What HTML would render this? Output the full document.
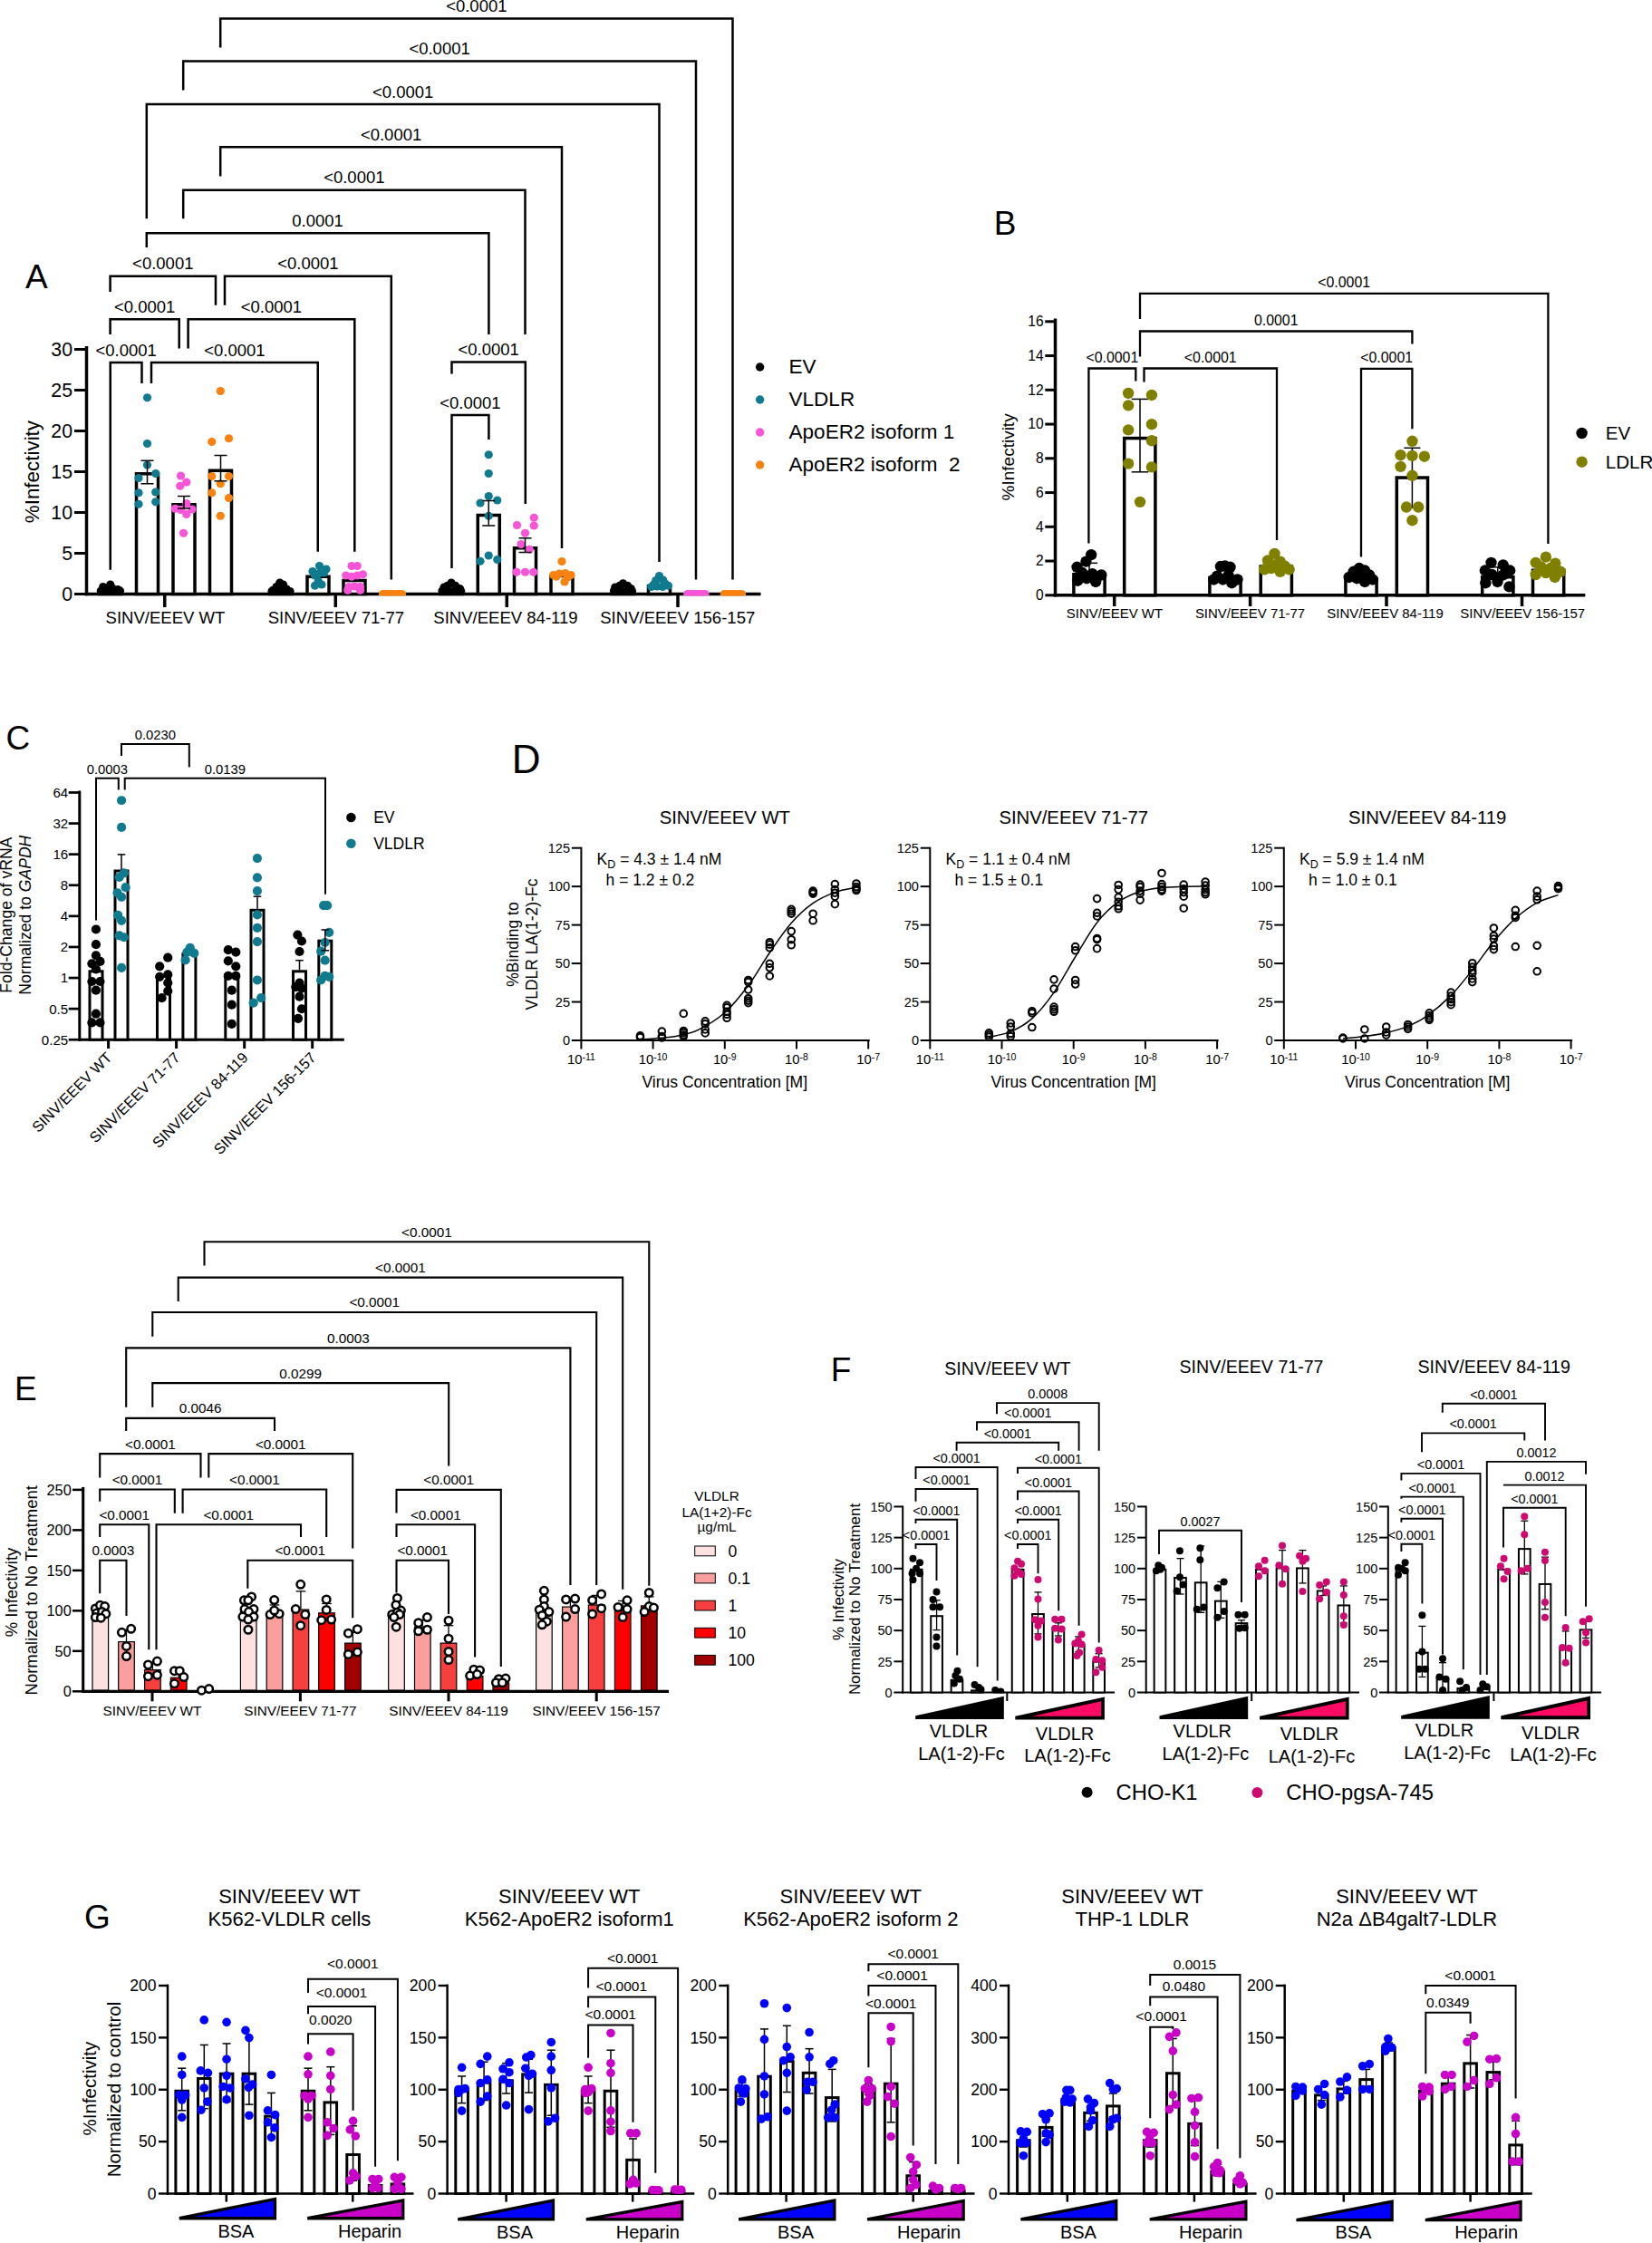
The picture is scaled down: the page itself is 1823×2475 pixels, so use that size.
<!DOCTYPE html>
<html lang="en"><head><meta charset="utf-8"><title>Figure</title>
<style>html,body{margin:0;padding:0;background:#fff}svg{display:block}text{font-family:'Liberation Sans', sans-serif;fill:#000}</style>
</head><body>
<svg width="1823" height="2475" viewBox="0 0 1823 2475">
<rect width="1823" height="2475" fill="#fff"/>
<text x="27.9" y="317.9" font-size="37" text-anchor="start">A</text>
<text x="42.8" y="520.6" font-size="22.4" text-anchor="middle" transform="rotate(-90 42.8 520.6)">%Infectivity</text>
<text x="80" y="662.5" font-size="21.3" text-anchor="end">0</text>
<text x="80" y="617.5" font-size="21.3" text-anchor="end">5</text>
<text x="80" y="572.5" font-size="21.3" text-anchor="end">10</text>
<text x="80" y="527.5" font-size="21.3" text-anchor="end">15</text>
<text x="80" y="482.5" font-size="21.3" text-anchor="end">20</text>
<text x="80" y="437.5" font-size="21.3" text-anchor="end">25</text>
<text x="80" y="392.5" font-size="21.3" text-anchor="end">30</text>
<text x="182.5" y="687.5" font-size="18.55" text-anchor="middle">SINV/EEEV WT</text>
<text x="370.9" y="687.5" font-size="18.55" text-anchor="middle">SINV/EEEV 71-77</text>
<text x="558" y="687.5" font-size="18.55" text-anchor="middle">SINV/EEEV 84-119</text>
<text x="747.75" y="687.5" font-size="18.55" text-anchor="middle">SINV/EEEV 156-157</text>
<line x1="95.5" y1="382" x2="95.5" y2="657.25" stroke="#000" stroke-width="3.5" stroke-linecap="butt"/>
<line x1="93.75" y1="655.5" x2="839.5" y2="655.5" stroke="#000" stroke-width="3.5" stroke-linecap="butt"/>
<line x1="82" y1="655.5" x2="95.5" y2="655.5" stroke="#000" stroke-width="3" stroke-linecap="butt"/>
<line x1="82" y1="610.5" x2="95.5" y2="610.5" stroke="#000" stroke-width="3" stroke-linecap="butt"/>
<line x1="82" y1="565.5" x2="95.5" y2="565.5" stroke="#000" stroke-width="3" stroke-linecap="butt"/>
<line x1="82" y1="520.5" x2="95.5" y2="520.5" stroke="#000" stroke-width="3" stroke-linecap="butt"/>
<line x1="82" y1="475.5" x2="95.5" y2="475.5" stroke="#000" stroke-width="3" stroke-linecap="butt"/>
<line x1="82" y1="430.5" x2="95.5" y2="430.5" stroke="#000" stroke-width="3" stroke-linecap="butt"/>
<line x1="82" y1="385.5" x2="95.5" y2="385.5" stroke="#000" stroke-width="3" stroke-linecap="butt"/>
<line x1="181.75" y1="655.5" x2="181.75" y2="670" stroke="#000" stroke-width="3.5" stroke-linecap="butt"/>
<line x1="370.25" y1="655.5" x2="370.25" y2="670" stroke="#000" stroke-width="3.5" stroke-linecap="butt"/>
<line x1="559.25" y1="655.5" x2="559.25" y2="670" stroke="#000" stroke-width="3.5" stroke-linecap="butt"/>
<line x1="748" y1="655.5" x2="748" y2="670" stroke="#000" stroke-width="3.5" stroke-linecap="butt"/>
<rect x="109.75" y="652.25" width="24" height="3.25" fill="#fff" stroke="#000" stroke-width="3.5"/>
<rect x="150.5" y="522.75" width="24" height="132.75" fill="#fff" stroke="#000" stroke-width="3.5"/>
<rect x="191" y="556.75" width="24" height="98.75" fill="#fff" stroke="#000" stroke-width="3.5"/>
<rect x="231.5" y="519.25" width="24" height="136.25" fill="#fff" stroke="#000" stroke-width="3.5"/>
<rect x="298" y="652.75" width="24" height="2.75" fill="#fff" stroke="#000" stroke-width="3.5"/>
<rect x="339" y="636.25" width="24" height="19.25" fill="#fff" stroke="#000" stroke-width="3.5"/>
<rect x="379" y="640.5" width="24" height="15" fill="#fff" stroke="#000" stroke-width="3.5"/>
<rect x="486.25" y="652.25" width="24" height="3.25" fill="#fff" stroke="#000" stroke-width="3.5"/>
<rect x="527.25" y="568.5" width="24" height="87" fill="#fff" stroke="#000" stroke-width="3.5"/>
<rect x="567.5" y="604.75" width="24" height="50.75" fill="#fff" stroke="#000" stroke-width="3.5"/>
<rect x="608" y="635.5" width="24" height="20" fill="#fff" stroke="#000" stroke-width="3.5"/>
<rect x="675.5" y="652.25" width="24" height="3.25" fill="#fff" stroke="#000" stroke-width="3.5"/>
<rect x="715.5" y="646.75" width="24" height="8.75" fill="#fff" stroke="#000" stroke-width="3.5"/>
<clipPath id="clipA"><rect x="90" y="300" width="760" height="357.25"/></clipPath>
<g clip-path="url(#clipA)">
<circle cx="113.75" cy="647.5" r="4.6" fill="#000"/>
<circle cx="121.75" cy="645" r="4.6" fill="#000"/>
<circle cx="130" cy="650.5" r="4.6" fill="#000"/>
<circle cx="111.25" cy="652" r="4.6" fill="#000"/>
<circle cx="118.75" cy="652" r="4.6" fill="#000"/>
<circle cx="125.5" cy="652.5" r="4.6" fill="#000"/>
<circle cx="132.5" cy="652" r="4.6" fill="#000"/>
<circle cx="116.25" cy="649.5" r="4.6" fill="#000"/>
<circle cx="123.75" cy="648.75" r="4.6" fill="#000"/>
<circle cx="162.5" cy="438.75" r="4.6" fill="#107A8E"/>
<circle cx="162.5" cy="489.5" r="4.6" fill="#107A8E"/>
<circle cx="162.5" cy="513" r="4.6" fill="#107A8E"/>
<circle cx="171.75" cy="522.5" r="4.6" fill="#107A8E"/>
<circle cx="153" cy="527.5" r="4.6" fill="#107A8E"/>
<circle cx="153" cy="543.75" r="4.6" fill="#107A8E"/>
<circle cx="171.75" cy="543" r="4.6" fill="#107A8E"/>
<circle cx="153" cy="556.25" r="4.6" fill="#107A8E"/>
<circle cx="171.75" cy="553.75" r="4.6" fill="#107A8E"/>
<circle cx="199.5" cy="525" r="4.6" fill="#F755D8"/>
<circle cx="205.75" cy="532" r="4.6" fill="#F755D8"/>
<circle cx="198.75" cy="536.25" r="4.6" fill="#F755D8"/>
<circle cx="205.75" cy="555.5" r="4.6" fill="#F755D8"/>
<circle cx="193.25" cy="561.25" r="4.6" fill="#F755D8"/>
<circle cx="199.5" cy="562.5" r="4.6" fill="#F755D8"/>
<circle cx="212" cy="562" r="4.6" fill="#F755D8"/>
<circle cx="205.75" cy="567.5" r="4.6" fill="#F755D8"/>
<circle cx="202.5" cy="588.25" r="4.6" fill="#F755D8"/>
<circle cx="243.25" cy="431.5" r="4.6" fill="#F8820F"/>
<circle cx="252.5" cy="483.75" r="4.6" fill="#F8820F"/>
<circle cx="233.75" cy="487.5" r="4.6" fill="#F8820F"/>
<circle cx="233.75" cy="525.5" r="4.6" fill="#F8820F"/>
<circle cx="252.5" cy="525.5" r="4.6" fill="#F8820F"/>
<circle cx="243.25" cy="533.75" r="4.6" fill="#F8820F"/>
<circle cx="233.75" cy="543.75" r="4.6" fill="#F8820F"/>
<circle cx="252.5" cy="549.5" r="4.6" fill="#F8820F"/>
<circle cx="243.25" cy="569.25" r="4.6" fill="#F8820F"/>
<circle cx="301.25" cy="651.25" r="4.6" fill="#000"/>
<circle cx="308.75" cy="643" r="4.6" fill="#000"/>
<circle cx="312.5" cy="645" r="4.6" fill="#000"/>
<circle cx="305" cy="647.5" r="4.6" fill="#000"/>
<circle cx="316.25" cy="650" r="4.6" fill="#000"/>
<circle cx="320" cy="652.5" r="4.6" fill="#000"/>
<circle cx="300" cy="652.5" r="4.6" fill="#000"/>
<circle cx="307.5" cy="652" r="4.6" fill="#000"/>
<circle cx="313.75" cy="652" r="4.6" fill="#000"/>
<circle cx="352.5" cy="624.5" r="4.6" fill="#107A8E"/>
<circle cx="345" cy="630.5" r="4.6" fill="#107A8E"/>
<circle cx="360" cy="628" r="4.6" fill="#107A8E"/>
<circle cx="352.5" cy="632.5" r="4.6" fill="#107A8E"/>
<circle cx="347.5" cy="635" r="4.6" fill="#107A8E"/>
<circle cx="351.25" cy="641.25" r="4.6" fill="#107A8E"/>
<circle cx="347.5" cy="646.25" r="4.6" fill="#107A8E"/>
<circle cx="355" cy="645" r="4.6" fill="#107A8E"/>
<circle cx="357.5" cy="632" r="4.6" fill="#107A8E"/>
<circle cx="388" cy="624.5" r="4.6" fill="#F755D8"/>
<circle cx="394.25" cy="624.5" r="4.6" fill="#F755D8"/>
<circle cx="381.75" cy="635" r="4.6" fill="#F755D8"/>
<circle cx="388" cy="636.25" r="4.6" fill="#F755D8"/>
<circle cx="394.25" cy="635" r="4.6" fill="#F755D8"/>
<circle cx="400.5" cy="633.75" r="4.6" fill="#F755D8"/>
<circle cx="385" cy="647.5" r="4.6" fill="#F755D8"/>
<circle cx="391.25" cy="647" r="4.6" fill="#F755D8"/>
<circle cx="397.5" cy="647.5" r="4.6" fill="#F755D8"/>
<circle cx="383.75" cy="651.25" r="4.6" fill="#F755D8"/>
<circle cx="397.5" cy="651.25" r="4.6" fill="#F755D8"/>
<circle cx="422.5" cy="655.5" r="4.6" fill="#F8820F"/>
<circle cx="425.5" cy="655.5" r="4.6" fill="#F8820F"/>
<circle cx="428.5" cy="655.5" r="4.6" fill="#F8820F"/>
<circle cx="431.5" cy="655.5" r="4.6" fill="#F8820F"/>
<circle cx="434.5" cy="655.5" r="4.6" fill="#F8820F"/>
<circle cx="437.5" cy="655.5" r="4.6" fill="#F8820F"/>
<circle cx="440.5" cy="655.5" r="4.6" fill="#F8820F"/>
<circle cx="443.5" cy="655.5" r="4.6" fill="#F8820F"/>
<circle cx="490" cy="648" r="4.6" fill="#000"/>
<circle cx="498" cy="643" r="4.6" fill="#000"/>
<circle cx="502.5" cy="646.25" r="4.6" fill="#000"/>
<circle cx="493.75" cy="646.25" r="4.6" fill="#000"/>
<circle cx="507.5" cy="649.5" r="4.6" fill="#000"/>
<circle cx="488" cy="652" r="4.6" fill="#000"/>
<circle cx="495" cy="652" r="4.6" fill="#000"/>
<circle cx="501.25" cy="652" r="4.6" fill="#000"/>
<circle cx="508.75" cy="652.5" r="4.6" fill="#000"/>
<circle cx="539.25" cy="501.75" r="4.6" fill="#107A8E"/>
<circle cx="539.25" cy="522.5" r="4.6" fill="#107A8E"/>
<circle cx="539.25" cy="547.5" r="4.6" fill="#107A8E"/>
<circle cx="548.75" cy="552" r="4.6" fill="#107A8E"/>
<circle cx="530" cy="555" r="4.6" fill="#107A8E"/>
<circle cx="539.25" cy="569.25" r="4.6" fill="#107A8E"/>
<circle cx="539.25" cy="613" r="4.6" fill="#107A8E"/>
<circle cx="530" cy="619.25" r="4.6" fill="#107A8E"/>
<circle cx="548.75" cy="617.5" r="4.6" fill="#107A8E"/>
<circle cx="589.25" cy="571.25" r="4.6" fill="#F755D8"/>
<circle cx="570.5" cy="579.5" r="4.6" fill="#F755D8"/>
<circle cx="589.25" cy="580" r="4.6" fill="#F755D8"/>
<circle cx="579.5" cy="588.25" r="4.6" fill="#F755D8"/>
<circle cx="575" cy="600.5" r="4.6" fill="#F755D8"/>
<circle cx="584.25" cy="606.25" r="4.6" fill="#F755D8"/>
<circle cx="570" cy="631.25" r="4.6" fill="#F755D8"/>
<circle cx="579.5" cy="631.25" r="4.6" fill="#F755D8"/>
<circle cx="588.75" cy="631.25" r="4.6" fill="#F755D8"/>
<circle cx="620" cy="619.5" r="4.6" fill="#F8820F"/>
<circle cx="610.75" cy="634.5" r="4.6" fill="#F8820F"/>
<circle cx="617" cy="633" r="4.6" fill="#F8820F"/>
<circle cx="623.75" cy="632.5" r="4.6" fill="#F8820F"/>
<circle cx="630" cy="634.5" r="4.6" fill="#F8820F"/>
<circle cx="613.75" cy="636.25" r="4.6" fill="#F8820F"/>
<circle cx="626.25" cy="637" r="4.6" fill="#F8820F"/>
<circle cx="623" cy="642" r="4.6" fill="#F8820F"/>
<circle cx="678.75" cy="648" r="4.6" fill="#000"/>
<circle cx="687.5" cy="643.75" r="4.6" fill="#000"/>
<circle cx="692.5" cy="646.25" r="4.6" fill="#000"/>
<circle cx="683.75" cy="646.25" r="4.6" fill="#000"/>
<circle cx="696.25" cy="649.5" r="4.6" fill="#000"/>
<circle cx="677.5" cy="652" r="4.6" fill="#000"/>
<circle cx="685" cy="652" r="4.6" fill="#000"/>
<circle cx="691.25" cy="652" r="4.6" fill="#000"/>
<circle cx="697.5" cy="652.5" r="4.6" fill="#000"/>
<circle cx="727.5" cy="635.5" r="4.6" fill="#107A8E"/>
<circle cx="723.75" cy="640.5" r="4.6" fill="#107A8E"/>
<circle cx="731.75" cy="640" r="4.6" fill="#107A8E"/>
<circle cx="718.75" cy="647.5" r="4.6" fill="#107A8E"/>
<circle cx="725" cy="647" r="4.6" fill="#107A8E"/>
<circle cx="731.25" cy="647.5" r="4.6" fill="#107A8E"/>
<circle cx="737.5" cy="646.25" r="4.6" fill="#107A8E"/>
<circle cx="721.25" cy="645" r="4.6" fill="#107A8E"/>
<circle cx="733.75" cy="643.75" r="4.6" fill="#107A8E"/>
<circle cx="758.75" cy="655.5" r="4.6" fill="#F755D8"/>
<circle cx="761.5" cy="655.5" r="4.6" fill="#F755D8"/>
<circle cx="764.25" cy="655.5" r="4.6" fill="#F755D8"/>
<circle cx="767" cy="655.5" r="4.6" fill="#F755D8"/>
<circle cx="769.75" cy="655.5" r="4.6" fill="#F755D8"/>
<circle cx="772.5" cy="655.5" r="4.6" fill="#F755D8"/>
<circle cx="775.25" cy="655.5" r="4.6" fill="#F755D8"/>
<circle cx="778" cy="655.5" r="4.6" fill="#F755D8"/>
<circle cx="799.25" cy="655.5" r="4.6" fill="#F8820F"/>
<circle cx="802" cy="655.5" r="4.6" fill="#F8820F"/>
<circle cx="804.75" cy="655.5" r="4.6" fill="#F8820F"/>
<circle cx="807.5" cy="655.5" r="4.6" fill="#F8820F"/>
<circle cx="810.25" cy="655.5" r="4.6" fill="#F8820F"/>
<circle cx="813" cy="655.5" r="4.6" fill="#F8820F"/>
<circle cx="815.75" cy="655.5" r="4.6" fill="#F8820F"/>
<circle cx="818.5" cy="655.5" r="4.6" fill="#F8820F"/>
</g>
<line x1="162.5" y1="508.25" x2="162.5" y2="533.75" stroke="#000" stroke-width="1.5" stroke-linecap="butt"/>
<line x1="155.5" y1="508.25" x2="169.5" y2="508.25" stroke="#000" stroke-width="1.5" stroke-linecap="butt"/>
<line x1="155.5" y1="533.75" x2="169.5" y2="533.75" stroke="#000" stroke-width="1.5" stroke-linecap="butt"/>
<line x1="203" y1="547.5" x2="203" y2="561" stroke="#000" stroke-width="1.5" stroke-linecap="butt"/>
<line x1="196" y1="547.5" x2="210" y2="547.5" stroke="#000" stroke-width="1.5" stroke-linecap="butt"/>
<line x1="196" y1="561" x2="210" y2="561" stroke="#000" stroke-width="1.5" stroke-linecap="butt"/>
<line x1="243.5" y1="502.5" x2="243.5" y2="530.75" stroke="#000" stroke-width="1.5" stroke-linecap="butt"/>
<line x1="236.5" y1="502.5" x2="250.5" y2="502.5" stroke="#000" stroke-width="1.5" stroke-linecap="butt"/>
<line x1="236.5" y1="530.75" x2="250.5" y2="530.75" stroke="#000" stroke-width="1.5" stroke-linecap="butt"/>
<line x1="539.25" y1="552.5" x2="539.25" y2="580" stroke="#000" stroke-width="1.5" stroke-linecap="butt"/>
<line x1="532.25" y1="552.5" x2="546.25" y2="552.5" stroke="#000" stroke-width="1.5" stroke-linecap="butt"/>
<line x1="532.25" y1="580" x2="546.25" y2="580" stroke="#000" stroke-width="1.5" stroke-linecap="butt"/>
<line x1="579.5" y1="593.75" x2="579.5" y2="609.5" stroke="#000" stroke-width="1.5" stroke-linecap="butt"/>
<line x1="572.5" y1="593.75" x2="586.5" y2="593.75" stroke="#000" stroke-width="1.5" stroke-linecap="butt"/>
<line x1="572.5" y1="609.5" x2="586.5" y2="609.5" stroke="#000" stroke-width="1.5" stroke-linecap="butt"/>
<path d="M243.2 52.5V20.4H808.5V639.5" fill="none" stroke="#000" stroke-width="2.5" stroke-linejoin="miter" stroke-linecap="butt"/>
<text x="525.85" y="13" font-size="18.5" text-anchor="middle">&lt;0.0001</text>
<path d="M202.2 99.4V67.4H768V639.5" fill="none" stroke="#000" stroke-width="2.5" stroke-linejoin="miter" stroke-linecap="butt"/>
<text x="485.1" y="60" font-size="18.5" text-anchor="middle">&lt;0.0001</text>
<path d="M161.8 241.3V114.9H727.5V620" fill="none" stroke="#000" stroke-width="2.5" stroke-linejoin="miter" stroke-linecap="butt"/>
<text x="444.65" y="107.5" font-size="18.5" text-anchor="middle">&lt;0.0001</text>
<path d="M243.2 194.4V162.3H620V605" fill="none" stroke="#000" stroke-width="2.5" stroke-linejoin="miter" stroke-linecap="butt"/>
<text x="431.6" y="154.9" font-size="18.5" text-anchor="middle">&lt;0.0001</text>
<path d="M202.2 241.3V209.8H579.5V368.9" fill="none" stroke="#000" stroke-width="2.5" stroke-linejoin="miter" stroke-linecap="butt"/>
<text x="390.85" y="202.4" font-size="18.5" text-anchor="middle">&lt;0.0001</text>
<path d="M161.8 273V257.3H539.4V368.9" fill="none" stroke="#000" stroke-width="2.5" stroke-linejoin="miter" stroke-linecap="butt"/>
<text x="350.6" y="249.9" font-size="18.5" text-anchor="middle">0.0001</text>
<path d="M121.6 322V304.8H238V336.8" fill="none" stroke="#000" stroke-width="2.5" stroke-linejoin="miter" stroke-linecap="butt"/>
<text x="179.8" y="297.4" font-size="18.5" text-anchor="middle">&lt;0.0001</text>
<path d="M248 336.8V304.8H431.8V639.6" fill="none" stroke="#000" stroke-width="2.5" stroke-linejoin="miter" stroke-linecap="butt"/>
<text x="339.9" y="297.4" font-size="18.5" text-anchor="middle">&lt;0.0001</text>
<path d="M121.6 369V352.3H197.7V384.6" fill="none" stroke="#000" stroke-width="2.5" stroke-linejoin="miter" stroke-linecap="butt"/>
<text x="159.65" y="344.9" font-size="18.5" text-anchor="middle">&lt;0.0001</text>
<path d="M207.6 384.6V352.3H391.3V608.7" fill="none" stroke="#000" stroke-width="2.5" stroke-linejoin="miter" stroke-linecap="butt"/>
<text x="299.45" y="344.9" font-size="18.5" text-anchor="middle">&lt;0.0001</text>
<path d="M121.75 628.75V400H156.5V423" fill="none" stroke="#000" stroke-width="2.5" stroke-linejoin="miter" stroke-linecap="butt"/>
<text x="139.12" y="392.6" font-size="18.5" text-anchor="middle">&lt;0.0001</text>
<path d="M167 423V400H350.75V608.75" fill="none" stroke="#000" stroke-width="2.5" stroke-linejoin="miter" stroke-linecap="butt"/>
<text x="258.88" y="392.6" font-size="18.5" text-anchor="middle">&lt;0.0001</text>
<path d="M498.5 627V458H539.4V485" fill="none" stroke="#000" stroke-width="2.5" stroke-linejoin="miter" stroke-linecap="butt"/>
<text x="518.95" y="450.6" font-size="18.5" text-anchor="middle">&lt;0.0001</text>
<path d="M498.5 412.6V399.5H579.8V556" fill="none" stroke="#000" stroke-width="2.5" stroke-linejoin="miter" stroke-linecap="butt"/>
<text x="539.15" y="392.1" font-size="18.5" text-anchor="middle">&lt;0.0001</text>
<circle cx="838.6" cy="405" r="4.7" fill="#000"/>
<text x="870.6" y="412" font-size="22.5" text-anchor="start" xml:space="preserve">EV</text>
<circle cx="838.6" cy="441" r="4.7" fill="#107A8E"/>
<text x="870.6" y="448" font-size="22.5" text-anchor="start" xml:space="preserve">VLDLR</text>
<circle cx="838.6" cy="477" r="4.7" fill="#F755D8"/>
<text x="870.6" y="484" font-size="22.5" text-anchor="start" xml:space="preserve">ApoER2 isoform 1</text>
<circle cx="838.6" cy="513" r="4.7" fill="#F8820F"/>
<text x="870.6" y="520" font-size="22.5" text-anchor="start" xml:space="preserve">ApoER2 isoform  2</text>
<text x="1096.7" y="258.9" font-size="37" text-anchor="start">B</text>
<text x="1119" y="504.4" font-size="19" text-anchor="middle" transform="rotate(-90 1119 504.4)">%Infectivity</text>
<text x="1151.7" y="662.2" font-size="15.6" text-anchor="end">0</text>
<text x="1151.7" y="624.45" font-size="15.6" text-anchor="end">2</text>
<text x="1151.7" y="586.7" font-size="15.6" text-anchor="end">4</text>
<text x="1151.7" y="548.95" font-size="15.6" text-anchor="end">6</text>
<text x="1151.7" y="511.2" font-size="15.6" text-anchor="end">8</text>
<text x="1151.7" y="473.45" font-size="15.6" text-anchor="end">10</text>
<text x="1151.7" y="435.7" font-size="15.6" text-anchor="end">12</text>
<text x="1151.7" y="397.95" font-size="15.6" text-anchor="end">14</text>
<text x="1151.7" y="360.2" font-size="15.6" text-anchor="end">16</text>
<text x="1229.9" y="682.25" font-size="14.95" text-anchor="middle">SINV/EEEV WT</text>
<text x="1379.5" y="682.25" font-size="14.95" text-anchor="middle">SINV/EEEV 71-77</text>
<text x="1528.5" y="682.25" font-size="14.95" text-anchor="middle">SINV/EEEV 84-119</text>
<text x="1680.2" y="682.25" font-size="14.95" text-anchor="middle">SINV/EEEV 156-157</text>
<line x1="1164.5" y1="351.5" x2="1164.5" y2="658.55" stroke="#000" stroke-width="3.5" stroke-linecap="butt"/>
<line x1="1162.75" y1="656.8" x2="1749.3" y2="656.8" stroke="#000" stroke-width="3.5" stroke-linecap="butt"/>
<line x1="1153.3" y1="656.8" x2="1164.5" y2="656.8" stroke="#000" stroke-width="3" stroke-linecap="butt"/>
<line x1="1153.3" y1="619.05" x2="1164.5" y2="619.05" stroke="#000" stroke-width="3" stroke-linecap="butt"/>
<line x1="1153.3" y1="581.3" x2="1164.5" y2="581.3" stroke="#000" stroke-width="3" stroke-linecap="butt"/>
<line x1="1153.3" y1="543.55" x2="1164.5" y2="543.55" stroke="#000" stroke-width="3" stroke-linecap="butt"/>
<line x1="1153.3" y1="505.8" x2="1164.5" y2="505.8" stroke="#000" stroke-width="3" stroke-linecap="butt"/>
<line x1="1153.3" y1="468.05" x2="1164.5" y2="468.05" stroke="#000" stroke-width="3" stroke-linecap="butt"/>
<line x1="1153.3" y1="430.3" x2="1164.5" y2="430.3" stroke="#000" stroke-width="3" stroke-linecap="butt"/>
<line x1="1153.3" y1="392.55" x2="1164.5" y2="392.55" stroke="#000" stroke-width="3" stroke-linecap="butt"/>
<line x1="1153.3" y1="354.8" x2="1164.5" y2="354.8" stroke="#000" stroke-width="3" stroke-linecap="butt"/>
<line x1="1229.7" y1="656.8" x2="1229.7" y2="669" stroke="#000" stroke-width="3.5" stroke-linecap="butt"/>
<line x1="1379.6" y1="656.8" x2="1379.6" y2="669" stroke="#000" stroke-width="3.5" stroke-linecap="butt"/>
<line x1="1530" y1="656.8" x2="1530" y2="669" stroke="#000" stroke-width="3.5" stroke-linecap="butt"/>
<line x1="1679.5" y1="656.8" x2="1679.5" y2="669" stroke="#000" stroke-width="3.5" stroke-linecap="butt"/>
<rect x="1184.9" y="633.75" width="34.2" height="23.05" fill="#fff" stroke="#000" stroke-width="3.5"/>
<rect x="1240.7" y="483.55" width="34.2" height="173.25" fill="#fff" stroke="#000" stroke-width="3.5"/>
<rect x="1334.9" y="637.45" width="34.2" height="19.35" fill="#fff" stroke="#000" stroke-width="3.5"/>
<rect x="1391.2" y="625.05" width="34.2" height="31.75" fill="#fff" stroke="#000" stroke-width="3.5"/>
<rect x="1484.9" y="638.75" width="34.2" height="18.05" fill="#fff" stroke="#000" stroke-width="3.5"/>
<rect x="1541.3" y="527.05" width="34.2" height="129.75" fill="#fff" stroke="#000" stroke-width="3.5"/>
<rect x="1635.7" y="636.75" width="34.2" height="20.05" fill="#fff" stroke="#000" stroke-width="3.5"/>
<rect x="1691.5" y="629.25" width="34.2" height="27.55" fill="#fff" stroke="#000" stroke-width="3.5"/>
<line x1="1258" y1="440.4" x2="1258" y2="520.8" stroke="#000" stroke-width="1.5" stroke-linecap="butt"/>
<line x1="1248.7" y1="440.4" x2="1267.3" y2="440.4" stroke="#000" stroke-width="1.5" stroke-linecap="butt"/>
<line x1="1248.7" y1="520.8" x2="1267.3" y2="520.8" stroke="#000" stroke-width="1.5" stroke-linecap="butt"/>
<line x1="1558.4" y1="494.3" x2="1558.4" y2="560" stroke="#000" stroke-width="1.5" stroke-linecap="butt"/>
<line x1="1549.4" y1="494.3" x2="1567.4" y2="494.3" stroke="#000" stroke-width="1.5" stroke-linecap="butt"/>
<line x1="1549.4" y1="560" x2="1567.4" y2="560" stroke="#000" stroke-width="1.5" stroke-linecap="butt"/>
<line x1="1202" y1="621.34" x2="1202" y2="632" stroke="#000" stroke-width="1.5" stroke-linecap="butt"/>
<line x1="1193" y1="621.34" x2="1211" y2="621.34" stroke="#000" stroke-width="1.5" stroke-linecap="butt"/>
<line x1="1193" y1="632" x2="1211" y2="632" stroke="#000" stroke-width="1.5" stroke-linecap="butt"/>
<line x1="1652.8" y1="625.81" x2="1652.8" y2="634.99" stroke="#000" stroke-width="1.5" stroke-linecap="butt"/>
<line x1="1645.8" y1="625.81" x2="1659.8" y2="625.81" stroke="#000" stroke-width="1.5" stroke-linecap="butt"/>
<line x1="1645.8" y1="634.99" x2="1659.8" y2="634.99" stroke="#000" stroke-width="1.5" stroke-linecap="butt"/>
<circle cx="1204.17" cy="612.16" r="6.2" fill="#000"/>
<circle cx="1198.46" cy="619.6" r="6.2" fill="#000"/>
<circle cx="1188.54" cy="625.81" r="6.2" fill="#000"/>
<circle cx="1189.28" cy="640.7" r="6.2" fill="#000"/>
<circle cx="1199.21" cy="638.22" r="6.2" fill="#000"/>
<circle cx="1209.14" cy="641.94" r="6.2" fill="#000"/>
<circle cx="1215.34" cy="634.49" r="6.2" fill="#000"/>
<circle cx="1194.24" cy="632.01" r="6.2" fill="#000"/>
<circle cx="1205.41" cy="633.25" r="6.2" fill="#000"/>
<circle cx="1245.13" cy="433.95" r="6.2" fill="#808000"/>
<circle cx="1270.94" cy="435.93" r="6.2" fill="#808000"/>
<circle cx="1245.13" cy="447.35" r="6.2" fill="#808000"/>
<circle cx="1270.94" cy="468.2" r="6.2" fill="#808000"/>
<circle cx="1245.13" cy="474.41" r="6.2" fill="#808000"/>
<circle cx="1270.94" cy="486.32" r="6.2" fill="#808000"/>
<circle cx="1245.13" cy="511.64" r="6.2" fill="#808000"/>
<circle cx="1270.94" cy="515.36" r="6.2" fill="#808000"/>
<circle cx="1258.03" cy="553.83" r="6.2" fill="#808000"/>
<circle cx="1346.89" cy="625.06" r="6.2" fill="#000"/>
<circle cx="1351.85" cy="624.57" r="6.2" fill="#000"/>
<circle cx="1357.56" cy="625.81" r="6.2" fill="#000"/>
<circle cx="1339.44" cy="639.46" r="6.2" fill="#000"/>
<circle cx="1349.37" cy="639.46" r="6.2" fill="#000"/>
<circle cx="1359.3" cy="643.18" r="6.2" fill="#000"/>
<circle cx="1365.5" cy="639.46" r="6.2" fill="#000"/>
<circle cx="1343.16" cy="635.74" r="6.2" fill="#000"/>
<circle cx="1355.57" cy="634.99" r="6.2" fill="#000"/>
<circle cx="1406.46" cy="610.92" r="6.2" fill="#808000"/>
<circle cx="1399.01" cy="618.36" r="6.2" fill="#808000"/>
<circle cx="1412.66" cy="619.6" r="6.2" fill="#808000"/>
<circle cx="1406.46" cy="623.33" r="6.2" fill="#808000"/>
<circle cx="1395.29" cy="628.29" r="6.2" fill="#808000"/>
<circle cx="1402.73" cy="627.05" r="6.2" fill="#808000"/>
<circle cx="1412.66" cy="630.77" r="6.2" fill="#808000"/>
<circle cx="1422.59" cy="628.29" r="6.2" fill="#808000"/>
<circle cx="1417.62" cy="624.57" r="6.2" fill="#808000"/>
<circle cx="1499.87" cy="627.05" r="6.2" fill="#000"/>
<circle cx="1493.67" cy="630.77" r="6.2" fill="#000"/>
<circle cx="1506.08" cy="629.53" r="6.2" fill="#000"/>
<circle cx="1488.7" cy="636.98" r="6.2" fill="#000"/>
<circle cx="1497.39" cy="638.22" r="6.2" fill="#000"/>
<circle cx="1506.08" cy="641.94" r="6.2" fill="#000"/>
<circle cx="1514.76" cy="639.46" r="6.2" fill="#000"/>
<circle cx="1511.04" cy="634.49" r="6.2" fill="#000"/>
<circle cx="1501.11" cy="634" r="6.2" fill="#000"/>
<circle cx="1558.45" cy="486.82" r="6.2" fill="#808000"/>
<circle cx="1545.54" cy="502.2" r="6.2" fill="#808000"/>
<circle cx="1558.45" cy="502.95" r="6.2" fill="#808000"/>
<circle cx="1571.85" cy="503.69" r="6.2" fill="#808000"/>
<circle cx="1545.54" cy="514.86" r="6.2" fill="#808000"/>
<circle cx="1558.45" cy="524.79" r="6.2" fill="#808000"/>
<circle cx="1551.99" cy="559.54" r="6.2" fill="#808000"/>
<circle cx="1565.15" cy="559.54" r="6.2" fill="#808000"/>
<circle cx="1558.45" cy="574.18" r="6.2" fill="#808000"/>
<circle cx="1645.56" cy="620.84" r="6.2" fill="#000"/>
<circle cx="1658.72" cy="623.33" r="6.2" fill="#000"/>
<circle cx="1638.86" cy="629.53" r="6.2" fill="#000"/>
<circle cx="1666.16" cy="629.53" r="6.2" fill="#000"/>
<circle cx="1646.31" cy="634" r="6.2" fill="#000"/>
<circle cx="1658.72" cy="634.49" r="6.2" fill="#000"/>
<circle cx="1639.36" cy="643.18" r="6.2" fill="#000"/>
<circle cx="1652.51" cy="641.94" r="6.2" fill="#000"/>
<circle cx="1665.42" cy="647.4" r="6.2" fill="#000"/>
<circle cx="1705.88" cy="614.64" r="6.2" fill="#808000"/>
<circle cx="1694.71" cy="620.84" r="6.2" fill="#808000"/>
<circle cx="1716.3" cy="621.59" r="6.2" fill="#808000"/>
<circle cx="1700.91" cy="625.81" r="6.2" fill="#808000"/>
<circle cx="1710.84" cy="627.05" r="6.2" fill="#808000"/>
<circle cx="1694.71" cy="634" r="6.2" fill="#808000"/>
<circle cx="1705.88" cy="632.01" r="6.2" fill="#808000"/>
<circle cx="1715.8" cy="636.98" r="6.2" fill="#808000"/>
<circle cx="1722.01" cy="630.77" r="6.2" fill="#808000"/>
<path d="M1258 352V323.8H1708.4V600" fill="none" stroke="#000" stroke-width="2.3" stroke-linejoin="miter" stroke-linecap="butt"/>
<text x="1483.2" y="316.8" font-size="15.9" text-anchor="middle">&lt;0.0001</text>
<path d="M1258 393.5V365.5H1558.4V379.6" fill="none" stroke="#000" stroke-width="2.3" stroke-linejoin="miter" stroke-linecap="butt"/>
<text x="1408.2" y="358.5" font-size="15.9" text-anchor="middle">0.0001</text>
<path d="M1201.4 599.5V406.5H1253.3V420.5" fill="none" stroke="#000" stroke-width="2.3" stroke-linejoin="miter" stroke-linecap="butt"/>
<text x="1227.35" y="399.5" font-size="15.9" text-anchor="middle">&lt;0.0001</text>
<path d="M1262.5 421.5V406.5H1409V596" fill="none" stroke="#000" stroke-width="2.3" stroke-linejoin="miter" stroke-linecap="butt"/>
<text x="1335.75" y="399.5" font-size="15.9" text-anchor="middle">&lt;0.0001</text>
<path d="M1502 614.4V406.8H1558.4V473.2" fill="none" stroke="#000" stroke-width="2.3" stroke-linejoin="miter" stroke-linecap="butt"/>
<text x="1530.2" y="399.8" font-size="15.9" text-anchor="middle">&lt;0.0001</text>
<circle cx="1745.6" cy="478" r="6.2" fill="#000"/>
<text x="1771.8" y="485.2" font-size="20.6" text-anchor="start">EV</text>
<circle cx="1745.6" cy="509.7" r="6.2" fill="#808000"/>
<text x="1771.8" y="516.8" font-size="20.6" text-anchor="start">LDLR</text>
<text x="6.5" y="827.3" font-size="37" text-anchor="start">C</text>
<text x="13.1" y="1009.7" font-size="17.6" text-anchor="middle" transform="rotate(-90 13.1 1009.7)">Fold-Change of vRNA</text>
<text x="34.5" y="1009.7" font-size="17.6" text-anchor="middle" transform="rotate(-90 34.5 1009.7)">Normalized to <tspan font-style="italic">GAPDH</tspan></text>
<text x="75.2" y="879.9" font-size="15.1" text-anchor="end">64</text>
<line x1="75.7" y1="874.5" x2="87.8" y2="874.5" stroke="#000" stroke-width="2.7" stroke-linecap="butt"/>
<text x="75.2" y="913.99" font-size="15.1" text-anchor="end">32</text>
<line x1="75.7" y1="908.59" x2="87.8" y2="908.59" stroke="#000" stroke-width="2.7" stroke-linecap="butt"/>
<text x="75.2" y="948.08" font-size="15.1" text-anchor="end">16</text>
<line x1="75.7" y1="942.68" x2="87.8" y2="942.68" stroke="#000" stroke-width="2.7" stroke-linecap="butt"/>
<text x="75.2" y="982.17" font-size="15.1" text-anchor="end">8</text>
<line x1="75.7" y1="976.77" x2="87.8" y2="976.77" stroke="#000" stroke-width="2.7" stroke-linecap="butt"/>
<text x="75.2" y="1016.26" font-size="15.1" text-anchor="end">4</text>
<line x1="75.7" y1="1010.86" x2="87.8" y2="1010.86" stroke="#000" stroke-width="2.7" stroke-linecap="butt"/>
<text x="75.2" y="1050.35" font-size="15.1" text-anchor="end">2</text>
<line x1="75.7" y1="1044.95" x2="87.8" y2="1044.95" stroke="#000" stroke-width="2.7" stroke-linecap="butt"/>
<text x="75.2" y="1084.44" font-size="15.1" text-anchor="end">1</text>
<line x1="75.7" y1="1079.04" x2="87.8" y2="1079.04" stroke="#000" stroke-width="2.7" stroke-linecap="butt"/>
<text x="75.2" y="1118.53" font-size="15.1" text-anchor="end">0.5</text>
<line x1="75.7" y1="1113.13" x2="87.8" y2="1113.13" stroke="#000" stroke-width="2.7" stroke-linecap="butt"/>
<text x="75.2" y="1152.62" font-size="15.1" text-anchor="end">0.25</text>
<line x1="75.7" y1="1147.22" x2="87.8" y2="1147.22" stroke="#000" stroke-width="2.7" stroke-linecap="butt"/>
<line x1="87.8" y1="872.6" x2="87.8" y2="1148.7" stroke="#000" stroke-width="3" stroke-linecap="butt"/>
<line x1="86.3" y1="1147.2" x2="379.8" y2="1147.2" stroke="#000" stroke-width="3" stroke-linecap="butt"/>
<line x1="119.6" y1="1147.2" x2="119.6" y2="1157" stroke="#000" stroke-width="3" stroke-linecap="butt"/>
<text x="124.6" y="1168" font-size="16.4" text-anchor="end" transform="rotate(-45 124.6 1168)">SINV/EEEV WT</text>
<line x1="194.6" y1="1147.2" x2="194.6" y2="1157" stroke="#000" stroke-width="3" stroke-linecap="butt"/>
<text x="199.6" y="1168" font-size="16.4" text-anchor="end" transform="rotate(-45 199.6 1168)">SINV/EEEV 71-77</text>
<line x1="269.7" y1="1147.2" x2="269.7" y2="1157" stroke="#000" stroke-width="3" stroke-linecap="butt"/>
<text x="274.7" y="1168" font-size="16.4" text-anchor="end" transform="rotate(-45 274.7 1168)">SINV/EEEV 84-119</text>
<line x1="344.7" y1="1147.2" x2="344.7" y2="1157" stroke="#000" stroke-width="3" stroke-linecap="butt"/>
<text x="349.7" y="1168" font-size="16.4" text-anchor="end" transform="rotate(-45 349.7 1168)">SINV/EEEV 156-157</text>
<rect x="99" y="1071.8" width="14" height="75.4" fill="#fff" stroke="#000" stroke-width="3"/>
<rect x="127" y="961" width="14" height="186.2" fill="#fff" stroke="#000" stroke-width="3"/>
<rect x="173.5" y="1076.9" width="14" height="70.3" fill="#fff" stroke="#000" stroke-width="3"/>
<rect x="201.9" y="1052.7" width="14" height="94.5" fill="#fff" stroke="#000" stroke-width="3"/>
<rect x="248.8" y="1075.4" width="14" height="71.8" fill="#fff" stroke="#000" stroke-width="3"/>
<rect x="277" y="1004.3" width="14" height="142.9" fill="#fff" stroke="#000" stroke-width="3"/>
<rect x="323.5" y="1071.8" width="14" height="75.4" fill="#fff" stroke="#000" stroke-width="3"/>
<rect x="351.8" y="1038.2" width="14" height="109" fill="#fff" stroke="#000" stroke-width="3"/>
<circle cx="105.93" cy="1025.48" r="5.1" fill="#000"/>
<circle cx="105.93" cy="1042.13" r="5.1" fill="#000"/>
<circle cx="105.93" cy="1054.24" r="5.1" fill="#000"/>
<circle cx="101.39" cy="1063.32" r="5.1" fill="#000"/>
<circle cx="110.47" cy="1060.9" r="5.1" fill="#000"/>
<circle cx="105.93" cy="1069.37" r="5.1" fill="#000"/>
<circle cx="101.39" cy="1082.99" r="5.1" fill="#000"/>
<circle cx="110.47" cy="1082.99" r="5.1" fill="#000"/>
<circle cx="105.93" cy="1092.68" r="5.1" fill="#000"/>
<circle cx="105.93" cy="1118.7" r="5.1" fill="#000"/>
<circle cx="101.39" cy="1128.39" r="5.1" fill="#000"/>
<circle cx="110.47" cy="1128.39" r="5.1" fill="#000"/>
<circle cx="134.08" cy="883.23" r="5.1" fill="#107A8E"/>
<circle cx="134.08" cy="912.89" r="5.1" fill="#107A8E"/>
<circle cx="136.8" cy="963.44" r="5.1" fill="#107A8E"/>
<circle cx="131.66" cy="967.98" r="5.1" fill="#107A8E"/>
<circle cx="138.62" cy="979.18" r="5.1" fill="#107A8E"/>
<circle cx="129.54" cy="985.23" r="5.1" fill="#107A8E"/>
<circle cx="134.08" cy="989.77" r="5.1" fill="#107A8E"/>
<circle cx="130.15" cy="1009.75" r="5.1" fill="#107A8E"/>
<circle cx="134.08" cy="1015.8" r="5.1" fill="#107A8E"/>
<circle cx="131.66" cy="1032.45" r="5.1" fill="#107A8E"/>
<circle cx="136.8" cy="1034.26" r="5.1" fill="#107A8E"/>
<circle cx="134.08" cy="1067.86" r="5.1" fill="#107A8E"/>
<circle cx="185.23" cy="1056.66" r="5.1" fill="#000"/>
<circle cx="176.15" cy="1066.34" r="5.1" fill="#000"/>
<circle cx="185.23" cy="1075.42" r="5.1" fill="#000"/>
<circle cx="176.15" cy="1077.85" r="5.1" fill="#000"/>
<circle cx="185.23" cy="1084.5" r="5.1" fill="#000"/>
<circle cx="185.23" cy="1093.58" r="5.1" fill="#000"/>
<circle cx="178.57" cy="1101.15" r="5.1" fill="#000"/>
<circle cx="209.75" cy="1045.76" r="5.1" fill="#107A8E"/>
<circle cx="206.42" cy="1050.61" r="5.1" fill="#107A8E"/>
<circle cx="214.29" cy="1051.82" r="5.1" fill="#107A8E"/>
<circle cx="204.6" cy="1059.38" r="5.1" fill="#107A8E"/>
<circle cx="251.82" cy="1048.18" r="5.1" fill="#000"/>
<circle cx="260.29" cy="1050.61" r="5.1" fill="#000"/>
<circle cx="251.82" cy="1060.29" r="5.1" fill="#000"/>
<circle cx="260.29" cy="1066.34" r="5.1" fill="#000"/>
<circle cx="251.82" cy="1076.94" r="5.1" fill="#000"/>
<circle cx="260.29" cy="1076.94" r="5.1" fill="#000"/>
<circle cx="255.75" cy="1092.68" r="5.1" fill="#000"/>
<circle cx="255.75" cy="1108.72" r="5.1" fill="#000"/>
<circle cx="255.75" cy="1129.9" r="5.1" fill="#000"/>
<circle cx="283.9" cy="947.09" r="5.1" fill="#107A8E"/>
<circle cx="283.9" cy="968.28" r="5.1" fill="#107A8E"/>
<circle cx="283.9" cy="983.11" r="5.1" fill="#107A8E"/>
<circle cx="283.9" cy="1009.44" r="5.1" fill="#107A8E"/>
<circle cx="283.9" cy="1023.97" r="5.1" fill="#107A8E"/>
<circle cx="283.9" cy="1039.1" r="5.1" fill="#107A8E"/>
<circle cx="283.9" cy="1081.48" r="5.1" fill="#107A8E"/>
<circle cx="288.14" cy="1101.15" r="5.1" fill="#107A8E"/>
<circle cx="279.66" cy="1106.6" r="5.1" fill="#107A8E"/>
<circle cx="328.39" cy="1031.54" r="5.1" fill="#000"/>
<circle cx="332.93" cy="1038.5" r="5.1" fill="#000"/>
<circle cx="330.51" cy="1050" r="5.1" fill="#000"/>
<circle cx="330.51" cy="1084.5" r="5.1" fill="#000"/>
<circle cx="326.27" cy="1089.04" r="5.1" fill="#000"/>
<circle cx="332.93" cy="1090.56" r="5.1" fill="#000"/>
<circle cx="330.51" cy="1099.64" r="5.1" fill="#000"/>
<circle cx="332.93" cy="1113.26" r="5.1" fill="#000"/>
<circle cx="329" cy="1123.85" r="5.1" fill="#000"/>
<circle cx="357.14" cy="999.15" r="5.1" fill="#107A8E"/>
<circle cx="361.08" cy="999.15" r="5.1" fill="#107A8E"/>
<circle cx="363.2" cy="1028.81" r="5.1" fill="#107A8E"/>
<circle cx="358.66" cy="1040.01" r="5.1" fill="#107A8E"/>
<circle cx="354.12" cy="1049.7" r="5.1" fill="#107A8E"/>
<circle cx="358.66" cy="1059.69" r="5.1" fill="#107A8E"/>
<circle cx="354.12" cy="1081.48" r="5.1" fill="#107A8E"/>
<circle cx="358.66" cy="1076.94" r="5.1" fill="#107A8E"/>
<circle cx="363.2" cy="1077.85" r="5.1" fill="#107A8E"/>
<line x1="134" y1="942.9" x2="134" y2="959.5" stroke="#000" stroke-width="1.5" stroke-linecap="butt"/>
<line x1="129.7" y1="942.9" x2="138.3" y2="942.9" stroke="#000" stroke-width="1.5" stroke-linecap="butt"/>
<line x1="284" y1="989.2" x2="284" y2="1002.8" stroke="#000" stroke-width="1.5" stroke-linecap="butt"/>
<line x1="279.7" y1="989.2" x2="288.3" y2="989.2" stroke="#000" stroke-width="1.5" stroke-linecap="butt"/>
<line x1="358.8" y1="1026" x2="358.8" y2="1048.8" stroke="#000" stroke-width="1.5" stroke-linecap="butt"/>
<line x1="354.5" y1="1026" x2="363.1" y2="1026" stroke="#000" stroke-width="1.5" stroke-linecap="butt"/>
<line x1="354.5" y1="1048.8" x2="363.1" y2="1048.8" stroke="#000" stroke-width="1.5" stroke-linecap="butt"/>
<line x1="330.5" y1="1059.7" x2="330.5" y2="1070.3" stroke="#000" stroke-width="1.5" stroke-linecap="butt"/>
<line x1="326.2" y1="1059.7" x2="334.8" y2="1059.7" stroke="#000" stroke-width="1.5" stroke-linecap="butt"/>
<path d="M134 834V821H208.8V846.5" fill="none" stroke="#000" stroke-width="2" stroke-linejoin="miter" stroke-linecap="butt"/>
<text x="171.4" y="815.8" font-size="14.8" text-anchor="middle">0.0230</text>
<path d="M106 1015.5V858.7H130.8V871.5" fill="none" stroke="#000" stroke-width="2" stroke-linejoin="miter" stroke-linecap="butt"/>
<text x="118.4" y="853.5" font-size="14.8" text-anchor="middle">0.0003</text>
<path d="M137.7 871.5V858.7H359V986.7" fill="none" stroke="#000" stroke-width="2" stroke-linejoin="miter" stroke-linecap="butt"/>
<text x="248.35" y="853.5" font-size="14.8" text-anchor="middle">0.0139</text>
<circle cx="387.4" cy="902" r="5.3" fill="#000"/>
<text x="412.2" y="908" font-size="17.5" text-anchor="start">EV</text>
<circle cx="387.4" cy="930.8" r="5.3" fill="#107A8E"/>
<text x="412.2" y="936.8" font-size="17.5" text-anchor="start">VLDLR</text>
<text x="564.7" y="852.9" font-size="44" text-anchor="start">D</text>
<text x="571.5" y="1042" font-size="17.5" text-anchor="middle" transform="rotate(-90 571.5 1042)">%Binding to</text>
<text x="593" y="1042" font-size="17.5" text-anchor="middle" transform="rotate(-90 593 1042)">VLDLR LA(1-2)-Fc</text>
<text x="799.8" y="909" font-size="20.3" text-anchor="middle">SINV/EEEV WT</text>
<text x="799.8" y="1199.5" font-size="17.5" text-anchor="middle">Virus Concentration [M]</text>
<text x="658.6" y="954.4" font-size="17.5" xml:space="preserve">K<tspan font-size="12.5" dy="4">D</tspan><tspan dy="-4"> = 4.3 ± 1.4 nM</tspan></text>
<text x="668.6" y="977" font-size="17.5" text-anchor="start">h = 1.2 ± 0.2</text>
<line x1="641.4" y1="934.7" x2="641.4" y2="1149" stroke="#000" stroke-width="2" stroke-linecap="butt"/>
<line x1="640.4" y1="1148" x2="959.7" y2="1148" stroke="#000" stroke-width="2" stroke-linecap="butt"/>
<line x1="630.8" y1="935.7" x2="641.4" y2="935.7" stroke="#000" stroke-width="2" stroke-linecap="butt"/>
<text x="629.1" y="941" font-size="14.6" text-anchor="end">125</text>
<line x1="630.8" y1="978.16" x2="641.4" y2="978.16" stroke="#000" stroke-width="2" stroke-linecap="butt"/>
<text x="629.1" y="983.46" font-size="14.6" text-anchor="end">100</text>
<line x1="630.8" y1="1020.62" x2="641.4" y2="1020.62" stroke="#000" stroke-width="2" stroke-linecap="butt"/>
<text x="629.1" y="1025.92" font-size="14.6" text-anchor="end">75</text>
<line x1="630.8" y1="1063.08" x2="641.4" y2="1063.08" stroke="#000" stroke-width="2" stroke-linecap="butt"/>
<text x="629.1" y="1068.38" font-size="14.6" text-anchor="end">50</text>
<line x1="630.8" y1="1105.54" x2="641.4" y2="1105.54" stroke="#000" stroke-width="2" stroke-linecap="butt"/>
<text x="629.1" y="1110.84" font-size="14.6" text-anchor="end">25</text>
<line x1="630.8" y1="1148" x2="641.4" y2="1148" stroke="#000" stroke-width="2" stroke-linecap="butt"/>
<text x="629.1" y="1153.3" font-size="14.6" text-anchor="end">0</text>
<line x1="641.4" y1="1148" x2="641.4" y2="1157.5" stroke="#000" stroke-width="2" stroke-linecap="butt"/>
<text x="641.4" y="1173.8" font-size="14.8" text-anchor="middle">10<tspan font-size="10.5" dy="-3.5">-11</tspan></text>
<line x1="720.6" y1="1148" x2="720.6" y2="1157.5" stroke="#000" stroke-width="2" stroke-linecap="butt"/>
<text x="720.6" y="1173.8" font-size="14.8" text-anchor="middle">10<tspan font-size="10.5" dy="-3.5">-10</tspan></text>
<line x1="799.8" y1="1148" x2="799.8" y2="1157.5" stroke="#000" stroke-width="2" stroke-linecap="butt"/>
<text x="799.8" y="1173.8" font-size="14.8" text-anchor="middle">10<tspan font-size="10.5" dy="-3.5">-9</tspan></text>
<line x1="879" y1="1148" x2="879" y2="1157.5" stroke="#000" stroke-width="2" stroke-linecap="butt"/>
<text x="879" y="1173.8" font-size="14.8" text-anchor="middle">10<tspan font-size="10.5" dy="-3.5">-8</tspan></text>
<line x1="958.2" y1="1148" x2="958.2" y2="1157.5" stroke="#000" stroke-width="2" stroke-linecap="butt"/>
<text x="958.2" y="1173.8" font-size="14.8" text-anchor="middle">10<tspan font-size="10.5" dy="-3.5">-7</tspan></text>
<path d="M706.46 1146.85C708.99 1146.7 715.04 1146.5 721.6 1145.94C728.16 1145.39 737.74 1145.09 745.81 1143.52C753.88 1141.96 761.1 1140.85 770.02 1136.56C778.95 1132.27 790.1 1125.97 799.38 1117.8C808.66 1109.62 817.39 1098.63 825.71 1087.53C834.04 1076.43 841.4 1062.71 849.32 1051.21C857.24 1039.71 865.26 1027.6 873.23 1018.52C881.2 1009.44 889.12 1002.38 897.14 996.73C905.16 991.08 913.39 987.55 921.36 984.62C929.33 981.7 941.03 980.08 944.96 979.18" fill="none" stroke="#000" stroke-width="1.5" stroke-linejoin="miter" stroke-linecap="butt"/>
<circle cx="944.96" cy="974.94" r="3.8" fill="none" stroke="#000" stroke-width="2"/>
<circle cx="944.96" cy="978.57" r="3.8" fill="none" stroke="#000" stroke-width="2"/>
<circle cx="944.96" cy="980.69" r="3.8" fill="none" stroke="#000" stroke-width="2"/>
<circle cx="944.96" cy="982.51" r="3.8" fill="none" stroke="#000" stroke-width="2"/>
<circle cx="921.36" cy="975.54" r="3.8" fill="none" stroke="#000" stroke-width="2"/>
<circle cx="921.36" cy="981.6" r="3.8" fill="none" stroke="#000" stroke-width="2"/>
<circle cx="921.36" cy="985.23" r="3.8" fill="none" stroke="#000" stroke-width="2"/>
<circle cx="921.36" cy="989.16" r="3.8" fill="none" stroke="#000" stroke-width="2"/>
<circle cx="921.36" cy="997.64" r="3.8" fill="none" stroke="#000" stroke-width="2"/>
<circle cx="897.14" cy="983.11" r="3.8" fill="none" stroke="#000" stroke-width="2"/>
<circle cx="897.14" cy="984.62" r="3.8" fill="none" stroke="#000" stroke-width="2"/>
<circle cx="897.14" cy="986.14" r="3.8" fill="none" stroke="#000" stroke-width="2"/>
<circle cx="897.14" cy="1008.23" r="3.8" fill="none" stroke="#000" stroke-width="2"/>
<circle cx="897.14" cy="1015.8" r="3.8" fill="none" stroke="#000" stroke-width="2"/>
<circle cx="873.23" cy="1003.39" r="3.8" fill="none" stroke="#000" stroke-width="2"/>
<circle cx="873.23" cy="1005.81" r="3.8" fill="none" stroke="#000" stroke-width="2"/>
<circle cx="873.23" cy="1008.23" r="3.8" fill="none" stroke="#000" stroke-width="2"/>
<circle cx="873.23" cy="1027.6" r="3.8" fill="none" stroke="#000" stroke-width="2"/>
<circle cx="873.23" cy="1036.68" r="3.8" fill="none" stroke="#000" stroke-width="2"/>
<circle cx="873.23" cy="1042.74" r="3.8" fill="none" stroke="#000" stroke-width="2"/>
<circle cx="849.32" cy="1039.71" r="3.8" fill="none" stroke="#000" stroke-width="2"/>
<circle cx="849.32" cy="1042.13" r="3.8" fill="none" stroke="#000" stroke-width="2"/>
<circle cx="849.32" cy="1045.76" r="3.8" fill="none" stroke="#000" stroke-width="2"/>
<circle cx="849.32" cy="1063.32" r="3.8" fill="none" stroke="#000" stroke-width="2"/>
<circle cx="849.32" cy="1067.86" r="3.8" fill="none" stroke="#000" stroke-width="2"/>
<circle cx="849.32" cy="1076.94" r="3.8" fill="none" stroke="#000" stroke-width="2"/>
<circle cx="825.71" cy="1081.48" r="3.8" fill="none" stroke="#000" stroke-width="2"/>
<circle cx="825.71" cy="1083.6" r="3.8" fill="none" stroke="#000" stroke-width="2"/>
<circle cx="825.71" cy="1092.07" r="3.8" fill="none" stroke="#000" stroke-width="2"/>
<circle cx="825.71" cy="1101.76" r="3.8" fill="none" stroke="#000" stroke-width="2"/>
<circle cx="825.71" cy="1104.18" r="3.8" fill="none" stroke="#000" stroke-width="2"/>
<circle cx="825.71" cy="1106.6" r="3.8" fill="none" stroke="#000" stroke-width="2"/>
<circle cx="802.11" cy="1109.32" r="3.8" fill="none" stroke="#000" stroke-width="2"/>
<circle cx="802.11" cy="1111.74" r="3.8" fill="none" stroke="#000" stroke-width="2"/>
<circle cx="802.11" cy="1116.28" r="3.8" fill="none" stroke="#000" stroke-width="2"/>
<circle cx="802.11" cy="1119.31" r="3.8" fill="none" stroke="#000" stroke-width="2"/>
<circle cx="802.11" cy="1123.24" r="3.8" fill="none" stroke="#000" stroke-width="2"/>
<circle cx="778.2" cy="1126.88" r="3.8" fill="none" stroke="#000" stroke-width="2"/>
<circle cx="778.2" cy="1129.9" r="3.8" fill="none" stroke="#000" stroke-width="2"/>
<circle cx="778.2" cy="1135.96" r="3.8" fill="none" stroke="#000" stroke-width="2"/>
<circle cx="778.2" cy="1139.89" r="3.8" fill="none" stroke="#000" stroke-width="2"/>
<circle cx="754.29" cy="1118.4" r="3.8" fill="none" stroke="#000" stroke-width="2"/>
<circle cx="754.29" cy="1137.47" r="3.8" fill="none" stroke="#000" stroke-width="2"/>
<circle cx="754.29" cy="1139.59" r="3.8" fill="none" stroke="#000" stroke-width="2"/>
<circle cx="754.29" cy="1142.01" r="3.8" fill="none" stroke="#000" stroke-width="2"/>
<circle cx="754.29" cy="1143.52" r="3.8" fill="none" stroke="#000" stroke-width="2"/>
<circle cx="730.38" cy="1138.08" r="3.8" fill="none" stroke="#000" stroke-width="2"/>
<circle cx="730.38" cy="1143.52" r="3.8" fill="none" stroke="#000" stroke-width="2"/>
<circle cx="730.38" cy="1145.04" r="3.8" fill="none" stroke="#000" stroke-width="2"/>
<circle cx="706.46" cy="1142.92" r="3.8" fill="none" stroke="#000" stroke-width="2"/>
<circle cx="706.46" cy="1144.43" r="3.8" fill="none" stroke="#000" stroke-width="2"/>
<text x="1184.7" y="909" font-size="20.3" text-anchor="middle">SINV/EEEV 71-77</text>
<text x="1184.7" y="1199.5" font-size="17.5" text-anchor="middle">Virus Concentration [M]</text>
<text x="1043.5" y="954.4" font-size="17.5" xml:space="preserve">K<tspan font-size="12.5" dy="4">D</tspan><tspan dy="-4"> = 1.1 ± 0.4 nM</tspan></text>
<text x="1053.5" y="977" font-size="17.5" text-anchor="start">h = 1.5 ± 0.1</text>
<line x1="1026.3" y1="934.7" x2="1026.3" y2="1149" stroke="#000" stroke-width="2" stroke-linecap="butt"/>
<line x1="1025.3" y1="1148" x2="1344.6" y2="1148" stroke="#000" stroke-width="2" stroke-linecap="butt"/>
<line x1="1015.7" y1="935.7" x2="1026.3" y2="935.7" stroke="#000" stroke-width="2" stroke-linecap="butt"/>
<text x="1014" y="941" font-size="14.6" text-anchor="end">125</text>
<line x1="1015.7" y1="978.16" x2="1026.3" y2="978.16" stroke="#000" stroke-width="2" stroke-linecap="butt"/>
<text x="1014" y="983.46" font-size="14.6" text-anchor="end">100</text>
<line x1="1015.7" y1="1020.62" x2="1026.3" y2="1020.62" stroke="#000" stroke-width="2" stroke-linecap="butt"/>
<text x="1014" y="1025.92" font-size="14.6" text-anchor="end">75</text>
<line x1="1015.7" y1="1063.08" x2="1026.3" y2="1063.08" stroke="#000" stroke-width="2" stroke-linecap="butt"/>
<text x="1014" y="1068.38" font-size="14.6" text-anchor="end">50</text>
<line x1="1015.7" y1="1105.54" x2="1026.3" y2="1105.54" stroke="#000" stroke-width="2" stroke-linecap="butt"/>
<text x="1014" y="1110.84" font-size="14.6" text-anchor="end">25</text>
<line x1="1015.7" y1="1148" x2="1026.3" y2="1148" stroke="#000" stroke-width="2" stroke-linecap="butt"/>
<text x="1014" y="1153.3" font-size="14.6" text-anchor="end">0</text>
<line x1="1026.3" y1="1148" x2="1026.3" y2="1157.5" stroke="#000" stroke-width="2" stroke-linecap="butt"/>
<text x="1026.3" y="1173.8" font-size="14.8" text-anchor="middle">10<tspan font-size="10.5" dy="-3.5">-11</tspan></text>
<line x1="1105.5" y1="1148" x2="1105.5" y2="1157.5" stroke="#000" stroke-width="2" stroke-linecap="butt"/>
<text x="1105.5" y="1173.8" font-size="14.8" text-anchor="middle">10<tspan font-size="10.5" dy="-3.5">-10</tspan></text>
<line x1="1184.7" y1="1148" x2="1184.7" y2="1157.5" stroke="#000" stroke-width="2" stroke-linecap="butt"/>
<text x="1184.7" y="1173.8" font-size="14.8" text-anchor="middle">10<tspan font-size="10.5" dy="-3.5">-9</tspan></text>
<line x1="1263.9" y1="1148" x2="1263.9" y2="1157.5" stroke="#000" stroke-width="2" stroke-linecap="butt"/>
<text x="1263.9" y="1173.8" font-size="14.8" text-anchor="middle">10<tspan font-size="10.5" dy="-3.5">-8</tspan></text>
<line x1="1343.1" y1="1148" x2="1343.1" y2="1157.5" stroke="#000" stroke-width="2" stroke-linecap="butt"/>
<text x="1343.1" y="1173.8" font-size="14.8" text-anchor="middle">10<tspan font-size="10.5" dy="-3.5">-7</tspan></text>
<path d="M1091.33 1144.43C1095.32 1143.42 1107.32 1141.81 1115.24 1138.38C1123.16 1134.95 1130.88 1131.06 1138.85 1123.85C1146.82 1116.64 1155.09 1106.45 1163.06 1095.1C1171.03 1083.75 1178.75 1068.61 1186.67 1055.75C1194.59 1042.89 1202.66 1028.01 1210.58 1017.92C1218.5 1007.83 1226.27 1000.92 1234.19 995.22C1242.11 989.52 1250.13 986.34 1258.1 983.72C1266.07 981.09 1273.99 980.39 1282.01 979.48C1290.03 978.57 1298.2 978.52 1306.22 978.27C1314.24 978.02 1326.15 978.02 1330.13 977.97" fill="none" stroke="#000" stroke-width="1.5" stroke-linejoin="miter" stroke-linecap="butt"/>
<circle cx="1330.13" cy="973.12" r="3.8" fill="none" stroke="#000" stroke-width="2"/>
<circle cx="1330.13" cy="977.06" r="3.8" fill="none" stroke="#000" stroke-width="2"/>
<circle cx="1330.13" cy="981.6" r="3.8" fill="none" stroke="#000" stroke-width="2"/>
<circle cx="1330.13" cy="984.62" r="3.8" fill="none" stroke="#000" stroke-width="2"/>
<circle cx="1330.13" cy="986.74" r="3.8" fill="none" stroke="#000" stroke-width="2"/>
<circle cx="1306.22" cy="976.15" r="3.8" fill="none" stroke="#000" stroke-width="2"/>
<circle cx="1306.22" cy="980.69" r="3.8" fill="none" stroke="#000" stroke-width="2"/>
<circle cx="1306.22" cy="984.62" r="3.8" fill="none" stroke="#000" stroke-width="2"/>
<circle cx="1306.22" cy="989.16" r="3.8" fill="none" stroke="#000" stroke-width="2"/>
<circle cx="1306.22" cy="1002.18" r="3.8" fill="none" stroke="#000" stroke-width="2"/>
<circle cx="1282.01" cy="963.44" r="3.8" fill="none" stroke="#000" stroke-width="2"/>
<circle cx="1282.01" cy="975.54" r="3.8" fill="none" stroke="#000" stroke-width="2"/>
<circle cx="1282.01" cy="978.57" r="3.8" fill="none" stroke="#000" stroke-width="2"/>
<circle cx="1282.01" cy="981.6" r="3.8" fill="none" stroke="#000" stroke-width="2"/>
<circle cx="1282.01" cy="983.11" r="3.8" fill="none" stroke="#000" stroke-width="2"/>
<circle cx="1258.1" cy="976.15" r="3.8" fill="none" stroke="#000" stroke-width="2"/>
<circle cx="1258.1" cy="978.57" r="3.8" fill="none" stroke="#000" stroke-width="2"/>
<circle cx="1258.1" cy="983.11" r="3.8" fill="none" stroke="#000" stroke-width="2"/>
<circle cx="1258.1" cy="986.14" r="3.8" fill="none" stroke="#000" stroke-width="2"/>
<circle cx="1258.1" cy="993.1" r="3.8" fill="none" stroke="#000" stroke-width="2"/>
<circle cx="1234.19" cy="976.45" r="3.8" fill="none" stroke="#000" stroke-width="2"/>
<circle cx="1234.19" cy="981.6" r="3.8" fill="none" stroke="#000" stroke-width="2"/>
<circle cx="1234.19" cy="990.07" r="3.8" fill="none" stroke="#000" stroke-width="2"/>
<circle cx="1234.19" cy="995.22" r="3.8" fill="none" stroke="#000" stroke-width="2"/>
<circle cx="1234.19" cy="999.76" r="3.8" fill="none" stroke="#000" stroke-width="2"/>
<circle cx="1234.19" cy="1002.78" r="3.8" fill="none" stroke="#000" stroke-width="2"/>
<circle cx="1210.58" cy="991.59" r="3.8" fill="none" stroke="#000" stroke-width="2"/>
<circle cx="1210.58" cy="1007.32" r="3.8" fill="none" stroke="#000" stroke-width="2"/>
<circle cx="1210.58" cy="1010.96" r="3.8" fill="none" stroke="#000" stroke-width="2"/>
<circle cx="1210.58" cy="1035.47" r="3.8" fill="none" stroke="#000" stroke-width="2"/>
<circle cx="1210.58" cy="1036.68" r="3.8" fill="none" stroke="#000" stroke-width="2"/>
<circle cx="1210.58" cy="1046.67" r="3.8" fill="none" stroke="#000" stroke-width="2"/>
<circle cx="1186.67" cy="1044.55" r="3.8" fill="none" stroke="#000" stroke-width="2"/>
<circle cx="1186.67" cy="1048.79" r="3.8" fill="none" stroke="#000" stroke-width="2"/>
<circle cx="1186.67" cy="1081.48" r="3.8" fill="none" stroke="#000" stroke-width="2"/>
<circle cx="1186.67" cy="1086.02" r="3.8" fill="none" stroke="#000" stroke-width="2"/>
<circle cx="1163.06" cy="1080.87" r="3.8" fill="none" stroke="#000" stroke-width="2"/>
<circle cx="1163.06" cy="1091.16" r="3.8" fill="none" stroke="#000" stroke-width="2"/>
<circle cx="1163.06" cy="1111.14" r="3.8" fill="none" stroke="#000" stroke-width="2"/>
<circle cx="1163.06" cy="1113.86" r="3.8" fill="none" stroke="#000" stroke-width="2"/>
<circle cx="1163.06" cy="1116.28" r="3.8" fill="none" stroke="#000" stroke-width="2"/>
<circle cx="1138.85" cy="1115.68" r="3.8" fill="none" stroke="#000" stroke-width="2"/>
<circle cx="1138.85" cy="1117.8" r="3.8" fill="none" stroke="#000" stroke-width="2"/>
<circle cx="1138.85" cy="1133.54" r="3.8" fill="none" stroke="#000" stroke-width="2"/>
<circle cx="1115.24" cy="1129" r="3.8" fill="none" stroke="#000" stroke-width="2"/>
<circle cx="1115.24" cy="1132.93" r="3.8" fill="none" stroke="#000" stroke-width="2"/>
<circle cx="1115.24" cy="1140.5" r="3.8" fill="none" stroke="#000" stroke-width="2"/>
<circle cx="1115.24" cy="1143.52" r="3.8" fill="none" stroke="#000" stroke-width="2"/>
<circle cx="1091.33" cy="1139.89" r="3.8" fill="none" stroke="#000" stroke-width="2"/>
<circle cx="1091.33" cy="1142.01" r="3.8" fill="none" stroke="#000" stroke-width="2"/>
<circle cx="1091.33" cy="1144.13" r="3.8" fill="none" stroke="#000" stroke-width="2"/>
<text x="1575.2" y="909" font-size="20.3" text-anchor="middle">SINV/EEEV 84-119</text>
<text x="1575.2" y="1199.5" font-size="17.5" text-anchor="middle">Virus Concentration [M]</text>
<text x="1434" y="954.4" font-size="17.5" xml:space="preserve">K<tspan font-size="12.5" dy="4">D</tspan><tspan dy="-4"> = 5.9 ± 1.4 nM</tspan></text>
<text x="1444" y="977" font-size="17.5" text-anchor="start">h = 1.0 ± 0.1</text>
<line x1="1416.8" y1="934.7" x2="1416.8" y2="1149" stroke="#000" stroke-width="2" stroke-linecap="butt"/>
<line x1="1415.8" y1="1148" x2="1735.1" y2="1148" stroke="#000" stroke-width="2" stroke-linecap="butt"/>
<line x1="1406.2" y1="935.7" x2="1416.8" y2="935.7" stroke="#000" stroke-width="2" stroke-linecap="butt"/>
<text x="1404.5" y="941" font-size="14.6" text-anchor="end">125</text>
<line x1="1406.2" y1="978.16" x2="1416.8" y2="978.16" stroke="#000" stroke-width="2" stroke-linecap="butt"/>
<text x="1404.5" y="983.46" font-size="14.6" text-anchor="end">100</text>
<line x1="1406.2" y1="1020.62" x2="1416.8" y2="1020.62" stroke="#000" stroke-width="2" stroke-linecap="butt"/>
<text x="1404.5" y="1025.92" font-size="14.6" text-anchor="end">75</text>
<line x1="1406.2" y1="1063.08" x2="1416.8" y2="1063.08" stroke="#000" stroke-width="2" stroke-linecap="butt"/>
<text x="1404.5" y="1068.38" font-size="14.6" text-anchor="end">50</text>
<line x1="1406.2" y1="1105.54" x2="1416.8" y2="1105.54" stroke="#000" stroke-width="2" stroke-linecap="butt"/>
<text x="1404.5" y="1110.84" font-size="14.6" text-anchor="end">25</text>
<line x1="1406.2" y1="1148" x2="1416.8" y2="1148" stroke="#000" stroke-width="2" stroke-linecap="butt"/>
<text x="1404.5" y="1153.3" font-size="14.6" text-anchor="end">0</text>
<line x1="1416.8" y1="1148" x2="1416.8" y2="1157.5" stroke="#000" stroke-width="2" stroke-linecap="butt"/>
<text x="1416.8" y="1173.8" font-size="14.8" text-anchor="middle">10<tspan font-size="10.5" dy="-3.5">-11</tspan></text>
<line x1="1496" y1="1148" x2="1496" y2="1157.5" stroke="#000" stroke-width="2" stroke-linecap="butt"/>
<text x="1496" y="1173.8" font-size="14.8" text-anchor="middle">10<tspan font-size="10.5" dy="-3.5">-10</tspan></text>
<line x1="1575.2" y1="1148" x2="1575.2" y2="1157.5" stroke="#000" stroke-width="2" stroke-linecap="butt"/>
<text x="1575.2" y="1173.8" font-size="14.8" text-anchor="middle">10<tspan font-size="10.5" dy="-3.5">-9</tspan></text>
<line x1="1654.4" y1="1148" x2="1654.4" y2="1157.5" stroke="#000" stroke-width="2" stroke-linecap="butt"/>
<text x="1654.4" y="1173.8" font-size="14.8" text-anchor="middle">10<tspan font-size="10.5" dy="-3.5">-8</tspan></text>
<line x1="1733.6" y1="1148" x2="1733.6" y2="1157.5" stroke="#000" stroke-width="2" stroke-linecap="butt"/>
<text x="1733.6" y="1173.8" font-size="14.8" text-anchor="middle">10<tspan font-size="10.5" dy="-3.5">-7</tspan></text>
<path d="M1481.9 1145.94C1485.88 1145.54 1497.84 1144.58 1505.81 1143.52C1513.78 1142.46 1521.75 1141.45 1529.72 1139.59C1537.69 1137.72 1546.21 1135.35 1553.63 1132.32C1561.04 1129.3 1566.24 1127.13 1574.21 1121.43C1582.18 1115.73 1593.03 1106.65 1601.45 1098.12C1609.87 1089.6 1616.94 1080.12 1624.76 1070.28C1632.57 1060.44 1640.44 1048.59 1648.36 1039.1C1656.28 1029.62 1664.3 1020.54 1672.27 1013.38C1680.24 1006.21 1688.31 1000.41 1696.18 996.13C1704.05 991.84 1715.6 989.06 1719.49 987.65" fill="none" stroke="#000" stroke-width="1.5" stroke-linejoin="miter" stroke-linecap="butt"/>
<circle cx="1719.49" cy="977.66" r="3.8" fill="none" stroke="#000" stroke-width="2"/>
<circle cx="1719.49" cy="979.18" r="3.8" fill="none" stroke="#000" stroke-width="2"/>
<circle cx="1719.49" cy="980.69" r="3.8" fill="none" stroke="#000" stroke-width="2"/>
<circle cx="1696.18" cy="983.11" r="3.8" fill="none" stroke="#000" stroke-width="2"/>
<circle cx="1696.18" cy="989.16" r="3.8" fill="none" stroke="#000" stroke-width="2"/>
<circle cx="1696.18" cy="992.8" r="3.8" fill="none" stroke="#000" stroke-width="2"/>
<circle cx="1696.18" cy="1043.34" r="3.8" fill="none" stroke="#000" stroke-width="2"/>
<circle cx="1696.18" cy="1071.79" r="3.8" fill="none" stroke="#000" stroke-width="2"/>
<circle cx="1672.27" cy="1004.3" r="3.8" fill="none" stroke="#000" stroke-width="2"/>
<circle cx="1672.27" cy="1010.35" r="3.8" fill="none" stroke="#000" stroke-width="2"/>
<circle cx="1672.27" cy="1012.47" r="3.8" fill="none" stroke="#000" stroke-width="2"/>
<circle cx="1672.27" cy="1044.55" r="3.8" fill="none" stroke="#000" stroke-width="2"/>
<circle cx="1648.36" cy="1023.97" r="3.8" fill="none" stroke="#000" stroke-width="2"/>
<circle cx="1648.36" cy="1032.45" r="3.8" fill="none" stroke="#000" stroke-width="2"/>
<circle cx="1648.36" cy="1036.08" r="3.8" fill="none" stroke="#000" stroke-width="2"/>
<circle cx="1648.36" cy="1043.64" r="3.8" fill="none" stroke="#000" stroke-width="2"/>
<circle cx="1648.36" cy="1047.58" r="3.8" fill="none" stroke="#000" stroke-width="2"/>
<circle cx="1624.76" cy="1062.71" r="3.8" fill="none" stroke="#000" stroke-width="2"/>
<circle cx="1624.76" cy="1066.95" r="3.8" fill="none" stroke="#000" stroke-width="2"/>
<circle cx="1624.76" cy="1070.88" r="3.8" fill="none" stroke="#000" stroke-width="2"/>
<circle cx="1624.76" cy="1073.91" r="3.8" fill="none" stroke="#000" stroke-width="2"/>
<circle cx="1624.76" cy="1079.96" r="3.8" fill="none" stroke="#000" stroke-width="2"/>
<circle cx="1624.76" cy="1083.6" r="3.8" fill="none" stroke="#000" stroke-width="2"/>
<circle cx="1601.15" cy="1095.1" r="3.8" fill="none" stroke="#000" stroke-width="2"/>
<circle cx="1601.15" cy="1099.03" r="3.8" fill="none" stroke="#000" stroke-width="2"/>
<circle cx="1601.15" cy="1102.66" r="3.8" fill="none" stroke="#000" stroke-width="2"/>
<circle cx="1601.15" cy="1105.69" r="3.8" fill="none" stroke="#000" stroke-width="2"/>
<circle cx="1601.15" cy="1108.72" r="3.8" fill="none" stroke="#000" stroke-width="2"/>
<circle cx="1577.24" cy="1117.8" r="3.8" fill="none" stroke="#000" stroke-width="2"/>
<circle cx="1577.24" cy="1120.82" r="3.8" fill="none" stroke="#000" stroke-width="2"/>
<circle cx="1577.24" cy="1123.24" r="3.8" fill="none" stroke="#000" stroke-width="2"/>
<circle cx="1577.24" cy="1125.36" r="3.8" fill="none" stroke="#000" stroke-width="2"/>
<circle cx="1553.63" cy="1130.51" r="3.8" fill="none" stroke="#000" stroke-width="2"/>
<circle cx="1553.63" cy="1132.93" r="3.8" fill="none" stroke="#000" stroke-width="2"/>
<circle cx="1553.63" cy="1135.35" r="3.8" fill="none" stroke="#000" stroke-width="2"/>
<circle cx="1529.72" cy="1132.93" r="3.8" fill="none" stroke="#000" stroke-width="2"/>
<circle cx="1529.72" cy="1138.98" r="3.8" fill="none" stroke="#000" stroke-width="2"/>
<circle cx="1529.72" cy="1142.01" r="3.8" fill="none" stroke="#000" stroke-width="2"/>
<circle cx="1505.81" cy="1135.96" r="3.8" fill="none" stroke="#000" stroke-width="2"/>
<circle cx="1505.81" cy="1145.94" r="3.8" fill="none" stroke="#000" stroke-width="2"/>
<circle cx="1481.9" cy="1145.04" r="3.8" fill="none" stroke="#000" stroke-width="2"/>
<circle cx="1481.9" cy="1145.94" r="3.8" fill="none" stroke="#000" stroke-width="2"/>
<text x="16" y="1545" font-size="37" text-anchor="start">E</text>
<text x="18.8" y="1757" font-size="18.5" text-anchor="middle" transform="rotate(-90 18.8 1757)">% Infectivity</text>
<text x="40.9" y="1754.8" font-size="18.5" text-anchor="middle" transform="rotate(-90 40.9 1754.8)">Normalized to No Treatment</text>
<text x="78.7" y="1872.1" font-size="16.3" text-anchor="end">0</text>
<line x1="80" y1="1866.3" x2="91.7" y2="1866.3" stroke="#000" stroke-width="2.5" stroke-linecap="butt"/>
<text x="78.7" y="1827.62" font-size="16.3" text-anchor="end">50</text>
<line x1="80" y1="1821.82" x2="91.7" y2="1821.82" stroke="#000" stroke-width="2.5" stroke-linecap="butt"/>
<text x="78.7" y="1783.13" font-size="16.3" text-anchor="end">100</text>
<line x1="80" y1="1777.33" x2="91.7" y2="1777.33" stroke="#000" stroke-width="2.5" stroke-linecap="butt"/>
<text x="78.7" y="1738.64" font-size="16.3" text-anchor="end">150</text>
<line x1="80" y1="1732.85" x2="91.7" y2="1732.85" stroke="#000" stroke-width="2.5" stroke-linecap="butt"/>
<text x="78.7" y="1694.16" font-size="16.3" text-anchor="end">200</text>
<line x1="80" y1="1688.36" x2="91.7" y2="1688.36" stroke="#000" stroke-width="2.5" stroke-linecap="butt"/>
<text x="78.7" y="1649.67" font-size="16.3" text-anchor="end">250</text>
<line x1="80" y1="1643.88" x2="91.7" y2="1643.88" stroke="#000" stroke-width="2.5" stroke-linecap="butt"/>
<line x1="91.7" y1="1640.9" x2="91.7" y2="1867.9" stroke="#000" stroke-width="3.1" stroke-linecap="butt"/>
<line x1="90.15" y1="1866.3" x2="738" y2="1866.3" stroke="#000" stroke-width="3.2" stroke-linecap="butt"/>
<line x1="168" y1="1866.3" x2="168" y2="1877.3" stroke="#000" stroke-width="3" stroke-linecap="butt"/>
<text x="168" y="1892.7" font-size="15.3" text-anchor="middle">SINV/EEEV WT</text>
<line x1="331.4" y1="1866.3" x2="331.4" y2="1877.3" stroke="#000" stroke-width="3" stroke-linecap="butt"/>
<text x="331.4" y="1892.7" font-size="15.3" text-anchor="middle">SINV/EEEV 71-77</text>
<line x1="495" y1="1866.3" x2="495" y2="1877.3" stroke="#000" stroke-width="3" stroke-linecap="butt"/>
<text x="495" y="1892.7" font-size="15.3" text-anchor="middle">SINV/EEEV 84-119</text>
<line x1="658.2" y1="1866.3" x2="658.2" y2="1877.3" stroke="#000" stroke-width="3" stroke-linecap="butt"/>
<text x="658.2" y="1892.7" font-size="15.3" text-anchor="middle">SINV/EEEV 156-157</text>
<rect x="102" y="1779.2" width="17.6" height="85.8" fill="#FDE0E0" stroke="#000" stroke-width="1.2"/>
<rect x="130.7" y="1811.6" width="17.6" height="53.4" fill="#FB9E9E" stroke="#000" stroke-width="1.2"/>
<rect x="159.6" y="1842.6" width="17.6" height="22.4" fill="#F63F3F" stroke="#000" stroke-width="1.2"/>
<rect x="188.4" y="1851.2" width="17.6" height="13.8" fill="#FF0000" stroke="#000" stroke-width="1.2"/>
<rect x="265.4" y="1778.6" width="17.6" height="86.4" fill="#FDE0E0" stroke="#000" stroke-width="1.2"/>
<rect x="294.2" y="1781.3" width="17.6" height="83.7" fill="#FB9E9E" stroke="#000" stroke-width="1.2"/>
<rect x="323.1" y="1776.1" width="17.6" height="88.9" fill="#F63F3F" stroke="#000" stroke-width="1.2"/>
<rect x="351.7" y="1779.8" width="17.6" height="85.2" fill="#FF0000" stroke="#000" stroke-width="1.2"/>
<rect x="380.6" y="1813.1" width="17.6" height="51.9" fill="#A00000" stroke="#000" stroke-width="1.2"/>
<rect x="428.7" y="1778.6" width="17.6" height="86.4" fill="#FDE0E0" stroke="#000" stroke-width="1.2"/>
<rect x="457.5" y="1795.2" width="17.6" height="69.8" fill="#FB9E9E" stroke="#000" stroke-width="1.2"/>
<rect x="486.2" y="1813.1" width="17.6" height="51.9" fill="#F63F3F" stroke="#000" stroke-width="1.2"/>
<rect x="515.3" y="1849.4" width="17.6" height="15.6" fill="#FF0000" stroke="#000" stroke-width="1.2"/>
<rect x="544" y="1857" width="17.6" height="8" fill="#A00000" stroke="#000" stroke-width="1.2"/>
<rect x="591.6" y="1778.6" width="17.6" height="86.4" fill="#FDE0E0" stroke="#000" stroke-width="1.2"/>
<rect x="620.6" y="1773.1" width="17.6" height="91.9" fill="#FB9E9E" stroke="#000" stroke-width="1.2"/>
<rect x="649.4" y="1771" width="17.6" height="94" fill="#F63F3F" stroke="#000" stroke-width="1.2"/>
<rect x="678.4" y="1777.6" width="17.6" height="87.4" fill="#FF0000" stroke="#000" stroke-width="1.2"/>
<rect x="707.5" y="1771.9" width="17.6" height="93.1" fill="#A00000" stroke="#000" stroke-width="1.2"/>
<line x1="139.5" y1="1798.24" x2="139.5" y2="1811" stroke="#000" stroke-width="1.3" stroke-linecap="butt"/>
<line x1="134.2" y1="1798.24" x2="144.8" y2="1798.24" stroke="#000" stroke-width="1.3" stroke-linecap="butt"/>
<line x1="168.4" y1="1834.56" x2="168.4" y2="1842" stroke="#000" stroke-width="1.3" stroke-linecap="butt"/>
<line x1="163.1" y1="1834.56" x2="173.7" y2="1834.56" stroke="#000" stroke-width="1.3" stroke-linecap="butt"/>
<line x1="197.2" y1="1843.64" x2="197.2" y2="1850.6" stroke="#000" stroke-width="1.3" stroke-linecap="butt"/>
<line x1="191.9" y1="1843.64" x2="202.5" y2="1843.64" stroke="#000" stroke-width="1.3" stroke-linecap="butt"/>
<line x1="303" y1="1771" x2="303" y2="1780.7" stroke="#000" stroke-width="1.3" stroke-linecap="butt"/>
<line x1="297.7" y1="1771" x2="308.3" y2="1771" stroke="#000" stroke-width="1.3" stroke-linecap="butt"/>
<line x1="331.9" y1="1755.87" x2="331.9" y2="1775.5" stroke="#000" stroke-width="1.3" stroke-linecap="butt"/>
<line x1="326.6" y1="1755.87" x2="337.2" y2="1755.87" stroke="#000" stroke-width="1.3" stroke-linecap="butt"/>
<line x1="360.5" y1="1769.49" x2="360.5" y2="1779.2" stroke="#000" stroke-width="1.3" stroke-linecap="butt"/>
<line x1="355.2" y1="1769.49" x2="365.8" y2="1769.49" stroke="#000" stroke-width="1.3" stroke-linecap="butt"/>
<line x1="389.4" y1="1801.27" x2="389.4" y2="1812.5" stroke="#000" stroke-width="1.3" stroke-linecap="butt"/>
<line x1="384.1" y1="1801.27" x2="394.7" y2="1801.27" stroke="#000" stroke-width="1.3" stroke-linecap="butt"/>
<line x1="466.3" y1="1787.65" x2="466.3" y2="1794.6" stroke="#000" stroke-width="1.3" stroke-linecap="butt"/>
<line x1="461" y1="1787.65" x2="471.6" y2="1787.65" stroke="#000" stroke-width="1.3" stroke-linecap="butt"/>
<line x1="495" y1="1793.7" x2="495" y2="1812.5" stroke="#000" stroke-width="1.3" stroke-linecap="butt"/>
<line x1="489.7" y1="1793.7" x2="500.3" y2="1793.7" stroke="#000" stroke-width="1.3" stroke-linecap="butt"/>
<line x1="524.1" y1="1842.13" x2="524.1" y2="1848.8" stroke="#000" stroke-width="1.3" stroke-linecap="butt"/>
<line x1="518.8" y1="1842.13" x2="529.4" y2="1842.13" stroke="#000" stroke-width="1.3" stroke-linecap="butt"/>
<line x1="552.8" y1="1851.82" x2="552.8" y2="1856.4" stroke="#000" stroke-width="1.3" stroke-linecap="butt"/>
<line x1="547.5" y1="1851.82" x2="558.1" y2="1851.82" stroke="#000" stroke-width="1.3" stroke-linecap="butt"/>
<line x1="629.4" y1="1763.44" x2="629.4" y2="1772.5" stroke="#000" stroke-width="1.3" stroke-linecap="butt"/>
<line x1="624.1" y1="1763.44" x2="634.7" y2="1763.44" stroke="#000" stroke-width="1.3" stroke-linecap="butt"/>
<line x1="658.2" y1="1760.41" x2="658.2" y2="1770.4" stroke="#000" stroke-width="1.3" stroke-linecap="butt"/>
<line x1="652.9" y1="1760.41" x2="663.5" y2="1760.41" stroke="#000" stroke-width="1.3" stroke-linecap="butt"/>
<line x1="687.2" y1="1766.46" x2="687.2" y2="1777" stroke="#000" stroke-width="1.3" stroke-linecap="butt"/>
<line x1="681.9" y1="1766.46" x2="692.5" y2="1766.46" stroke="#000" stroke-width="1.3" stroke-linecap="butt"/>
<line x1="716.3" y1="1761.92" x2="716.3" y2="1771.3" stroke="#000" stroke-width="1.3" stroke-linecap="butt"/>
<line x1="711" y1="1761.92" x2="721.6" y2="1761.92" stroke="#000" stroke-width="1.3" stroke-linecap="butt"/>
<circle cx="105.33" cy="1774.94" r="4.25" fill="#fff" stroke="#000" stroke-width="2.5"/>
<circle cx="110.47" cy="1771.31" r="4.25" fill="#fff" stroke="#000" stroke-width="2.5"/>
<circle cx="115.62" cy="1772.52" r="4.25" fill="#fff" stroke="#000" stroke-width="2.5"/>
<circle cx="106.54" cy="1780.08" r="4.25" fill="#fff" stroke="#000" stroke-width="2.5"/>
<circle cx="112.59" cy="1778.57" r="4.25" fill="#fff" stroke="#000" stroke-width="2.5"/>
<circle cx="116.83" cy="1780.69" r="4.25" fill="#fff" stroke="#000" stroke-width="2.5"/>
<circle cx="105.33" cy="1784.62" r="4.25" fill="#fff" stroke="#000" stroke-width="2.5"/>
<circle cx="111.38" cy="1785.23" r="4.25" fill="#fff" stroke="#000" stroke-width="2.5"/>
<circle cx="144.67" cy="1797.34" r="4.25" fill="#fff" stroke="#000" stroke-width="2.5"/>
<circle cx="134.38" cy="1801.27" r="4.25" fill="#fff" stroke="#000" stroke-width="2.5"/>
<circle cx="139.53" cy="1816.4" r="4.25" fill="#fff" stroke="#000" stroke-width="2.5"/>
<circle cx="139.53" cy="1827.6" r="4.25" fill="#fff" stroke="#000" stroke-width="2.5"/>
<circle cx="173.43" cy="1833.05" r="4.25" fill="#fff" stroke="#000" stroke-width="2.5"/>
<circle cx="163.44" cy="1836.99" r="4.25" fill="#fff" stroke="#000" stroke-width="2.5"/>
<circle cx="163.44" cy="1849.7" r="4.25" fill="#fff" stroke="#000" stroke-width="2.5"/>
<circle cx="173.43" cy="1848.18" r="4.25" fill="#fff" stroke="#000" stroke-width="2.5"/>
<circle cx="192.49" cy="1843.64" r="4.25" fill="#fff" stroke="#000" stroke-width="2.5"/>
<circle cx="198.24" cy="1843.64" r="4.25" fill="#fff" stroke="#000" stroke-width="2.5"/>
<circle cx="202.78" cy="1850.61" r="4.25" fill="#fff" stroke="#000" stroke-width="2.5"/>
<circle cx="192.49" cy="1857.87" r="4.25" fill="#fff" stroke="#000" stroke-width="2.5"/>
<circle cx="222.46" cy="1865.13" r="4.25" fill="#fff" stroke="#000" stroke-width="2.5"/>
<circle cx="230.63" cy="1863.62" r="4.25" fill="#fff" stroke="#000" stroke-width="2.5"/>
<circle cx="277.54" cy="1761.92" r="4.25" fill="#fff" stroke="#000" stroke-width="2.5"/>
<circle cx="269.37" cy="1765.86" r="4.25" fill="#fff" stroke="#000" stroke-width="2.5"/>
<circle cx="273.91" cy="1765.86" r="4.25" fill="#fff" stroke="#000" stroke-width="2.5"/>
<circle cx="269.98" cy="1775.54" r="4.25" fill="#fff" stroke="#000" stroke-width="2.5"/>
<circle cx="279.96" cy="1775.54" r="4.25" fill="#fff" stroke="#000" stroke-width="2.5"/>
<circle cx="274.52" cy="1778.57" r="4.25" fill="#fff" stroke="#000" stroke-width="2.5"/>
<circle cx="267.86" cy="1784.02" r="4.25" fill="#fff" stroke="#000" stroke-width="2.5"/>
<circle cx="279.96" cy="1784.02" r="4.25" fill="#fff" stroke="#000" stroke-width="2.5"/>
<circle cx="273.91" cy="1787.05" r="4.25" fill="#fff" stroke="#000" stroke-width="2.5"/>
<circle cx="273.91" cy="1798.24" r="4.25" fill="#fff" stroke="#000" stroke-width="2.5"/>
<circle cx="302.66" cy="1765.56" r="4.25" fill="#fff" stroke="#000" stroke-width="2.5"/>
<circle cx="298.12" cy="1781.6" r="4.25" fill="#fff" stroke="#000" stroke-width="2.5"/>
<circle cx="308.11" cy="1780.69" r="4.25" fill="#fff" stroke="#000" stroke-width="2.5"/>
<circle cx="302.66" cy="1777.06" r="4.25" fill="#fff" stroke="#000" stroke-width="2.5"/>
<circle cx="331.72" cy="1748.31" r="4.25" fill="#fff" stroke="#000" stroke-width="2.5"/>
<circle cx="326.27" cy="1775.54" r="4.25" fill="#fff" stroke="#000" stroke-width="2.5"/>
<circle cx="336.86" cy="1781.6" r="4.25" fill="#fff" stroke="#000" stroke-width="2.5"/>
<circle cx="331.72" cy="1793.7" r="4.25" fill="#fff" stroke="#000" stroke-width="2.5"/>
<circle cx="360.17" cy="1764.95" r="4.25" fill="#fff" stroke="#000" stroke-width="2.5"/>
<circle cx="360.17" cy="1776.45" r="4.25" fill="#fff" stroke="#000" stroke-width="2.5"/>
<circle cx="354.72" cy="1787.65" r="4.25" fill="#fff" stroke="#000" stroke-width="2.5"/>
<circle cx="365.62" cy="1787.05" r="4.25" fill="#fff" stroke="#000" stroke-width="2.5"/>
<circle cx="394.37" cy="1797.64" r="4.25" fill="#fff" stroke="#000" stroke-width="2.5"/>
<circle cx="384.38" cy="1802.18" r="4.25" fill="#fff" stroke="#000" stroke-width="2.5"/>
<circle cx="394.37" cy="1823.06" r="4.25" fill="#fff" stroke="#000" stroke-width="2.5"/>
<circle cx="384.38" cy="1825.48" r="4.25" fill="#fff" stroke="#000" stroke-width="2.5"/>
<circle cx="438.44" cy="1763.44" r="4.25" fill="#fff" stroke="#000" stroke-width="2.5"/>
<circle cx="436.92" cy="1771" r="4.25" fill="#fff" stroke="#000" stroke-width="2.5"/>
<circle cx="442.37" cy="1777.06" r="4.25" fill="#fff" stroke="#000" stroke-width="2.5"/>
<circle cx="432.69" cy="1781.6" r="4.25" fill="#fff" stroke="#000" stroke-width="2.5"/>
<circle cx="438.44" cy="1779.18" r="4.25" fill="#fff" stroke="#000" stroke-width="2.5"/>
<circle cx="440.86" cy="1781.6" r="4.25" fill="#fff" stroke="#000" stroke-width="2.5"/>
<circle cx="434.81" cy="1784.62" r="4.25" fill="#fff" stroke="#000" stroke-width="2.5"/>
<circle cx="437.23" cy="1795.22" r="4.25" fill="#fff" stroke="#000" stroke-width="2.5"/>
<circle cx="471.43" cy="1784.62" r="4.25" fill="#fff" stroke="#000" stroke-width="2.5"/>
<circle cx="461.74" cy="1790.68" r="4.25" fill="#fff" stroke="#000" stroke-width="2.5"/>
<circle cx="461.74" cy="1799.76" r="4.25" fill="#fff" stroke="#000" stroke-width="2.5"/>
<circle cx="471.43" cy="1798.24" r="4.25" fill="#fff" stroke="#000" stroke-width="2.5"/>
<circle cx="495.04" cy="1788.26" r="4.25" fill="#fff" stroke="#000" stroke-width="2.5"/>
<circle cx="495.04" cy="1808.23" r="4.25" fill="#fff" stroke="#000" stroke-width="2.5"/>
<circle cx="495.04" cy="1822.46" r="4.25" fill="#fff" stroke="#000" stroke-width="2.5"/>
<circle cx="495.04" cy="1831.54" r="4.25" fill="#fff" stroke="#000" stroke-width="2.5"/>
<circle cx="522.88" cy="1842.13" r="4.25" fill="#fff" stroke="#000" stroke-width="2.5"/>
<circle cx="529.54" cy="1843.04" r="4.25" fill="#fff" stroke="#000" stroke-width="2.5"/>
<circle cx="518.64" cy="1849.09" r="4.25" fill="#fff" stroke="#000" stroke-width="2.5"/>
<circle cx="526.51" cy="1847.58" r="4.25" fill="#fff" stroke="#000" stroke-width="2.5"/>
<circle cx="550.42" cy="1852.72" r="4.25" fill="#fff" stroke="#000" stroke-width="2.5"/>
<circle cx="557.99" cy="1852.12" r="4.25" fill="#fff" stroke="#000" stroke-width="2.5"/>
<circle cx="547.4" cy="1856.66" r="4.25" fill="#fff" stroke="#000" stroke-width="2.5"/>
<circle cx="554.36" cy="1856.66" r="4.25" fill="#fff" stroke="#000" stroke-width="2.5"/>
<circle cx="600.36" cy="1755.27" r="4.25" fill="#fff" stroke="#000" stroke-width="2.5"/>
<circle cx="600.36" cy="1764.95" r="4.25" fill="#fff" stroke="#000" stroke-width="2.5"/>
<circle cx="600.36" cy="1772.52" r="4.25" fill="#fff" stroke="#000" stroke-width="2.5"/>
<circle cx="595.22" cy="1776.15" r="4.25" fill="#fff" stroke="#000" stroke-width="2.5"/>
<circle cx="605.81" cy="1778.57" r="4.25" fill="#fff" stroke="#000" stroke-width="2.5"/>
<circle cx="598.24" cy="1782.51" r="4.25" fill="#fff" stroke="#000" stroke-width="2.5"/>
<circle cx="603.39" cy="1789.16" r="4.25" fill="#fff" stroke="#000" stroke-width="2.5"/>
<circle cx="598.24" cy="1792.8" r="4.25" fill="#fff" stroke="#000" stroke-width="2.5"/>
<circle cx="624.58" cy="1764.95" r="4.25" fill="#fff" stroke="#000" stroke-width="2.5"/>
<circle cx="634.56" cy="1764.04" r="4.25" fill="#fff" stroke="#000" stroke-width="2.5"/>
<circle cx="634.56" cy="1775.54" r="4.25" fill="#fff" stroke="#000" stroke-width="2.5"/>
<circle cx="624.58" cy="1784.02" r="4.25" fill="#fff" stroke="#000" stroke-width="2.5"/>
<circle cx="663.62" cy="1758.9" r="4.25" fill="#fff" stroke="#000" stroke-width="2.5"/>
<circle cx="653.63" cy="1765.86" r="4.25" fill="#fff" stroke="#000" stroke-width="2.5"/>
<circle cx="663.62" cy="1774.64" r="4.25" fill="#fff" stroke="#000" stroke-width="2.5"/>
<circle cx="653.63" cy="1780.99" r="4.25" fill="#fff" stroke="#000" stroke-width="2.5"/>
<circle cx="692.07" cy="1765.86" r="4.25" fill="#fff" stroke="#000" stroke-width="2.5"/>
<circle cx="682.08" cy="1773.43" r="4.25" fill="#fff" stroke="#000" stroke-width="2.5"/>
<circle cx="692.07" cy="1775.54" r="4.25" fill="#fff" stroke="#000" stroke-width="2.5"/>
<circle cx="687.23" cy="1784.62" r="4.25" fill="#fff" stroke="#000" stroke-width="2.5"/>
<circle cx="716.28" cy="1757.38" r="4.25" fill="#fff" stroke="#000" stroke-width="2.5"/>
<circle cx="716.28" cy="1772.52" r="4.25" fill="#fff" stroke="#000" stroke-width="2.5"/>
<circle cx="721.43" cy="1774.03" r="4.25" fill="#fff" stroke="#000" stroke-width="2.5"/>
<circle cx="711.14" cy="1778.57" r="4.25" fill="#fff" stroke="#000" stroke-width="2.5"/>
<path d="M225.5 1396.6V1370.3H716.3V1749.8" fill="none" stroke="#000" stroke-width="2.1" stroke-linejoin="miter" stroke-linecap="butt"/>
<text x="470.9" y="1364.7" font-size="15.3" text-anchor="middle">&lt;0.0001</text>
<path d="M196.7 1436V1409.6H687.2V1753.8" fill="none" stroke="#000" stroke-width="2.1" stroke-linejoin="miter" stroke-linecap="butt"/>
<text x="441.95" y="1404" font-size="15.3" text-anchor="middle">&lt;0.0001</text>
<path d="M168.3 1474.7V1448H658.2V1749" fill="none" stroke="#000" stroke-width="2.1" stroke-linejoin="miter" stroke-linecap="butt"/>
<text x="413.25" y="1442.4" font-size="15.3" text-anchor="middle">&lt;0.0001</text>
<path d="M139.2 1552.8V1487.4H629.4V1749" fill="none" stroke="#000" stroke-width="2.1" stroke-linejoin="miter" stroke-linecap="butt"/>
<text x="384.3" y="1481.8" font-size="15.3" text-anchor="middle">0.0003</text>
<path d="M168.3 1552.8V1526.1H495.2V1617.5" fill="none" stroke="#000" stroke-width="2.1" stroke-linejoin="miter" stroke-linecap="butt"/>
<text x="331.75" y="1520.5" font-size="15.3" text-anchor="middle">0.0299</text>
<path d="M139.2 1579V1564.9H303V1579" fill="none" stroke="#000" stroke-width="2.1" stroke-linejoin="miter" stroke-linecap="butt"/>
<text x="221.1" y="1559.3" font-size="15.3" text-anchor="middle">0.0046</text>
<path d="M110.2 1630.5V1604.1H221.5V1630.5" fill="none" stroke="#000" stroke-width="2.1" stroke-linejoin="miter" stroke-linecap="butt"/>
<text x="165.85" y="1598.5" font-size="15.3" text-anchor="middle">&lt;0.0001</text>
<path d="M230.3 1630.5V1604.1H389.2V1708.4" fill="none" stroke="#000" stroke-width="2.1" stroke-linejoin="miter" stroke-linecap="butt"/>
<text x="309.75" y="1598.5" font-size="15.3" text-anchor="middle">&lt;0.0001</text>
<path d="M110.2 1656.7V1643.5H192.8V1669.8" fill="none" stroke="#000" stroke-width="2.1" stroke-linejoin="miter" stroke-linecap="butt"/>
<text x="151.5" y="1637.9" font-size="15.3" text-anchor="middle">&lt;0.0001</text>
<path d="M201.6 1669.8V1643.5H360.2V1696" fill="none" stroke="#000" stroke-width="2.1" stroke-linejoin="miter" stroke-linecap="butt"/>
<text x="280.9" y="1637.9" font-size="15.3" text-anchor="middle">&lt;0.0001</text>
<path d="M110.2 1696V1682.2H164.3V1820.3" fill="none" stroke="#000" stroke-width="2.1" stroke-linejoin="miter" stroke-linecap="butt"/>
<text x="137.25" y="1676.6" font-size="15.3" text-anchor="middle">&lt;0.0001</text>
<path d="M172.5 1820.3V1682.2H332V1696" fill="none" stroke="#000" stroke-width="2.1" stroke-linejoin="miter" stroke-linecap="butt"/>
<text x="252.25" y="1676.6" font-size="15.3" text-anchor="middle">&lt;0.0001</text>
<path d="M110.2 1758.3V1721.7H139.5V1783.1" fill="none" stroke="#000" stroke-width="2.1" stroke-linejoin="miter" stroke-linecap="butt"/>
<text x="124.85" y="1716.1" font-size="15.3" text-anchor="middle">0.0003</text>
<path d="M273.3 1752.8V1721.7H389.2V1785.2" fill="none" stroke="#000" stroke-width="2.1" stroke-linejoin="miter" stroke-linecap="butt"/>
<text x="331.25" y="1716.1" font-size="15.3" text-anchor="middle">&lt;0.0001</text>
<path d="M437.5 1757.4V1721.7H495V1781" fill="none" stroke="#000" stroke-width="2.1" stroke-linejoin="miter" stroke-linecap="butt"/>
<text x="466.25" y="1716.1" font-size="15.3" text-anchor="middle">&lt;0.0001</text>
<path d="M437.5 1696V1682.3H524.1V1828.5" fill="none" stroke="#000" stroke-width="2.1" stroke-linejoin="miter" stroke-linecap="butt"/>
<text x="480.8" y="1676.7" font-size="15.3" text-anchor="middle">&lt;0.0001</text>
<path d="M437.5 1669.6V1643.9H552.8V1839" fill="none" stroke="#000" stroke-width="2.1" stroke-linejoin="miter" stroke-linecap="butt"/>
<text x="495.15" y="1638.3" font-size="15.3" text-anchor="middle">&lt;0.0001</text>
<text x="791" y="1656" font-size="15.35" text-anchor="middle">VLDLR</text>
<text x="791" y="1673.5" font-size="15.35" text-anchor="middle">LA(1+2)-Fc</text>
<text x="791" y="1690.2" font-size="15.35" text-anchor="middle">µg/mL</text>
<rect x="766.7" y="1706" width="22.6" height="10.8" fill="#FDE0E0" stroke="#000" stroke-width="1"/>
<text x="803.5" y="1717.7" font-size="17.6" text-anchor="start">0</text>
<rect x="766.7" y="1736.1" width="22.6" height="10.8" fill="#FB9E9E" stroke="#000" stroke-width="1"/>
<text x="803.5" y="1747.8" font-size="17.6" text-anchor="start">0.1</text>
<rect x="766.7" y="1766.2" width="22.6" height="10.8" fill="#F63F3F" stroke="#000" stroke-width="1"/>
<text x="803.5" y="1777.9" font-size="17.6" text-anchor="start">1</text>
<rect x="766.7" y="1796.3" width="22.6" height="10.8" fill="#FF0000" stroke="#000" stroke-width="1"/>
<text x="803.5" y="1808" font-size="17.6" text-anchor="start">10</text>
<rect x="766.7" y="1826.4" width="22.6" height="10.8" fill="#A00000" stroke="#000" stroke-width="1"/>
<text x="803.5" y="1838.1" font-size="17.6" text-anchor="start">100</text>
<text x="916.7" y="1523.6" font-size="37" text-anchor="start">F</text>
<text x="930.5" y="1765" font-size="16.9" text-anchor="middle" transform="rotate(-90 930.5 1765)">% Infectivity</text>
<text x="949.3" y="1764.5" font-size="16.9" text-anchor="middle" transform="rotate(-90 949.3 1764.5)">Normalized to No Treatment</text>
<text x="1111.9" y="1516.9" font-size="19.6" text-anchor="middle">SINV/EEEV WT</text>
<line x1="996.2" y1="1661.5" x2="996.2" y2="1868.5" stroke="#000" stroke-width="2" stroke-linecap="butt"/>
<line x1="995.2" y1="1867.5" x2="1230" y2="1867.5" stroke="#000" stroke-width="2" stroke-linecap="butt"/>
<line x1="1111.3" y1="1867.5" x2="1111.3" y2="1877" stroke="#000" stroke-width="2" stroke-linecap="butt"/>
<line x1="986.4" y1="1867.5" x2="996.2" y2="1867.5" stroke="#000" stroke-width="2" stroke-linecap="butt"/>
<text x="984.7" y="1872.7" font-size="14.5" text-anchor="end">0</text>
<line x1="986.4" y1="1833.33" x2="996.2" y2="1833.33" stroke="#000" stroke-width="2" stroke-linecap="butt"/>
<text x="984.7" y="1838.53" font-size="14.5" text-anchor="end">25</text>
<line x1="986.4" y1="1799.15" x2="996.2" y2="1799.15" stroke="#000" stroke-width="2" stroke-linecap="butt"/>
<text x="984.7" y="1804.35" font-size="14.5" text-anchor="end">50</text>
<line x1="986.4" y1="1764.97" x2="996.2" y2="1764.97" stroke="#000" stroke-width="2" stroke-linecap="butt"/>
<text x="984.7" y="1770.17" font-size="14.5" text-anchor="end">75</text>
<line x1="986.4" y1="1730.8" x2="996.2" y2="1730.8" stroke="#000" stroke-width="2" stroke-linecap="butt"/>
<text x="984.7" y="1736" font-size="14.5" text-anchor="end">100</text>
<line x1="986.4" y1="1696.62" x2="996.2" y2="1696.62" stroke="#000" stroke-width="2" stroke-linecap="butt"/>
<text x="984.7" y="1701.83" font-size="14.5" text-anchor="end">125</text>
<line x1="986.4" y1="1662.45" x2="996.2" y2="1662.45" stroke="#000" stroke-width="2" stroke-linecap="butt"/>
<text x="984.7" y="1667.65" font-size="14.5" text-anchor="end">150</text>
<text x="1381" y="1515.4" font-size="19.6" text-anchor="middle">SINV/EEEV 71-77</text>
<line x1="1264.7" y1="1661.5" x2="1264.7" y2="1868.5" stroke="#000" stroke-width="2" stroke-linecap="butt"/>
<line x1="1263.7" y1="1867.5" x2="1500" y2="1867.5" stroke="#000" stroke-width="2" stroke-linecap="butt"/>
<line x1="1381.2" y1="1867.5" x2="1381.2" y2="1877" stroke="#000" stroke-width="2" stroke-linecap="butt"/>
<line x1="1254.9" y1="1867.5" x2="1264.7" y2="1867.5" stroke="#000" stroke-width="2" stroke-linecap="butt"/>
<text x="1253.2" y="1872.7" font-size="14.5" text-anchor="end">0</text>
<line x1="1254.9" y1="1833.33" x2="1264.7" y2="1833.33" stroke="#000" stroke-width="2" stroke-linecap="butt"/>
<text x="1253.2" y="1838.53" font-size="14.5" text-anchor="end">25</text>
<line x1="1254.9" y1="1799.15" x2="1264.7" y2="1799.15" stroke="#000" stroke-width="2" stroke-linecap="butt"/>
<text x="1253.2" y="1804.35" font-size="14.5" text-anchor="end">50</text>
<line x1="1254.9" y1="1764.97" x2="1264.7" y2="1764.97" stroke="#000" stroke-width="2" stroke-linecap="butt"/>
<text x="1253.2" y="1770.17" font-size="14.5" text-anchor="end">75</text>
<line x1="1254.9" y1="1730.8" x2="1264.7" y2="1730.8" stroke="#000" stroke-width="2" stroke-linecap="butt"/>
<text x="1253.2" y="1736" font-size="14.5" text-anchor="end">100</text>
<line x1="1254.9" y1="1696.62" x2="1264.7" y2="1696.62" stroke="#000" stroke-width="2" stroke-linecap="butt"/>
<text x="1253.2" y="1701.83" font-size="14.5" text-anchor="end">125</text>
<line x1="1254.9" y1="1662.45" x2="1264.7" y2="1662.45" stroke="#000" stroke-width="2" stroke-linecap="butt"/>
<text x="1253.2" y="1667.65" font-size="14.5" text-anchor="end">150</text>
<text x="1648.7" y="1515.4" font-size="19.6" text-anchor="middle">SINV/EEEV 84-119</text>
<line x1="1531.8" y1="1661.5" x2="1531.8" y2="1868.5" stroke="#000" stroke-width="2" stroke-linecap="butt"/>
<line x1="1530.8" y1="1867.5" x2="1767" y2="1867.5" stroke="#000" stroke-width="2" stroke-linecap="butt"/>
<line x1="1648.4" y1="1867.5" x2="1648.4" y2="1877" stroke="#000" stroke-width="2" stroke-linecap="butt"/>
<line x1="1522" y1="1867.5" x2="1531.8" y2="1867.5" stroke="#000" stroke-width="2" stroke-linecap="butt"/>
<text x="1520.3" y="1872.7" font-size="14.5" text-anchor="end">0</text>
<line x1="1522" y1="1833.33" x2="1531.8" y2="1833.33" stroke="#000" stroke-width="2" stroke-linecap="butt"/>
<text x="1520.3" y="1838.53" font-size="14.5" text-anchor="end">25</text>
<line x1="1522" y1="1799.15" x2="1531.8" y2="1799.15" stroke="#000" stroke-width="2" stroke-linecap="butt"/>
<text x="1520.3" y="1804.35" font-size="14.5" text-anchor="end">50</text>
<line x1="1522" y1="1764.97" x2="1531.8" y2="1764.97" stroke="#000" stroke-width="2" stroke-linecap="butt"/>
<text x="1520.3" y="1770.17" font-size="14.5" text-anchor="end">75</text>
<line x1="1522" y1="1730.8" x2="1531.8" y2="1730.8" stroke="#000" stroke-width="2" stroke-linecap="butt"/>
<text x="1520.3" y="1736" font-size="14.5" text-anchor="end">100</text>
<line x1="1522" y1="1696.62" x2="1531.8" y2="1696.62" stroke="#000" stroke-width="2" stroke-linecap="butt"/>
<text x="1520.3" y="1701.83" font-size="14.5" text-anchor="end">125</text>
<line x1="1522" y1="1662.45" x2="1531.8" y2="1662.45" stroke="#000" stroke-width="2" stroke-linecap="butt"/>
<text x="1520.3" y="1667.65" font-size="14.5" text-anchor="end">150</text>
<rect x="1004.85" y="1731.8" width="12.7" height="135.7" fill="#fff" stroke="#000" stroke-width="2"/>
<rect x="1027.23" y="1783.2" width="12.7" height="84.3" fill="#fff" stroke="#000" stroke-width="2"/>
<rect x="1049.61" y="1853.87" width="12.7" height="13.63" fill="#fff" stroke="#000" stroke-width="2"/>
<rect x="1071.99" y="1865.36" width="12.7" height="2.14" fill="#fff" stroke="#000" stroke-width="2"/>
<rect x="1116.75" y="1731.8" width="12.7" height="135.7" fill="#fff" stroke="#000" stroke-width="2"/>
<rect x="1139.13" y="1781.01" width="12.7" height="86.49" fill="#fff" stroke="#000" stroke-width="2"/>
<rect x="1161.51" y="1796.32" width="12.7" height="71.18" fill="#fff" stroke="#000" stroke-width="2"/>
<rect x="1183.89" y="1815.19" width="12.7" height="52.31" fill="#fff" stroke="#000" stroke-width="2"/>
<rect x="1206.27" y="1833.37" width="12.7" height="34.13" fill="#fff" stroke="#000" stroke-width="2"/>
<rect x="1273.65" y="1731.8" width="12.7" height="135.7" fill="#fff" stroke="#000" stroke-width="2"/>
<rect x="1296.15" y="1740.96" width="12.7" height="126.54" fill="#fff" stroke="#000" stroke-width="2"/>
<rect x="1318.85" y="1746.29" width="12.7" height="121.21" fill="#fff" stroke="#000" stroke-width="2"/>
<rect x="1340.95" y="1766.66" width="12.7" height="100.84" fill="#fff" stroke="#000" stroke-width="2"/>
<rect x="1363.65" y="1791.13" width="12.7" height="76.37" fill="#fff" stroke="#000" stroke-width="2"/>
<rect x="1385.95" y="1731.8" width="12.7" height="135.7" fill="#fff" stroke="#000" stroke-width="2"/>
<rect x="1408.65" y="1730.43" width="12.7" height="137.07" fill="#fff" stroke="#000" stroke-width="2"/>
<rect x="1431.05" y="1730.43" width="12.7" height="137.07" fill="#fff" stroke="#000" stroke-width="2"/>
<rect x="1453.75" y="1755.45" width="12.7" height="112.05" fill="#fff" stroke="#000" stroke-width="2"/>
<rect x="1476.45" y="1771.44" width="12.7" height="96.06" fill="#fff" stroke="#000" stroke-width="2"/>
<rect x="1540.65" y="1731.8" width="12.7" height="135.7" fill="#fff" stroke="#000" stroke-width="2"/>
<rect x="1563.05" y="1823.66" width="12.7" height="43.84" fill="#fff" stroke="#000" stroke-width="2"/>
<rect x="1585.65" y="1851.55" width="12.7" height="15.95" fill="#fff" stroke="#000" stroke-width="2"/>
<rect x="1608.45" y="1863.03" width="12.7" height="4.47" fill="#fff" stroke="#000" stroke-width="2"/>
<rect x="1630.85" y="1863.72" width="12.7" height="3.78" fill="#fff" stroke="#000" stroke-width="2"/>
<rect x="1653.25" y="1731.8" width="12.7" height="135.7" fill="#fff" stroke="#000" stroke-width="2"/>
<rect x="1675.95" y="1709.11" width="12.7" height="158.39" fill="#fff" stroke="#000" stroke-width="2"/>
<rect x="1698.65" y="1747.93" width="12.7" height="119.57" fill="#fff" stroke="#000" stroke-width="2"/>
<rect x="1721.35" y="1819.7" width="12.7" height="47.8" fill="#fff" stroke="#000" stroke-width="2"/>
<rect x="1743.65" y="1798.37" width="12.7" height="69.13" fill="#fff" stroke="#000" stroke-width="2"/>
<line x1="1033.58" y1="1765.8" x2="1033.58" y2="1798.6" stroke="#000" stroke-width="1.3" stroke-linecap="butt"/>
<line x1="1029.58" y1="1765.8" x2="1037.58" y2="1765.8" stroke="#000" stroke-width="1.3" stroke-linecap="butt"/>
<line x1="1029.58" y1="1798.6" x2="1037.58" y2="1798.6" stroke="#000" stroke-width="1.3" stroke-linecap="butt"/>
<line x1="1145.48" y1="1756.9" x2="1145.48" y2="1802.91" stroke="#000" stroke-width="1.3" stroke-linecap="butt"/>
<line x1="1141.48" y1="1756.9" x2="1149.48" y2="1756.9" stroke="#000" stroke-width="1.3" stroke-linecap="butt"/>
<line x1="1141.48" y1="1802.91" x2="1149.48" y2="1802.91" stroke="#000" stroke-width="1.3" stroke-linecap="butt"/>
<line x1="1167.86" y1="1790.8" x2="1167.86" y2="1805.02" stroke="#000" stroke-width="1.3" stroke-linecap="butt"/>
<line x1="1163.86" y1="1790.8" x2="1171.86" y2="1790.8" stroke="#000" stroke-width="1.3" stroke-linecap="butt"/>
<line x1="1163.86" y1="1805.02" x2="1171.86" y2="1805.02" stroke="#000" stroke-width="1.3" stroke-linecap="butt"/>
<line x1="1190.24" y1="1805.93" x2="1190.24" y2="1822.58" stroke="#000" stroke-width="1.3" stroke-linecap="butt"/>
<line x1="1186.24" y1="1805.93" x2="1194.24" y2="1805.93" stroke="#000" stroke-width="1.3" stroke-linecap="butt"/>
<line x1="1186.24" y1="1822.58" x2="1194.24" y2="1822.58" stroke="#000" stroke-width="1.3" stroke-linecap="butt"/>
<line x1="1212.62" y1="1824.7" x2="1212.62" y2="1839.83" stroke="#000" stroke-width="1.3" stroke-linecap="butt"/>
<line x1="1208.62" y1="1824.7" x2="1216.62" y2="1824.7" stroke="#000" stroke-width="1.3" stroke-linecap="butt"/>
<line x1="1208.62" y1="1839.83" x2="1216.62" y2="1839.83" stroke="#000" stroke-width="1.3" stroke-linecap="butt"/>
<line x1="1302.5" y1="1719.67" x2="1302.5" y2="1759.02" stroke="#000" stroke-width="1.3" stroke-linecap="butt"/>
<line x1="1298.5" y1="1719.67" x2="1306.5" y2="1719.67" stroke="#000" stroke-width="1.3" stroke-linecap="butt"/>
<line x1="1298.5" y1="1759.02" x2="1306.5" y2="1759.02" stroke="#000" stroke-width="1.3" stroke-linecap="butt"/>
<line x1="1325.2" y1="1706.05" x2="1325.2" y2="1779.3" stroke="#000" stroke-width="1.3" stroke-linecap="butt"/>
<line x1="1321.2" y1="1706.05" x2="1329.2" y2="1706.05" stroke="#000" stroke-width="1.3" stroke-linecap="butt"/>
<line x1="1321.2" y1="1779.3" x2="1329.2" y2="1779.3" stroke="#000" stroke-width="1.3" stroke-linecap="butt"/>
<line x1="1347.3" y1="1745.4" x2="1347.3" y2="1785.35" stroke="#000" stroke-width="1.3" stroke-linecap="butt"/>
<line x1="1343.3" y1="1745.4" x2="1351.3" y2="1745.4" stroke="#000" stroke-width="1.3" stroke-linecap="butt"/>
<line x1="1343.3" y1="1785.35" x2="1351.3" y2="1785.35" stroke="#000" stroke-width="1.3" stroke-linecap="butt"/>
<line x1="1370" y1="1787.77" x2="1370" y2="1796.85" stroke="#000" stroke-width="1.3" stroke-linecap="butt"/>
<line x1="1366" y1="1787.77" x2="1374" y2="1787.77" stroke="#000" stroke-width="1.3" stroke-linecap="butt"/>
<line x1="1366" y1="1796.85" x2="1374" y2="1796.85" stroke="#000" stroke-width="1.3" stroke-linecap="butt"/>
<line x1="1415" y1="1710.59" x2="1415" y2="1748.43" stroke="#000" stroke-width="1.3" stroke-linecap="butt"/>
<line x1="1411" y1="1710.59" x2="1419" y2="1710.59" stroke="#000" stroke-width="1.3" stroke-linecap="butt"/>
<line x1="1411" y1="1748.43" x2="1419" y2="1748.43" stroke="#000" stroke-width="1.3" stroke-linecap="butt"/>
<line x1="1437.4" y1="1710.59" x2="1437.4" y2="1746.91" stroke="#000" stroke-width="1.3" stroke-linecap="butt"/>
<line x1="1433.4" y1="1710.59" x2="1441.4" y2="1710.59" stroke="#000" stroke-width="1.3" stroke-linecap="butt"/>
<line x1="1433.4" y1="1746.91" x2="1441.4" y2="1746.91" stroke="#000" stroke-width="1.3" stroke-linecap="butt"/>
<line x1="1460.1" y1="1749.94" x2="1460.1" y2="1760.53" stroke="#000" stroke-width="1.3" stroke-linecap="butt"/>
<line x1="1456.1" y1="1749.94" x2="1464.1" y2="1749.94" stroke="#000" stroke-width="1.3" stroke-linecap="butt"/>
<line x1="1456.1" y1="1760.53" x2="1464.1" y2="1760.53" stroke="#000" stroke-width="1.3" stroke-linecap="butt"/>
<line x1="1482.8" y1="1749.94" x2="1482.8" y2="1790.8" stroke="#000" stroke-width="1.3" stroke-linecap="butt"/>
<line x1="1478.8" y1="1749.94" x2="1486.8" y2="1749.94" stroke="#000" stroke-width="1.3" stroke-linecap="butt"/>
<line x1="1478.8" y1="1790.8" x2="1486.8" y2="1790.8" stroke="#000" stroke-width="1.3" stroke-linecap="butt"/>
<line x1="1569.4" y1="1794.43" x2="1569.4" y2="1850.42" stroke="#000" stroke-width="1.3" stroke-linecap="butt"/>
<line x1="1565.4" y1="1794.43" x2="1573.4" y2="1794.43" stroke="#000" stroke-width="1.3" stroke-linecap="butt"/>
<line x1="1565.4" y1="1850.42" x2="1573.4" y2="1850.42" stroke="#000" stroke-width="1.3" stroke-linecap="butt"/>
<line x1="1592" y1="1834.69" x2="1592" y2="1864.95" stroke="#000" stroke-width="1.3" stroke-linecap="butt"/>
<line x1="1588" y1="1834.69" x2="1596" y2="1834.69" stroke="#000" stroke-width="1.3" stroke-linecap="butt"/>
<line x1="1588" y1="1864.95" x2="1596" y2="1864.95" stroke="#000" stroke-width="1.3" stroke-linecap="butt"/>
<line x1="1682.3" y1="1678.21" x2="1682.3" y2="1736.92" stroke="#000" stroke-width="1.3" stroke-linecap="butt"/>
<line x1="1678.3" y1="1678.21" x2="1686.3" y2="1678.21" stroke="#000" stroke-width="1.3" stroke-linecap="butt"/>
<line x1="1678.3" y1="1736.92" x2="1686.3" y2="1736.92" stroke="#000" stroke-width="1.3" stroke-linecap="butt"/>
<line x1="1705" y1="1718.16" x2="1705" y2="1775.67" stroke="#000" stroke-width="1.3" stroke-linecap="butt"/>
<line x1="1701" y1="1718.16" x2="1709" y2="1718.16" stroke="#000" stroke-width="1.3" stroke-linecap="butt"/>
<line x1="1701" y1="1775.67" x2="1709" y2="1775.67" stroke="#000" stroke-width="1.3" stroke-linecap="butt"/>
<line x1="1727.7" y1="1799.88" x2="1727.7" y2="1836.2" stroke="#000" stroke-width="1.3" stroke-linecap="butt"/>
<line x1="1723.7" y1="1799.88" x2="1731.7" y2="1799.88" stroke="#000" stroke-width="1.3" stroke-linecap="butt"/>
<line x1="1723.7" y1="1836.2" x2="1731.7" y2="1836.2" stroke="#000" stroke-width="1.3" stroke-linecap="butt"/>
<line x1="1750" y1="1789.29" x2="1750" y2="1807.45" stroke="#000" stroke-width="1.3" stroke-linecap="butt"/>
<line x1="1746" y1="1789.29" x2="1754" y2="1789.29" stroke="#000" stroke-width="1.3" stroke-linecap="butt"/>
<line x1="1746" y1="1807.45" x2="1754" y2="1807.45" stroke="#000" stroke-width="1.3" stroke-linecap="butt"/>
<clipPath id="clipF"><rect x="990" y="1500" width="800" height="368.5"/></clipPath>
<g clip-path="url(#clipF)">
<circle cx="1007.45" cy="1719.67" r="4" fill="#000"/>
<circle cx="1015.01" cy="1724.21" r="4" fill="#000"/>
<circle cx="1011.08" cy="1730.87" r="4" fill="#000"/>
<circle cx="1006.54" cy="1736.32" r="4" fill="#000"/>
<circle cx="1015.01" cy="1736.32" r="4" fill="#000"/>
<circle cx="1007.45" cy="1743.28" r="4" fill="#000"/>
<circle cx="1033.47" cy="1756.6" r="4" fill="#000"/>
<circle cx="1029.54" cy="1765.07" r="4" fill="#000"/>
<circle cx="1029.54" cy="1773.24" r="4" fill="#000"/>
<circle cx="1037.11" cy="1773.24" r="4" fill="#000"/>
<circle cx="1033.47" cy="1806.54" r="4" fill="#000"/>
<circle cx="1033.47" cy="1816.53" r="4" fill="#000"/>
<circle cx="1056.48" cy="1843.77" r="4" fill="#000"/>
<circle cx="1054.36" cy="1848.91" r="4" fill="#000"/>
<circle cx="1058.9" cy="1852.85" r="4" fill="#000"/>
<circle cx="1052.85" cy="1857.38" r="4" fill="#000"/>
<circle cx="1075.54" cy="1858.9" r="4" fill="#000"/>
<circle cx="1080.08" cy="1861.92" r="4" fill="#000"/>
<circle cx="1082.51" cy="1864.35" r="4" fill="#000"/>
<circle cx="1098.24" cy="1864.95" r="4" fill="#000"/>
<circle cx="1104.3" cy="1866.46" r="4" fill="#000"/>
<circle cx="1123.06" cy="1722.7" r="4" fill="#CE0A70"/>
<circle cx="1127" cy="1725.73" r="4" fill="#CE0A70"/>
<circle cx="1119.43" cy="1730.27" r="4" fill="#CE0A70"/>
<circle cx="1123.06" cy="1733.9" r="4" fill="#CE0A70"/>
<circle cx="1127" cy="1736.92" r="4" fill="#CE0A70"/>
<circle cx="1119.43" cy="1738.74" r="4" fill="#CE0A70"/>
<circle cx="1145.46" cy="1742.98" r="4" fill="#CE0A70"/>
<circle cx="1145.46" cy="1764.47" r="4" fill="#CE0A70"/>
<circle cx="1142.13" cy="1787.17" r="4" fill="#CE0A70"/>
<circle cx="1148.79" cy="1788.38" r="4" fill="#CE0A70"/>
<circle cx="1145.46" cy="1793.83" r="4" fill="#CE0A70"/>
<circle cx="1145.46" cy="1806.54" r="4" fill="#CE0A70"/>
<circle cx="1164.23" cy="1786.86" r="4" fill="#CE0A70"/>
<circle cx="1171.49" cy="1786.86" r="4" fill="#CE0A70"/>
<circle cx="1164.23" cy="1796.85" r="4" fill="#CE0A70"/>
<circle cx="1171.49" cy="1797.46" r="4" fill="#CE0A70"/>
<circle cx="1167.86" cy="1809.56" r="4" fill="#CE0A70"/>
<circle cx="1193.58" cy="1803.51" r="4" fill="#CE0A70"/>
<circle cx="1189.95" cy="1810.47" r="4" fill="#CE0A70"/>
<circle cx="1186.32" cy="1813.5" r="4" fill="#CE0A70"/>
<circle cx="1193.58" cy="1814.41" r="4" fill="#CE0A70"/>
<circle cx="1191.16" cy="1823.49" r="4" fill="#CE0A70"/>
<circle cx="1188.44" cy="1827.12" r="4" fill="#CE0A70"/>
<circle cx="1212.65" cy="1821.07" r="4" fill="#CE0A70"/>
<circle cx="1209.32" cy="1831.05" r="4" fill="#CE0A70"/>
<circle cx="1216.28" cy="1832.26" r="4" fill="#CE0A70"/>
<circle cx="1216.28" cy="1839.83" r="4" fill="#CE0A70"/>
<circle cx="1209.32" cy="1845.28" r="4" fill="#CE0A70"/>
<circle cx="1278.33" cy="1727.24" r="4" fill="#000"/>
<circle cx="1281.96" cy="1729.66" r="4" fill="#000"/>
<circle cx="1275.91" cy="1733.29" r="4" fill="#000"/>
<circle cx="1280.45" cy="1731.78" r="4" fill="#000"/>
<circle cx="1301.94" cy="1711.2" r="4" fill="#000"/>
<circle cx="1301.94" cy="1740.25" r="4" fill="#000"/>
<circle cx="1305.57" cy="1748.43" r="4" fill="#000"/>
<circle cx="1298.61" cy="1755.39" r="4" fill="#000"/>
<circle cx="1324.33" cy="1708.17" r="4" fill="#000"/>
<circle cx="1324.33" cy="1721.19" r="4" fill="#000"/>
<circle cx="1320.7" cy="1775.67" r="4" fill="#000"/>
<circle cx="1328.27" cy="1773.55" r="4" fill="#000"/>
<circle cx="1350.67" cy="1745.4" r="4" fill="#000"/>
<circle cx="1343.4" cy="1752.36" r="4" fill="#000"/>
<circle cx="1350.67" cy="1778.09" r="4" fill="#000"/>
<circle cx="1343.4" cy="1784.75" r="4" fill="#000"/>
<circle cx="1366.4" cy="1781.72" r="4" fill="#000"/>
<circle cx="1373.67" cy="1781.72" r="4" fill="#000"/>
<circle cx="1367.62" cy="1796.85" r="4" fill="#000"/>
<circle cx="1373.67" cy="1796.25" r="4" fill="#000"/>
<circle cx="1395.64" cy="1721.79" r="4" fill="#CE0A70"/>
<circle cx="1388.98" cy="1728.15" r="4" fill="#CE0A70"/>
<circle cx="1395.64" cy="1733.29" r="4" fill="#CE0A70"/>
<circle cx="1388.98" cy="1739.35" r="4" fill="#CE0A70"/>
<circle cx="1415.01" cy="1705.45" r="4" fill="#CE0A70"/>
<circle cx="1411.38" cy="1727.24" r="4" fill="#CE0A70"/>
<circle cx="1418.64" cy="1731.17" r="4" fill="#CE0A70"/>
<circle cx="1415.01" cy="1747.82" r="4" fill="#CE0A70"/>
<circle cx="1434.08" cy="1716.65" r="4" fill="#CE0A70"/>
<circle cx="1441.04" cy="1719.67" r="4" fill="#CE0A70"/>
<circle cx="1437.41" cy="1722.7" r="4" fill="#CE0A70"/>
<circle cx="1437.41" cy="1755.99" r="4" fill="#CE0A70"/>
<circle cx="1463.74" cy="1745.4" r="4" fill="#CE0A70"/>
<circle cx="1456.17" cy="1749.03" r="4" fill="#CE0A70"/>
<circle cx="1463.74" cy="1756.9" r="4" fill="#CE0A70"/>
<circle cx="1456.17" cy="1764.16" r="4" fill="#CE0A70"/>
<circle cx="1482.81" cy="1745.4" r="4" fill="#CE0A70"/>
<circle cx="1482.81" cy="1759.93" r="4" fill="#CE0A70"/>
<circle cx="1482.81" cy="1783.23" r="4" fill="#CE0A70"/>
<circle cx="1482.81" cy="1792.92" r="4" fill="#CE0A70"/>
<circle cx="1550.6" cy="1724.21" r="4" fill="#000"/>
<circle cx="1543.04" cy="1729.66" r="4" fill="#000"/>
<circle cx="1546.97" cy="1730.87" r="4" fill="#000"/>
<circle cx="1550.6" cy="1733.29" r="4" fill="#000"/>
<circle cx="1543.04" cy="1737.83" r="4" fill="#000"/>
<circle cx="1569.37" cy="1782.32" r="4" fill="#000"/>
<circle cx="1569.37" cy="1822.58" r="4" fill="#000"/>
<circle cx="1566.04" cy="1841.65" r="4" fill="#000"/>
<circle cx="1572.7" cy="1841.65" r="4" fill="#000"/>
<circle cx="1592.07" cy="1830.15" r="4" fill="#000"/>
<circle cx="1588.44" cy="1850.42" r="4" fill="#000"/>
<circle cx="1595.4" cy="1852.85" r="4" fill="#000"/>
<circle cx="1592.07" cy="1864.95" r="4" fill="#000"/>
<circle cx="1611.14" cy="1855.27" r="4" fill="#000"/>
<circle cx="1618.1" cy="1861.92" r="4" fill="#000"/>
<circle cx="1613.56" cy="1864.95" r="4" fill="#000"/>
<circle cx="1636.26" cy="1858.29" r="4" fill="#000"/>
<circle cx="1640.8" cy="1861.32" r="4" fill="#000"/>
<circle cx="1633.53" cy="1864.95" r="4" fill="#000"/>
<circle cx="1659.56" cy="1719.67" r="4" fill="#CE0A70"/>
<circle cx="1655.93" cy="1728.15" r="4" fill="#CE0A70"/>
<circle cx="1663.5" cy="1733.9" r="4" fill="#CE0A70"/>
<circle cx="1659.56" cy="1742.37" r="4" fill="#CE0A70"/>
<circle cx="1682.26" cy="1673.37" r="4" fill="#CE0A70"/>
<circle cx="1682.26" cy="1693.34" r="4" fill="#CE0A70"/>
<circle cx="1678.63" cy="1733.29" r="4" fill="#CE0A70"/>
<circle cx="1685.59" cy="1730.87" r="4" fill="#CE0A70"/>
<circle cx="1704.96" cy="1712.71" r="4" fill="#CE0A70"/>
<circle cx="1704.96" cy="1722.09" r="4" fill="#CE0A70"/>
<circle cx="1704.96" cy="1768.1" r="4" fill="#CE0A70"/>
<circle cx="1704.96" cy="1784.75" r="4" fill="#CE0A70"/>
<circle cx="1727.66" cy="1795.94" r="4" fill="#CE0A70"/>
<circle cx="1724.03" cy="1818.04" r="4" fill="#CE0A70"/>
<circle cx="1731.6" cy="1818.64" r="4" fill="#CE0A70"/>
<circle cx="1727.66" cy="1834.69" r="4" fill="#CE0A70"/>
<circle cx="1753.69" cy="1786.26" r="4" fill="#CE0A70"/>
<circle cx="1746.73" cy="1789.29" r="4" fill="#CE0A70"/>
<circle cx="1750.06" cy="1801.39" r="4" fill="#CE0A70"/>
<circle cx="1750.06" cy="1812.59" r="4" fill="#CE0A70"/>
</g>
<path d="M1010.5 1709V1704H1033.5V1743.9" fill="none" stroke="#000" stroke-width="1.9" stroke-linejoin="miter" stroke-linecap="butt"/>
<text x="1022" y="1699" font-size="14.4" text-anchor="middle">&lt;0.0001</text>
<path d="M1010.5 1681V1676.7H1056.2V1826.5" fill="none" stroke="#000" stroke-width="1.9" stroke-linejoin="miter" stroke-linecap="butt"/>
<text x="1033.35" y="1671.7" font-size="14.4" text-anchor="middle">&lt;0.0001</text>
<path d="M1010.5 1656.7V1643H1078.6V1839.2" fill="none" stroke="#000" stroke-width="1.9" stroke-linejoin="miter" stroke-linecap="butt"/>
<text x="1044.55" y="1638" font-size="14.4" text-anchor="middle">&lt;0.0001</text>
<path d="M1010.5 1632V1619H1100.7V1854.4" fill="none" stroke="#000" stroke-width="1.9" stroke-linejoin="miter" stroke-linecap="butt"/>
<text x="1055.6" y="1614" font-size="14.4" text-anchor="middle">&lt;0.0001</text>
<path d="M1123 1709V1704H1145.5V1736.3" fill="none" stroke="#000" stroke-width="1.9" stroke-linejoin="miter" stroke-linecap="butt"/>
<text x="1134.25" y="1699" font-size="14.4" text-anchor="middle">&lt;0.0001</text>
<path d="M1123 1681V1676.7H1168.2V1777.2" fill="none" stroke="#000" stroke-width="1.9" stroke-linejoin="miter" stroke-linecap="butt"/>
<text x="1145.6" y="1671.7" font-size="14.4" text-anchor="middle">&lt;0.0001</text>
<path d="M1123 1655.2V1645.5H1190.6V1793.8" fill="none" stroke="#000" stroke-width="1.9" stroke-linejoin="miter" stroke-linecap="butt"/>
<text x="1156.8" y="1640.5" font-size="14.4" text-anchor="middle">&lt;0.0001</text>
<path d="M1123 1625.9V1619.8H1212.7V1812.6" fill="none" stroke="#000" stroke-width="1.9" stroke-linejoin="miter" stroke-linecap="butt"/>
<text x="1167.85" y="1614.8" font-size="14.4" text-anchor="middle">&lt;0.0001</text>
<path d="M1055.6 1600.7V1591.7H1168.2V1600.7" fill="none" stroke="#000" stroke-width="1.9" stroke-linejoin="miter" stroke-linecap="butt"/>
<text x="1111.9" y="1586.7" font-size="14.4" text-anchor="middle">&lt;0.0001</text>
<path d="M1078 1578.4V1569.3H1190.6V1600.7" fill="none" stroke="#000" stroke-width="1.9" stroke-linejoin="miter" stroke-linecap="butt"/>
<text x="1134.3" y="1564.3" font-size="14.4" text-anchor="middle">&lt;0.0001</text>
<path d="M1100 1560.2V1548.1H1212.7V1600.7" fill="none" stroke="#000" stroke-width="1.9" stroke-linejoin="miter" stroke-linecap="butt"/>
<text x="1156.35" y="1543.1" font-size="14.4" text-anchor="middle">0.0008</text>
<path d="M1279 1715V1688.8H1370V1768" fill="none" stroke="#000" stroke-width="1.9" stroke-linejoin="miter" stroke-linecap="butt"/>
<text x="1324.5" y="1683.8" font-size="14.4" text-anchor="middle">0.0027</text>
<path d="M1546.4 1712V1703.7H1569.4V1769.6" fill="none" stroke="#000" stroke-width="1.9" stroke-linejoin="miter" stroke-linecap="butt"/>
<text x="1557.9" y="1698.7" font-size="14.4" text-anchor="middle">&lt;0.0001</text>
<path d="M1546.4 1679.7V1675.8H1592V1825.6" fill="none" stroke="#000" stroke-width="1.9" stroke-linejoin="miter" stroke-linecap="butt"/>
<text x="1569.2" y="1670.8" font-size="14.4" text-anchor="middle">&lt;0.0001</text>
<path d="M1546.4 1653.7V1651.6H1614.8V1842" fill="none" stroke="#000" stroke-width="1.9" stroke-linejoin="miter" stroke-linecap="butt"/>
<text x="1580.6" y="1646.6" font-size="14.4" text-anchor="middle">&lt;0.0001</text>
<path d="M1546.4 1633.4V1625.9H1633.5V1848" fill="none" stroke="#000" stroke-width="1.9" stroke-linejoin="miter" stroke-linecap="butt"/>
<text x="1589.95" y="1620.9" font-size="14.4" text-anchor="middle">&lt;0.0001</text>
<path d="M1659 1707.6V1663.7H1727.7V1783.3" fill="none" stroke="#000" stroke-width="1.9" stroke-linejoin="miter" stroke-linecap="butt"/>
<text x="1693.35" y="1658.7" font-size="14.4" text-anchor="middle">&lt;0.0001</text>
<path d="M1659 1638.6V1638.6H1750V1772.7" fill="none" stroke="#000" stroke-width="1.9" stroke-linejoin="miter" stroke-linecap="butt"/>
<text x="1704.5" y="1633.6" font-size="14.4" text-anchor="middle">0.0012</text>
<path d="M1640.8 1848V1612.9H1750V1626.8" fill="none" stroke="#000" stroke-width="1.9" stroke-linejoin="miter" stroke-linecap="butt"/>
<text x="1695.4" y="1607.9" font-size="14.4" text-anchor="middle">0.0012</text>
<path d="M1569 1602.3V1581.4H1682.3V1589.6" fill="none" stroke="#000" stroke-width="1.9" stroke-linejoin="miter" stroke-linecap="butt"/>
<text x="1625.65" y="1576.4" font-size="14.4" text-anchor="middle">&lt;0.0001</text>
<path d="M1591.8 1558.7V1548.7H1705V1589.6" fill="none" stroke="#000" stroke-width="1.9" stroke-linejoin="miter" stroke-linecap="butt"/>
<text x="1648.4" y="1543.7" font-size="14.4" text-anchor="middle">&lt;0.0001</text>
<path d="M1010.2 1897.1L1010.2 1893.2L1107.8 1871.7L1107.8 1897.1Z" fill="#000" stroke="none" stroke-width="0" stroke-linejoin="miter" stroke-linecap="butt"/>
<text x="1058" y="1916.7" font-size="20" text-anchor="middle">VLDLR</text>
<text x="1061" y="1941.6" font-size="20" text-anchor="middle">LA(1-2)-Fc</text>
<path d="M1120.3 1897.6L1120.3 1893.7L1218.9 1872.4L1218.9 1897.6Z" fill="#000" stroke="none" stroke-width="0" stroke-linejoin="miter" stroke-linecap="butt"/>
<path d="M1138.77 1893.7L1215.2 1877.19L1215.2 1893.7Z" fill="#FF0A64" stroke="none" stroke-width="0" stroke-linejoin="miter" stroke-linecap="butt"/>
<text x="1175.1" y="1919.7" font-size="20" text-anchor="middle">VLDLR</text>
<text x="1178" y="1943.8" font-size="20" text-anchor="middle">LA(1-2)-Fc</text>
<path d="M1279.5 1897.1L1279.5 1893.2L1377.2 1871.7L1377.2 1897.1Z" fill="#000" stroke="none" stroke-width="0" stroke-linejoin="miter" stroke-linecap="butt"/>
<text x="1326.8" y="1916.7" font-size="20" text-anchor="middle">VLDLR</text>
<text x="1330.4" y="1941.8" font-size="20" text-anchor="middle">LA(1-2)-Fc</text>
<path d="M1390 1897.6L1390 1893.7L1488.6 1872.4L1488.6 1897.6Z" fill="#000" stroke="none" stroke-width="0" stroke-linejoin="miter" stroke-linecap="butt"/>
<path d="M1408.47 1893.7L1484.9 1877.19L1484.9 1893.7Z" fill="#FF0A64" stroke="none" stroke-width="0" stroke-linejoin="miter" stroke-linecap="butt"/>
<text x="1445" y="1920" font-size="20" text-anchor="middle">VLDLR</text>
<text x="1447.5" y="1944.5" font-size="20" text-anchor="middle">LA(1-2)-Fc</text>
<path d="M1546.2 1896.8L1546.2 1892.9L1643.8 1871L1643.8 1896.8Z" fill="#000" stroke="none" stroke-width="0" stroke-linejoin="miter" stroke-linecap="butt"/>
<text x="1593.9" y="1915.8" font-size="20" text-anchor="middle">VLDLR</text>
<text x="1597" y="1941.2" font-size="20" text-anchor="middle">LA(1-2)-Fc</text>
<path d="M1656.3 1897.2L1656.3 1893.3L1755 1871.6L1755 1897.2Z" fill="#000" stroke="none" stroke-width="0" stroke-linejoin="miter" stroke-linecap="butt"/>
<path d="M1674.46 1893.3L1751.3 1876.41L1751.3 1893.3Z" fill="#FF0A64" stroke="none" stroke-width="0" stroke-linejoin="miter" stroke-linecap="butt"/>
<text x="1711.3" y="1918.8" font-size="20" text-anchor="middle">VLDLR</text>
<text x="1714" y="1943.2" font-size="20" text-anchor="middle">LA(1-2)-Fc</text>
<circle cx="1199.6" cy="1977.8" r="6" fill="#000"/>
<text x="1231.6" y="1985.8" font-size="23.8" text-anchor="start">CHO-K1</text>
<circle cx="1387.4" cy="1978" r="6" fill="#CE0A70"/>
<text x="1419.3" y="1986.2" font-size="23.8" text-anchor="start">CHO-pgsA-745</text>
<text x="93" y="2127.5" font-size="37" text-anchor="start">G</text>
<text x="105.7" y="2304.6" font-size="20.5" text-anchor="middle" transform="rotate(-90 105.7 2304.6)">%Infectivity</text>
<text x="132.6" y="2305.5" font-size="20.5" text-anchor="middle" transform="rotate(-90 132.6 2305.5)">Normalized to control</text>
<clipPath id="clipG"><rect x="150" y="2140" width="1600" height="281.5"/></clipPath>
<text x="319.4" y="2100.3" font-size="22" text-anchor="middle">SINV/EEEV WT</text>
<text x="319.4" y="2125.2" font-size="22" text-anchor="middle">K562-VLDLR cells</text>
<line x1="185" y1="2189.6" x2="185" y2="2421.7" stroke="#000" stroke-width="2.5" stroke-linecap="butt"/>
<line x1="183.8" y1="2420.5" x2="456.5" y2="2420.5" stroke="#000" stroke-width="2.5" stroke-linecap="butt"/>
<line x1="249.8" y1="2420.5" x2="249.8" y2="2429.6" stroke="#000" stroke-width="2.5" stroke-linecap="butt"/>
<line x1="389.3" y1="2420.5" x2="389.3" y2="2429.6" stroke="#000" stroke-width="2.5" stroke-linecap="butt"/>
<line x1="175" y1="2420.5" x2="185" y2="2420.5" stroke="#000" stroke-width="2.4" stroke-linecap="butt"/>
<text x="172.6" y="2426.7" font-size="17.6" text-anchor="end">0</text>
<line x1="175" y1="2363.12" x2="185" y2="2363.12" stroke="#000" stroke-width="2.4" stroke-linecap="butt"/>
<text x="172.6" y="2369.32" font-size="17.6" text-anchor="end">50</text>
<line x1="175" y1="2305.75" x2="185" y2="2305.75" stroke="#000" stroke-width="2.4" stroke-linecap="butt"/>
<text x="172.6" y="2311.95" font-size="17.6" text-anchor="end">100</text>
<line x1="175" y1="2248.38" x2="185" y2="2248.38" stroke="#000" stroke-width="2.4" stroke-linecap="butt"/>
<text x="172.6" y="2254.57" font-size="17.6" text-anchor="end">150</text>
<line x1="175" y1="2191" x2="185" y2="2191" stroke="#000" stroke-width="2.4" stroke-linecap="butt"/>
<text x="172.6" y="2197.2" font-size="17.6" text-anchor="end">200</text>
<rect x="193.9" y="2307.25" width="13.6" height="113.25" fill="#fff" stroke="#000" stroke-width="3"/>
<rect x="218.5" y="2293.48" width="13.6" height="127.02" fill="#fff" stroke="#000" stroke-width="3"/>
<rect x="243.3" y="2288.2" width="13.6" height="132.3" fill="#fff" stroke="#000" stroke-width="3"/>
<rect x="268.1" y="2288.2" width="13.6" height="132.3" fill="#fff" stroke="#000" stroke-width="3"/>
<rect x="292.6" y="2335.13" width="13.6" height="85.37" fill="#fff" stroke="#000" stroke-width="3"/>
<rect x="333.2" y="2307.25" width="13.6" height="113.25" fill="#fff" stroke="#000" stroke-width="3"/>
<rect x="358" y="2319.87" width="13.6" height="100.63" fill="#fff" stroke="#000" stroke-width="3"/>
<rect x="382.8" y="2377.48" width="13.6" height="43.02" fill="#fff" stroke="#000" stroke-width="3"/>
<rect x="407.3" y="2411.44" width="13.6" height="9.06" fill="#fff" stroke="#000" stroke-width="3"/>
<rect x="432.1" y="2409.95" width="13.6" height="10.55" fill="#fff" stroke="#000" stroke-width="3"/>
<line x1="200.7" y1="2282.18" x2="200.7" y2="2328.79" stroke="#000" stroke-width="1.5" stroke-linecap="butt"/>
<line x1="196.2" y1="2282.18" x2="205.2" y2="2282.18" stroke="#000" stroke-width="1.5" stroke-linecap="butt"/>
<line x1="196.2" y1="2328.79" x2="205.2" y2="2328.79" stroke="#000" stroke-width="1.5" stroke-linecap="butt"/>
<line x1="225.3" y1="2256.45" x2="225.3" y2="2326.67" stroke="#000" stroke-width="1.5" stroke-linecap="butt"/>
<line x1="220.8" y1="2256.45" x2="229.8" y2="2256.45" stroke="#000" stroke-width="1.5" stroke-linecap="butt"/>
<line x1="220.8" y1="2326.67" x2="229.8" y2="2326.67" stroke="#000" stroke-width="1.5" stroke-linecap="butt"/>
<line x1="250.1" y1="2254.94" x2="250.1" y2="2319.1" stroke="#000" stroke-width="1.5" stroke-linecap="butt"/>
<line x1="245.6" y1="2254.94" x2="254.6" y2="2254.94" stroke="#000" stroke-width="1.5" stroke-linecap="butt"/>
<line x1="245.6" y1="2319.1" x2="254.6" y2="2319.1" stroke="#000" stroke-width="1.5" stroke-linecap="butt"/>
<line x1="274.9" y1="2248.58" x2="274.9" y2="2322.13" stroke="#000" stroke-width="1.5" stroke-linecap="butt"/>
<line x1="270.4" y1="2248.58" x2="279.4" y2="2248.58" stroke="#000" stroke-width="1.5" stroke-linecap="butt"/>
<line x1="270.4" y1="2322.13" x2="279.4" y2="2322.13" stroke="#000" stroke-width="1.5" stroke-linecap="butt"/>
<line x1="299.4" y1="2309.42" x2="299.4" y2="2357.85" stroke="#000" stroke-width="1.5" stroke-linecap="butt"/>
<line x1="294.9" y1="2309.42" x2="303.9" y2="2309.42" stroke="#000" stroke-width="1.5" stroke-linecap="butt"/>
<line x1="294.9" y1="2357.85" x2="303.9" y2="2357.85" stroke="#000" stroke-width="1.5" stroke-linecap="butt"/>
<line x1="340" y1="2282.18" x2="340" y2="2328.79" stroke="#000" stroke-width="1.5" stroke-linecap="butt"/>
<line x1="335.5" y1="2282.18" x2="344.5" y2="2282.18" stroke="#000" stroke-width="1.5" stroke-linecap="butt"/>
<line x1="335.5" y1="2328.79" x2="344.5" y2="2328.79" stroke="#000" stroke-width="1.5" stroke-linecap="butt"/>
<line x1="364.8" y1="2280.67" x2="364.8" y2="2355.42" stroke="#000" stroke-width="1.5" stroke-linecap="butt"/>
<line x1="360.3" y1="2280.67" x2="369.3" y2="2280.67" stroke="#000" stroke-width="1.5" stroke-linecap="butt"/>
<line x1="360.3" y1="2355.42" x2="369.3" y2="2355.42" stroke="#000" stroke-width="1.5" stroke-linecap="butt"/>
<line x1="389.6" y1="2345.74" x2="389.6" y2="2406.27" stroke="#000" stroke-width="1.5" stroke-linecap="butt"/>
<line x1="385.1" y1="2345.74" x2="394.1" y2="2345.74" stroke="#000" stroke-width="1.5" stroke-linecap="butt"/>
<line x1="385.1" y1="2406.27" x2="394.1" y2="2406.27" stroke="#000" stroke-width="1.5" stroke-linecap="butt"/>
<g clip-path="url(#clipG)">
<circle cx="200.74" cy="2269.16" r="4.8" fill="#0000FF"/>
<circle cx="200.74" cy="2289.44" r="4.8" fill="#0000FF"/>
<circle cx="197.71" cy="2311.54" r="4.8" fill="#0000FF"/>
<circle cx="204.67" cy="2311.54" r="4.8" fill="#0000FF"/>
<circle cx="200.74" cy="2316.99" r="4.8" fill="#0000FF"/>
<circle cx="200.74" cy="2336.36" r="4.8" fill="#0000FF"/>
<circle cx="225.25" cy="2228.91" r="4.8" fill="#0000FF"/>
<circle cx="221.32" cy="2284.9" r="4.8" fill="#0000FF"/>
<circle cx="229.49" cy="2287.32" r="4.8" fill="#0000FF"/>
<circle cx="225.25" cy="2303.97" r="4.8" fill="#0000FF"/>
<circle cx="228.89" cy="2319.1" r="4.8" fill="#0000FF"/>
<circle cx="221.92" cy="2328.18" r="4.8" fill="#0000FF"/>
<circle cx="250.07" cy="2231.33" r="4.8" fill="#0000FF"/>
<circle cx="250.07" cy="2272.19" r="4.8" fill="#0000FF"/>
<circle cx="250.07" cy="2290.35" r="4.8" fill="#0000FF"/>
<circle cx="246.14" cy="2302.46" r="4.8" fill="#0000FF"/>
<circle cx="253.7" cy="2303.97" r="4.8" fill="#0000FF"/>
<circle cx="250.07" cy="2316.68" r="4.8" fill="#0000FF"/>
<circle cx="270.96" cy="2240.41" r="4.8" fill="#0000FF"/>
<circle cx="274.89" cy="2248.58" r="4.8" fill="#0000FF"/>
<circle cx="270.96" cy="2293.98" r="4.8" fill="#0000FF"/>
<circle cx="278.52" cy="2300.04" r="4.8" fill="#0000FF"/>
<circle cx="274.29" cy="2303.37" r="4.8" fill="#0000FF"/>
<circle cx="274.89" cy="2334.24" r="4.8" fill="#0000FF"/>
<circle cx="299.41" cy="2289.44" r="4.8" fill="#0000FF"/>
<circle cx="295.47" cy="2328.79" r="4.8" fill="#0000FF"/>
<circle cx="303.64" cy="2333.63" r="4.8" fill="#0000FF"/>
<circle cx="295.47" cy="2341.8" r="4.8" fill="#0000FF"/>
<circle cx="303.04" cy="2347.86" r="4.8" fill="#0000FF"/>
<circle cx="299.41" cy="2358.45" r="4.8" fill="#0000FF"/>
<circle cx="339.96" cy="2269.16" r="4.8" fill="#C800C8"/>
<circle cx="339.96" cy="2288.84" r="4.8" fill="#C800C8"/>
<circle cx="336.03" cy="2312.45" r="4.8" fill="#C800C8"/>
<circle cx="343.9" cy="2312.45" r="4.8" fill="#C800C8"/>
<circle cx="339.96" cy="2316.08" r="4.8" fill="#C800C8"/>
<circle cx="339.96" cy="2336.36" r="4.8" fill="#C800C8"/>
<circle cx="364.78" cy="2264.02" r="4.8" fill="#C800C8"/>
<circle cx="364.78" cy="2290.35" r="4.8" fill="#C800C8"/>
<circle cx="364.78" cy="2305.48" r="4.8" fill="#C800C8"/>
<circle cx="361.15" cy="2341.8" r="4.8" fill="#C800C8"/>
<circle cx="368.11" cy="2348.46" r="4.8" fill="#C800C8"/>
<circle cx="361.15" cy="2356.33" r="4.8" fill="#C800C8"/>
<circle cx="389.6" cy="2340.29" r="4.8" fill="#C800C8"/>
<circle cx="386.27" cy="2349.98" r="4.8" fill="#C800C8"/>
<circle cx="392.32" cy="2356.94" r="4.8" fill="#C800C8"/>
<circle cx="389.6" cy="2397.8" r="4.8" fill="#C800C8"/>
<circle cx="392.93" cy="2401.43" r="4.8" fill="#C800C8"/>
<circle cx="385.97" cy="2405.97" r="4.8" fill="#C800C8"/>
<circle cx="411.09" cy="2404.46" r="4.8" fill="#C800C8"/>
<circle cx="417.75" cy="2404.46" r="4.8" fill="#C800C8"/>
<circle cx="414.12" cy="2408.39" r="4.8" fill="#C800C8"/>
<circle cx="411.09" cy="2414.44" r="4.8" fill="#C800C8"/>
<circle cx="417.14" cy="2414.44" r="4.8" fill="#C800C8"/>
<circle cx="435.3" cy="2402.34" r="4.8" fill="#C800C8"/>
<circle cx="442.87" cy="2402.34" r="4.8" fill="#C800C8"/>
<circle cx="438.93" cy="2408.39" r="4.8" fill="#C800C8"/>
<circle cx="435.3" cy="2415.35" r="4.8" fill="#C800C8"/>
<circle cx="442.87" cy="2415.35" r="4.8" fill="#C800C8"/>
</g>
<path d="M340 2255.5V2244.3H389.6V2328.8" fill="none" stroke="#000" stroke-width="2" stroke-linejoin="miter" stroke-linecap="butt"/>
<text x="364.8" y="2233.8" font-size="15.5" text-anchor="middle">0.0020</text>
<path d="M340 2222.3V2214H414.1V2390.8" fill="none" stroke="#000" stroke-width="2" stroke-linejoin="miter" stroke-linecap="butt"/>
<text x="376.9" y="2203.5" font-size="15.5" text-anchor="middle">&lt;0.0001</text>
<path d="M340 2199V2183.8H438.9V2384.2" fill="none" stroke="#000" stroke-width="2" stroke-linejoin="miter" stroke-linecap="butt"/>
<text x="389.3" y="2172.3" font-size="15.5" text-anchor="middle">&lt;0.0001</text>
<path d="M197.7 2449.4L197.7 2446.1L305.1 2424.4L305.1 2449.4Z" fill="#000" stroke="none" stroke-width="0" stroke-linejoin="miter" stroke-linecap="butt"/>
<path d="M214.36 2446.1L302 2428.39L302 2446.1Z" fill="#0000FF" stroke="none" stroke-width="0" stroke-linejoin="miter" stroke-linecap="butt"/>
<path d="M339.1 2449.4L339.1 2446.1L446.4 2426L446.4 2449.4Z" fill="#000" stroke="none" stroke-width="0" stroke-linejoin="miter" stroke-linecap="butt"/>
<path d="M357.02 2446.1L443.3 2429.94L443.3 2446.1Z" fill="#C800C8" stroke="none" stroke-width="0" stroke-linejoin="miter" stroke-linecap="butt"/>
<text x="260.4" y="2468.6" font-size="20" text-anchor="middle">BSA</text>
<text x="408" y="2468.6" font-size="20" text-anchor="middle">Heparin</text>
<text x="628.3" y="2100.3" font-size="22" text-anchor="middle">SINV/EEEV WT</text>
<text x="628.3" y="2125.2" font-size="22" text-anchor="middle">K562-ApoER2 isoform1</text>
<line x1="493.6" y1="2189.6" x2="493.6" y2="2421.7" stroke="#000" stroke-width="2.5" stroke-linecap="butt"/>
<line x1="492.4" y1="2420.5" x2="766.3" y2="2420.5" stroke="#000" stroke-width="2.5" stroke-linecap="butt"/>
<line x1="558.6" y1="2420.5" x2="558.6" y2="2429.6" stroke="#000" stroke-width="2.5" stroke-linecap="butt"/>
<line x1="698.2" y1="2420.5" x2="698.2" y2="2429.6" stroke="#000" stroke-width="2.5" stroke-linecap="butt"/>
<line x1="483.6" y1="2420.5" x2="493.6" y2="2420.5" stroke="#000" stroke-width="2.4" stroke-linecap="butt"/>
<text x="481.2" y="2426.7" font-size="17.6" text-anchor="end">0</text>
<line x1="483.6" y1="2363.12" x2="493.6" y2="2363.12" stroke="#000" stroke-width="2.4" stroke-linecap="butt"/>
<text x="481.2" y="2369.32" font-size="17.6" text-anchor="end">50</text>
<line x1="483.6" y1="2305.75" x2="493.6" y2="2305.75" stroke="#000" stroke-width="2.4" stroke-linecap="butt"/>
<text x="481.2" y="2311.95" font-size="17.6" text-anchor="end">100</text>
<line x1="483.6" y1="2248.38" x2="493.6" y2="2248.38" stroke="#000" stroke-width="2.4" stroke-linecap="butt"/>
<text x="481.2" y="2254.57" font-size="17.6" text-anchor="end">150</text>
<line x1="483.6" y1="2191" x2="493.6" y2="2191" stroke="#000" stroke-width="2.4" stroke-linecap="butt"/>
<text x="481.2" y="2197.2" font-size="17.6" text-anchor="end">200</text>
<rect x="502.8" y="2307.25" width="13.6" height="113.25" fill="#fff" stroke="#000" stroke-width="3"/>
<rect x="527.3" y="2298.07" width="13.6" height="122.43" fill="#fff" stroke="#000" stroke-width="3"/>
<rect x="551.8" y="2295.78" width="13.6" height="124.72" fill="#fff" stroke="#000" stroke-width="3"/>
<rect x="576.7" y="2288.89" width="13.6" height="131.61" fill="#fff" stroke="#000" stroke-width="3"/>
<rect x="601.5" y="2300.36" width="13.6" height="120.14" fill="#fff" stroke="#000" stroke-width="3"/>
<rect x="642.3" y="2307.25" width="13.6" height="113.25" fill="#fff" stroke="#000" stroke-width="3"/>
<rect x="667.2" y="2307.25" width="13.6" height="113.25" fill="#fff" stroke="#000" stroke-width="3"/>
<rect x="691.7" y="2383.33" width="13.6" height="37.17" fill="#fff" stroke="#000" stroke-width="3"/>
<rect x="716.5" y="2419.13" width="13.6" height="1.37" fill="#fff" stroke="#000" stroke-width="3"/>
<rect x="741.3" y="2418.56" width="13.6" height="1.94" fill="#fff" stroke="#000" stroke-width="3"/>
<line x1="509.6" y1="2290.96" x2="509.6" y2="2320.62" stroke="#000" stroke-width="1.5" stroke-linecap="butt"/>
<line x1="505.1" y1="2290.96" x2="514.1" y2="2290.96" stroke="#000" stroke-width="1.5" stroke-linecap="butt"/>
<line x1="505.1" y1="2320.62" x2="514.1" y2="2320.62" stroke="#000" stroke-width="1.5" stroke-linecap="butt"/>
<line x1="534.1" y1="2275.22" x2="534.1" y2="2317.59" stroke="#000" stroke-width="1.5" stroke-linecap="butt"/>
<line x1="529.6" y1="2275.22" x2="538.6" y2="2275.22" stroke="#000" stroke-width="1.5" stroke-linecap="butt"/>
<line x1="529.6" y1="2317.59" x2="538.6" y2="2317.59" stroke="#000" stroke-width="1.5" stroke-linecap="butt"/>
<line x1="558.6" y1="2276.73" x2="558.6" y2="2310.02" stroke="#000" stroke-width="1.5" stroke-linecap="butt"/>
<line x1="554.1" y1="2276.73" x2="563.1" y2="2276.73" stroke="#000" stroke-width="1.5" stroke-linecap="butt"/>
<line x1="554.1" y1="2310.02" x2="563.1" y2="2310.02" stroke="#000" stroke-width="1.5" stroke-linecap="butt"/>
<line x1="583.5" y1="2272.19" x2="583.5" y2="2309.12" stroke="#000" stroke-width="1.5" stroke-linecap="butt"/>
<line x1="579" y1="2272.19" x2="588" y2="2272.19" stroke="#000" stroke-width="1.5" stroke-linecap="butt"/>
<line x1="579" y1="2309.12" x2="588" y2="2309.12" stroke="#000" stroke-width="1.5" stroke-linecap="butt"/>
<line x1="608.3" y1="2262.2" x2="608.3" y2="2334.24" stroke="#000" stroke-width="1.5" stroke-linecap="butt"/>
<line x1="603.8" y1="2262.2" x2="612.8" y2="2262.2" stroke="#000" stroke-width="1.5" stroke-linecap="butt"/>
<line x1="603.8" y1="2334.24" x2="612.8" y2="2334.24" stroke="#000" stroke-width="1.5" stroke-linecap="butt"/>
<line x1="649.1" y1="2290.96" x2="649.1" y2="2320.62" stroke="#000" stroke-width="1.5" stroke-linecap="butt"/>
<line x1="644.6" y1="2290.96" x2="653.6" y2="2290.96" stroke="#000" stroke-width="1.5" stroke-linecap="butt"/>
<line x1="644.6" y1="2320.62" x2="653.6" y2="2320.62" stroke="#000" stroke-width="1.5" stroke-linecap="butt"/>
<line x1="674" y1="2262.2" x2="674" y2="2347.25" stroke="#000" stroke-width="1.5" stroke-linecap="butt"/>
<line x1="669.5" y1="2262.2" x2="678.5" y2="2262.2" stroke="#000" stroke-width="1.5" stroke-linecap="butt"/>
<line x1="669.5" y1="2347.25" x2="678.5" y2="2347.25" stroke="#000" stroke-width="1.5" stroke-linecap="butt"/>
<line x1="698.5" y1="2359.96" x2="698.5" y2="2403.85" stroke="#000" stroke-width="1.5" stroke-linecap="butt"/>
<line x1="694" y1="2359.96" x2="703" y2="2359.96" stroke="#000" stroke-width="1.5" stroke-linecap="butt"/>
<line x1="694" y1="2403.85" x2="703" y2="2403.85" stroke="#000" stroke-width="1.5" stroke-linecap="butt"/>
<g clip-path="url(#clipG)">
<circle cx="509.61" cy="2281.27" r="4.8" fill="#0000FF"/>
<circle cx="505.98" cy="2305.48" r="4.8" fill="#0000FF"/>
<circle cx="513.24" cy="2304.58" r="4.8" fill="#0000FF"/>
<circle cx="505.98" cy="2309.42" r="4.8" fill="#0000FF"/>
<circle cx="509.61" cy="2305.48" r="4.8" fill="#0000FF"/>
<circle cx="509.61" cy="2329.09" r="4.8" fill="#0000FF"/>
<circle cx="537.76" cy="2269.16" r="4.8" fill="#0000FF"/>
<circle cx="530.19" cy="2277.34" r="4.8" fill="#0000FF"/>
<circle cx="537.76" cy="2294.89" r="4.8" fill="#0000FF"/>
<circle cx="530.19" cy="2298.52" r="4.8" fill="#0000FF"/>
<circle cx="537.76" cy="2313.05" r="4.8" fill="#0000FF"/>
<circle cx="530.19" cy="2319.1" r="4.8" fill="#0000FF"/>
<circle cx="561.97" cy="2275.82" r="4.8" fill="#0000FF"/>
<circle cx="555.01" cy="2282.78" r="4.8" fill="#0000FF"/>
<circle cx="561.97" cy="2286.72" r="4.8" fill="#0000FF"/>
<circle cx="555.01" cy="2294.29" r="4.8" fill="#0000FF"/>
<circle cx="561.97" cy="2298.52" r="4.8" fill="#0000FF"/>
<circle cx="558.64" cy="2323.04" r="4.8" fill="#0000FF"/>
<circle cx="585.88" cy="2267.65" r="4.8" fill="#0000FF"/>
<circle cx="580.74" cy="2270.07" r="4.8" fill="#0000FF"/>
<circle cx="579.83" cy="2282.18" r="4.8" fill="#0000FF"/>
<circle cx="587.4" cy="2288.23" r="4.8" fill="#0000FF"/>
<circle cx="583.46" cy="2290.35" r="4.8" fill="#0000FF"/>
<circle cx="583.46" cy="2327.58" r="4.8" fill="#0000FF"/>
<circle cx="608.28" cy="2253.43" r="4.8" fill="#0000FF"/>
<circle cx="608.28" cy="2269.16" r="4.8" fill="#0000FF"/>
<circle cx="608.28" cy="2284.3" r="4.8" fill="#0000FF"/>
<circle cx="608.28" cy="2303.97" r="4.8" fill="#0000FF"/>
<circle cx="612.52" cy="2337.26" r="4.8" fill="#0000FF"/>
<circle cx="604.95" cy="2340.9" r="4.8" fill="#0000FF"/>
<circle cx="649.14" cy="2281.27" r="4.8" fill="#C800C8"/>
<circle cx="645.81" cy="2305.48" r="4.8" fill="#C800C8"/>
<circle cx="652.77" cy="2304.58" r="4.8" fill="#C800C8"/>
<circle cx="649.14" cy="2308.51" r="4.8" fill="#C800C8"/>
<circle cx="645.81" cy="2309.42" r="4.8" fill="#C800C8"/>
<circle cx="649.14" cy="2329.09" r="4.8" fill="#C800C8"/>
<circle cx="673.96" cy="2243.44" r="4.8" fill="#C800C8"/>
<circle cx="673.96" cy="2276.73" r="4.8" fill="#C800C8"/>
<circle cx="673.96" cy="2287.32" r="4.8" fill="#C800C8"/>
<circle cx="673.96" cy="2328.79" r="4.8" fill="#C800C8"/>
<circle cx="673.96" cy="2341.2" r="4.8" fill="#C800C8"/>
<circle cx="673.96" cy="2351.49" r="4.8" fill="#C800C8"/>
<circle cx="695.75" cy="2353.91" r="4.8" fill="#C800C8"/>
<circle cx="702.11" cy="2353.91" r="4.8" fill="#C800C8"/>
<circle cx="698.78" cy="2405.36" r="4.8" fill="#C800C8"/>
<circle cx="695.15" cy="2409.9" r="4.8" fill="#C800C8"/>
<circle cx="702.11" cy="2409" r="4.8" fill="#C800C8"/>
<circle cx="719.96" cy="2416.56" r="4.8" fill="#C800C8"/>
<circle cx="726.92" cy="2416.86" r="4.8" fill="#C800C8"/>
<circle cx="723.29" cy="2416.86" r="4.8" fill="#C800C8"/>
<circle cx="744.78" cy="2415.96" r="4.8" fill="#C800C8"/>
<circle cx="751.74" cy="2416.26" r="4.8" fill="#C800C8"/>
<circle cx="748.11" cy="2416.26" r="4.8" fill="#C800C8"/>
</g>
<path d="M649.1 2270.7V2234.4H698.5V2341.8" fill="none" stroke="#000" stroke-width="2" stroke-linejoin="miter" stroke-linecap="butt"/>
<text x="673.7" y="2227.7" font-size="15.5" text-anchor="middle">&lt;0.0001</text>
<path d="M649.1 2215.3V2203.5H723.3V2397.8" fill="none" stroke="#000" stroke-width="2" stroke-linejoin="miter" stroke-linecap="butt"/>
<text x="685.8" y="2197.4" font-size="15.5" text-anchor="middle">&lt;0.0001</text>
<path d="M649.1 2193.5V2171.7H748.1V2411.4" fill="none" stroke="#000" stroke-width="2" stroke-linejoin="miter" stroke-linecap="butt"/>
<text x="698.2" y="2166.3" font-size="15.5" text-anchor="middle">&lt;0.0001</text>
<path d="M505.1 2450.6L505.1 2447.3L612.1 2426L612.1 2450.6Z" fill="#000" stroke="none" stroke-width="0" stroke-linejoin="miter" stroke-linecap="butt"/>
<path d="M522 2447.3L609 2429.98L609 2447.3Z" fill="#0000FF" stroke="none" stroke-width="0" stroke-linejoin="miter" stroke-linecap="butt"/>
<path d="M646.7 2450.6L646.7 2447.3L754.4 2427.5L754.4 2450.6Z" fill="#000" stroke="none" stroke-width="0" stroke-linejoin="miter" stroke-linecap="butt"/>
<path d="M664.95 2447.3L751.3 2431.43L751.3 2447.3Z" fill="#C800C8" stroke="none" stroke-width="0" stroke-linejoin="miter" stroke-linecap="butt"/>
<text x="568" y="2469.8" font-size="20" text-anchor="middle">BSA</text>
<text x="714.8" y="2469.8" font-size="20" text-anchor="middle">Heparin</text>
<text x="938.8" y="2100.3" font-size="22" text-anchor="middle">SINV/EEEV WT</text>
<text x="938.8" y="2125.2" font-size="22" text-anchor="middle">K562-ApoER2 isoform 2</text>
<line x1="803.2" y1="2189.6" x2="803.2" y2="2421.7" stroke="#000" stroke-width="2.5" stroke-linecap="butt"/>
<line x1="802" y1="2420.5" x2="1075.5" y2="2420.5" stroke="#000" stroke-width="2.5" stroke-linecap="butt"/>
<line x1="867.6" y1="2420.5" x2="867.6" y2="2429.6" stroke="#000" stroke-width="2.5" stroke-linecap="butt"/>
<line x1="1007.7" y1="2420.5" x2="1007.7" y2="2429.6" stroke="#000" stroke-width="2.5" stroke-linecap="butt"/>
<line x1="793.2" y1="2420.5" x2="803.2" y2="2420.5" stroke="#000" stroke-width="2.4" stroke-linecap="butt"/>
<text x="790.8" y="2426.7" font-size="17.6" text-anchor="end">0</text>
<line x1="793.2" y1="2363.12" x2="803.2" y2="2363.12" stroke="#000" stroke-width="2.4" stroke-linecap="butt"/>
<text x="790.8" y="2369.32" font-size="17.6" text-anchor="end">50</text>
<line x1="793.2" y1="2305.75" x2="803.2" y2="2305.75" stroke="#000" stroke-width="2.4" stroke-linecap="butt"/>
<text x="790.8" y="2311.95" font-size="17.6" text-anchor="end">100</text>
<line x1="793.2" y1="2248.38" x2="803.2" y2="2248.38" stroke="#000" stroke-width="2.4" stroke-linecap="butt"/>
<text x="790.8" y="2254.57" font-size="17.6" text-anchor="end">150</text>
<line x1="793.2" y1="2191" x2="803.2" y2="2191" stroke="#000" stroke-width="2.4" stroke-linecap="butt"/>
<text x="790.8" y="2197.2" font-size="17.6" text-anchor="end">200</text>
<rect x="812.1" y="2307.25" width="13.6" height="113.25" fill="#fff" stroke="#000" stroke-width="3"/>
<rect x="836.7" y="2291.18" width="13.6" height="129.32" fill="#fff" stroke="#000" stroke-width="3"/>
<rect x="861.5" y="2274.55" width="13.6" height="145.95" fill="#fff" stroke="#000" stroke-width="3"/>
<rect x="886.3" y="2287.28" width="13.6" height="133.22" fill="#fff" stroke="#000" stroke-width="3"/>
<rect x="911.4" y="2314.59" width="13.6" height="105.91" fill="#fff" stroke="#000" stroke-width="3"/>
<rect x="951.6" y="2307.25" width="13.6" height="113.25" fill="#fff" stroke="#000" stroke-width="3"/>
<rect x="976.4" y="2299.22" width="13.6" height="121.28" fill="#fff" stroke="#000" stroke-width="3"/>
<rect x="1000.9" y="2400.77" width="13.6" height="19.73" fill="#fff" stroke="#000" stroke-width="3"/>
<rect x="1025.7" y="2417.41" width="13.6" height="3.09" fill="#fff" stroke="#000" stroke-width="3"/>
<rect x="1050.5" y="2417.41" width="13.6" height="3.09" fill="#fff" stroke="#000" stroke-width="3"/>
<line x1="818.9" y1="2297.92" x2="818.9" y2="2313.05" stroke="#000" stroke-width="1.5" stroke-linecap="butt"/>
<line x1="814.4" y1="2297.92" x2="823.4" y2="2297.92" stroke="#000" stroke-width="1.5" stroke-linecap="butt"/>
<line x1="814.4" y1="2313.05" x2="823.4" y2="2313.05" stroke="#000" stroke-width="1.5" stroke-linecap="butt"/>
<line x1="843.5" y1="2238.9" x2="843.5" y2="2338.78" stroke="#000" stroke-width="1.5" stroke-linecap="butt"/>
<line x1="839" y1="2238.9" x2="848" y2="2238.9" stroke="#000" stroke-width="1.5" stroke-linecap="butt"/>
<line x1="839" y1="2338.78" x2="848" y2="2338.78" stroke="#000" stroke-width="1.5" stroke-linecap="butt"/>
<line x1="868.3" y1="2235.27" x2="868.3" y2="2308.51" stroke="#000" stroke-width="1.5" stroke-linecap="butt"/>
<line x1="863.8" y1="2235.27" x2="872.8" y2="2235.27" stroke="#000" stroke-width="1.5" stroke-linecap="butt"/>
<line x1="863.8" y1="2308.51" x2="872.8" y2="2308.51" stroke="#000" stroke-width="1.5" stroke-linecap="butt"/>
<line x1="893.1" y1="2260.69" x2="893.1" y2="2310.02" stroke="#000" stroke-width="1.5" stroke-linecap="butt"/>
<line x1="888.6" y1="2260.69" x2="897.6" y2="2260.69" stroke="#000" stroke-width="1.5" stroke-linecap="butt"/>
<line x1="888.6" y1="2310.02" x2="897.6" y2="2310.02" stroke="#000" stroke-width="1.5" stroke-linecap="butt"/>
<line x1="918.2" y1="2283.39" x2="918.2" y2="2340.9" stroke="#000" stroke-width="1.5" stroke-linecap="butt"/>
<line x1="913.7" y1="2283.39" x2="922.7" y2="2283.39" stroke="#000" stroke-width="1.5" stroke-linecap="butt"/>
<line x1="913.7" y1="2340.9" x2="922.7" y2="2340.9" stroke="#000" stroke-width="1.5" stroke-linecap="butt"/>
<line x1="958.4" y1="2299.43" x2="958.4" y2="2311.54" stroke="#000" stroke-width="1.5" stroke-linecap="butt"/>
<line x1="953.9" y1="2299.43" x2="962.9" y2="2299.43" stroke="#000" stroke-width="1.5" stroke-linecap="butt"/>
<line x1="953.9" y1="2311.54" x2="962.9" y2="2311.54" stroke="#000" stroke-width="1.5" stroke-linecap="butt"/>
<line x1="983.2" y1="2249.49" x2="983.2" y2="2341.8" stroke="#000" stroke-width="1.5" stroke-linecap="butt"/>
<line x1="978.7" y1="2249.49" x2="987.7" y2="2249.49" stroke="#000" stroke-width="1.5" stroke-linecap="butt"/>
<line x1="978.7" y1="2341.8" x2="987.7" y2="2341.8" stroke="#000" stroke-width="1.5" stroke-linecap="butt"/>
<line x1="1007.7" y1="2385.69" x2="1007.7" y2="2412.93" stroke="#000" stroke-width="1.5" stroke-linecap="butt"/>
<line x1="1003.2" y1="2385.69" x2="1012.2" y2="2385.69" stroke="#000" stroke-width="1.5" stroke-linecap="butt"/>
<line x1="1003.2" y1="2412.93" x2="1012.2" y2="2412.93" stroke="#000" stroke-width="1.5" stroke-linecap="butt"/>
<g clip-path="url(#clipG)">
<circle cx="818.93" cy="2294.89" r="4.8" fill="#0000FF"/>
<circle cx="815.3" cy="2303.97" r="4.8" fill="#0000FF"/>
<circle cx="822.87" cy="2304.58" r="4.8" fill="#0000FF"/>
<circle cx="818.93" cy="2308.51" r="4.8" fill="#0000FF"/>
<circle cx="821.36" cy="2310.02" r="4.8" fill="#0000FF"/>
<circle cx="817.42" cy="2319.1" r="4.8" fill="#0000FF"/>
<circle cx="843.45" cy="2210.75" r="4.8" fill="#0000FF"/>
<circle cx="843.45" cy="2250.4" r="4.8" fill="#0000FF"/>
<circle cx="843.45" cy="2290.96" r="4.8" fill="#0000FF"/>
<circle cx="843.45" cy="2310.93" r="4.8" fill="#0000FF"/>
<circle cx="847.08" cy="2335.75" r="4.8" fill="#0000FF"/>
<circle cx="840.12" cy="2338.17" r="4.8" fill="#0000FF"/>
<circle cx="868.27" cy="2215.59" r="4.8" fill="#0000FF"/>
<circle cx="868.27" cy="2258.57" r="4.8" fill="#0000FF"/>
<circle cx="872.2" cy="2269.77" r="4.8" fill="#0000FF"/>
<circle cx="864.64" cy="2273.7" r="4.8" fill="#0000FF"/>
<circle cx="868.27" cy="2287.32" r="4.8" fill="#0000FF"/>
<circle cx="868.27" cy="2329.09" r="4.8" fill="#0000FF"/>
<circle cx="893.09" cy="2242.53" r="4.8" fill="#0000FF"/>
<circle cx="893.09" cy="2269.77" r="4.8" fill="#0000FF"/>
<circle cx="897.02" cy="2297.31" r="4.8" fill="#0000FF"/>
<circle cx="890.97" cy="2297.31" r="4.8" fill="#0000FF"/>
<circle cx="890.06" cy="2306.09" r="4.8" fill="#0000FF"/>
<circle cx="919.72" cy="2273.7" r="4.8" fill="#0000FF"/>
<circle cx="915.79" cy="2277.34" r="4.8" fill="#0000FF"/>
<circle cx="921.23" cy="2322.13" r="4.8" fill="#0000FF"/>
<circle cx="917.6" cy="2328.18" r="4.8" fill="#0000FF"/>
<circle cx="913.67" cy="2336.66" r="4.8" fill="#0000FF"/>
<circle cx="921.23" cy="2336.66" r="4.8" fill="#0000FF"/>
<circle cx="958.37" cy="2295.5" r="4.8" fill="#C800C8"/>
<circle cx="954.43" cy="2304.58" r="4.8" fill="#C800C8"/>
<circle cx="962.3" cy="2304.58" r="4.8" fill="#C800C8"/>
<circle cx="958.37" cy="2308.51" r="4.8" fill="#C800C8"/>
<circle cx="959.88" cy="2312.45" r="4.8" fill="#C800C8"/>
<circle cx="956.85" cy="2319.1" r="4.8" fill="#C800C8"/>
<circle cx="983.18" cy="2236.48" r="4.8" fill="#C800C8"/>
<circle cx="983.18" cy="2252.52" r="4.8" fill="#C800C8"/>
<circle cx="983.18" cy="2302.46" r="4.8" fill="#C800C8"/>
<circle cx="979.55" cy="2313.66" r="4.8" fill="#C800C8"/>
<circle cx="987.12" cy="2321.22" r="4.8" fill="#C800C8"/>
<circle cx="983.18" cy="2357.54" r="4.8" fill="#C800C8"/>
<circle cx="1004.67" cy="2380.54" r="4.8" fill="#C800C8"/>
<circle cx="1011.33" cy="2388.72" r="4.8" fill="#C800C8"/>
<circle cx="1007.7" cy="2396.28" r="4.8" fill="#C800C8"/>
<circle cx="1007.7" cy="2405.36" r="4.8" fill="#C800C8"/>
<circle cx="1010.73" cy="2410.81" r="4.8" fill="#C800C8"/>
<circle cx="1004.67" cy="2414.44" r="4.8" fill="#C800C8"/>
<circle cx="1029.49" cy="2412.02" r="4.8" fill="#C800C8"/>
<circle cx="1036.45" cy="2414.44" r="4.8" fill="#C800C8"/>
<circle cx="1032.52" cy="2415.96" r="4.8" fill="#C800C8"/>
<circle cx="1053.7" cy="2414.44" r="4.8" fill="#C800C8"/>
<circle cx="1060.67" cy="2414.44" r="4.8" fill="#C800C8"/>
<circle cx="1057.34" cy="2415.35" r="4.8" fill="#C800C8"/>
</g>
<path d="M958.4 2281.3V2221.3H1007.7V2367.5" fill="none" stroke="#000" stroke-width="2" stroke-linejoin="miter" stroke-linecap="butt"/>
<text x="983.2" y="2215.6" font-size="15.5" text-anchor="middle">&lt;0.0001</text>
<path d="M958.4 2202.6V2191H1032.5V2388.1" fill="none" stroke="#000" stroke-width="2" stroke-linejoin="miter" stroke-linecap="butt"/>
<text x="995.6" y="2185" font-size="15.5" text-anchor="middle">&lt;0.0001</text>
<path d="M958.4 2175.3V2167.2H1057.3V2388.1" fill="none" stroke="#000" stroke-width="2" stroke-linejoin="miter" stroke-linecap="butt"/>
<text x="1007.7" y="2161.1" font-size="15.5" text-anchor="middle">&lt;0.0001</text>
<path d="M815 2450.6L815 2447.3L922.5 2426L922.5 2450.6Z" fill="#000" stroke="none" stroke-width="0" stroke-linejoin="miter" stroke-linecap="butt"/>
<path d="M831.98 2447.3L919.4 2429.98L919.4 2447.3Z" fill="#0000FF" stroke="none" stroke-width="0" stroke-linejoin="miter" stroke-linecap="butt"/>
<path d="M956.9 2450.6L956.9 2447.3L1064.8 2426.5L1064.8 2450.6Z" fill="#000" stroke="none" stroke-width="0" stroke-linejoin="miter" stroke-linecap="butt"/>
<path d="M974.33 2447.3L1061.7 2430.46L1061.7 2447.3Z" fill="#C800C8" stroke="none" stroke-width="0" stroke-linejoin="miter" stroke-linecap="butt"/>
<text x="878" y="2469.8" font-size="20" text-anchor="middle">BSA</text>
<text x="1025" y="2469.8" font-size="20" text-anchor="middle">Heparin</text>
<text x="1249.5" y="2100.3" font-size="22" text-anchor="middle">SINV/EEEV WT</text>
<text x="1249.5" y="2125.2" font-size="22" text-anchor="middle">THP-1 LDLR</text>
<line x1="1113" y1="2189.6" x2="1113" y2="2421.7" stroke="#000" stroke-width="2.5" stroke-linecap="butt"/>
<line x1="1111.8" y1="2420.5" x2="1386.6" y2="2420.5" stroke="#000" stroke-width="2.5" stroke-linecap="butt"/>
<line x1="1177.8" y1="2420.5" x2="1177.8" y2="2429.6" stroke="#000" stroke-width="2.5" stroke-linecap="butt"/>
<line x1="1317.9" y1="2420.5" x2="1317.9" y2="2429.6" stroke="#000" stroke-width="2.5" stroke-linecap="butt"/>
<line x1="1103" y1="2420.5" x2="1113" y2="2420.5" stroke="#000" stroke-width="2.4" stroke-linecap="butt"/>
<text x="1100.6" y="2426.7" font-size="17.6" text-anchor="end">0</text>
<line x1="1103" y1="2363.12" x2="1113" y2="2363.12" stroke="#000" stroke-width="2.4" stroke-linecap="butt"/>
<text x="1100.6" y="2369.32" font-size="17.6" text-anchor="end">100</text>
<line x1="1103" y1="2305.75" x2="1113" y2="2305.75" stroke="#000" stroke-width="2.4" stroke-linecap="butt"/>
<text x="1100.6" y="2311.95" font-size="17.6" text-anchor="end">200</text>
<line x1="1103" y1="2248.38" x2="1113" y2="2248.38" stroke="#000" stroke-width="2.4" stroke-linecap="butt"/>
<text x="1100.6" y="2254.57" font-size="17.6" text-anchor="end">300</text>
<line x1="1103" y1="2191" x2="1113" y2="2191" stroke="#000" stroke-width="2.4" stroke-linecap="butt"/>
<text x="1100.6" y="2197.2" font-size="17.6" text-anchor="end">400</text>
<rect x="1122.6" y="2361.76" width="13.6" height="58.74" fill="#fff" stroke="#000" stroke-width="3"/>
<rect x="1147.4" y="2347.41" width="13.6" height="73.09" fill="#fff" stroke="#000" stroke-width="3"/>
<rect x="1171.9" y="2316.43" width="13.6" height="104.07" fill="#fff" stroke="#000" stroke-width="3"/>
<rect x="1196.7" y="2331.35" width="13.6" height="89.15" fill="#fff" stroke="#000" stroke-width="3"/>
<rect x="1221.5" y="2323.89" width="13.6" height="96.61" fill="#fff" stroke="#000" stroke-width="3"/>
<rect x="1262.4" y="2361.76" width="13.6" height="58.74" fill="#fff" stroke="#000" stroke-width="3"/>
<rect x="1287.5" y="2287.74" width="13.6" height="132.76" fill="#fff" stroke="#000" stroke-width="3"/>
<rect x="1311.7" y="2343.4" width="13.6" height="77.1" fill="#fff" stroke="#000" stroke-width="3"/>
<rect x="1336.8" y="2396.18" width="13.6" height="24.32" fill="#fff" stroke="#000" stroke-width="3"/>
<rect x="1361.6" y="2409.95" width="13.6" height="10.55" fill="#fff" stroke="#000" stroke-width="3"/>
<line x1="1129.4" y1="2353.91" x2="1129.4" y2="2369.04" stroke="#000" stroke-width="1.5" stroke-linecap="butt"/>
<line x1="1124.9" y1="2353.91" x2="1133.9" y2="2353.91" stroke="#000" stroke-width="1.5" stroke-linecap="butt"/>
<line x1="1124.9" y1="2369.04" x2="1133.9" y2="2369.04" stroke="#000" stroke-width="1.5" stroke-linecap="butt"/>
<line x1="1154.2" y1="2337.26" x2="1154.2" y2="2356.94" stroke="#000" stroke-width="1.5" stroke-linecap="butt"/>
<line x1="1149.7" y1="2337.26" x2="1158.7" y2="2337.26" stroke="#000" stroke-width="1.5" stroke-linecap="butt"/>
<line x1="1149.7" y1="2356.94" x2="1158.7" y2="2356.94" stroke="#000" stroke-width="1.5" stroke-linecap="butt"/>
<line x1="1178.7" y1="2308.51" x2="1178.7" y2="2320.62" stroke="#000" stroke-width="1.5" stroke-linecap="butt"/>
<line x1="1174.2" y1="2308.51" x2="1183.2" y2="2308.51" stroke="#000" stroke-width="1.5" stroke-linecap="butt"/>
<line x1="1174.2" y1="2320.62" x2="1183.2" y2="2320.62" stroke="#000" stroke-width="1.5" stroke-linecap="butt"/>
<line x1="1203.5" y1="2319.1" x2="1203.5" y2="2340.29" stroke="#000" stroke-width="1.5" stroke-linecap="butt"/>
<line x1="1199" y1="2319.1" x2="1208" y2="2319.1" stroke="#000" stroke-width="1.5" stroke-linecap="butt"/>
<line x1="1199" y1="2340.29" x2="1208" y2="2340.29" stroke="#000" stroke-width="1.5" stroke-linecap="butt"/>
<line x1="1228.3" y1="2310.02" x2="1228.3" y2="2335.75" stroke="#000" stroke-width="1.5" stroke-linecap="butt"/>
<line x1="1223.8" y1="2310.02" x2="1232.8" y2="2310.02" stroke="#000" stroke-width="1.5" stroke-linecap="butt"/>
<line x1="1223.8" y1="2335.75" x2="1232.8" y2="2335.75" stroke="#000" stroke-width="1.5" stroke-linecap="butt"/>
<line x1="1269.2" y1="2353.91" x2="1269.2" y2="2369.04" stroke="#000" stroke-width="1.5" stroke-linecap="butt"/>
<line x1="1264.7" y1="2353.91" x2="1273.7" y2="2353.91" stroke="#000" stroke-width="1.5" stroke-linecap="butt"/>
<line x1="1264.7" y1="2369.04" x2="1273.7" y2="2369.04" stroke="#000" stroke-width="1.5" stroke-linecap="butt"/>
<line x1="1294.3" y1="2249.49" x2="1294.3" y2="2323.64" stroke="#000" stroke-width="1.5" stroke-linecap="butt"/>
<line x1="1289.8" y1="2249.49" x2="1298.8" y2="2249.49" stroke="#000" stroke-width="1.5" stroke-linecap="butt"/>
<line x1="1289.8" y1="2323.64" x2="1298.8" y2="2323.64" stroke="#000" stroke-width="1.5" stroke-linecap="butt"/>
<line x1="1318.5" y1="2317.59" x2="1318.5" y2="2367.53" stroke="#000" stroke-width="1.5" stroke-linecap="butt"/>
<line x1="1314" y1="2317.59" x2="1323" y2="2317.59" stroke="#000" stroke-width="1.5" stroke-linecap="butt"/>
<line x1="1314" y1="2367.53" x2="1323" y2="2367.53" stroke="#000" stroke-width="1.5" stroke-linecap="butt"/>
<line x1="1343.6" y1="2388.11" x2="1343.6" y2="2400.82" stroke="#000" stroke-width="1.5" stroke-linecap="butt"/>
<line x1="1339.1" y1="2388.11" x2="1348.1" y2="2388.11" stroke="#000" stroke-width="1.5" stroke-linecap="butt"/>
<line x1="1339.1" y1="2400.82" x2="1348.1" y2="2400.82" stroke="#000" stroke-width="1.5" stroke-linecap="butt"/>
<g clip-path="url(#clipG)">
<circle cx="1126.34" cy="2351.79" r="4.8" fill="#0000FF"/>
<circle cx="1133.31" cy="2352.4" r="4.8" fill="#0000FF"/>
<circle cx="1129.37" cy="2359.96" r="4.8" fill="#0000FF"/>
<circle cx="1125.74" cy="2364.5" r="4.8" fill="#0000FF"/>
<circle cx="1132.4" cy="2364.5" r="4.8" fill="#0000FF"/>
<circle cx="1129.37" cy="2378.73" r="4.8" fill="#0000FF"/>
<circle cx="1150.56" cy="2332.72" r="4.8" fill="#0000FF"/>
<circle cx="1158.12" cy="2331.82" r="4.8" fill="#0000FF"/>
<circle cx="1154.19" cy="2338.78" r="4.8" fill="#0000FF"/>
<circle cx="1154.19" cy="2353.91" r="4.8" fill="#0000FF"/>
<circle cx="1158.12" cy="2355.42" r="4.8" fill="#0000FF"/>
<circle cx="1154.19" cy="2363.6" r="4.8" fill="#0000FF"/>
<circle cx="1176.89" cy="2306.39" r="4.8" fill="#0000FF"/>
<circle cx="1180.82" cy="2306.39" r="4.8" fill="#0000FF"/>
<circle cx="1176.28" cy="2314.56" r="4.8" fill="#0000FF"/>
<circle cx="1183.24" cy="2316.08" r="4.8" fill="#0000FF"/>
<circle cx="1174.77" cy="2319.1" r="4.8" fill="#0000FF"/>
<circle cx="1180.82" cy="2320.01" r="4.8" fill="#0000FF"/>
<circle cx="1200.5" cy="2316.08" r="4.8" fill="#0000FF"/>
<circle cx="1207.46" cy="2320.62" r="4.8" fill="#0000FF"/>
<circle cx="1203.52" cy="2325.16" r="4.8" fill="#0000FF"/>
<circle cx="1203.52" cy="2328.79" r="4.8" fill="#0000FF"/>
<circle cx="1205.64" cy="2339.69" r="4.8" fill="#0000FF"/>
<circle cx="1201.4" cy="2346.34" r="4.8" fill="#0000FF"/>
<circle cx="1224.71" cy="2298.52" r="4.8" fill="#0000FF"/>
<circle cx="1232.28" cy="2304.58" r="4.8" fill="#0000FF"/>
<circle cx="1228.34" cy="2305.48" r="4.8" fill="#0000FF"/>
<circle cx="1232.28" cy="2337.26" r="4.8" fill="#0000FF"/>
<circle cx="1227.74" cy="2338.78" r="4.8" fill="#0000FF"/>
<circle cx="1224.71" cy="2346.34" r="4.8" fill="#0000FF"/>
<circle cx="1265.57" cy="2352.4" r="4.8" fill="#C800C8"/>
<circle cx="1273.14" cy="2353.31" r="4.8" fill="#C800C8"/>
<circle cx="1268.6" cy="2359.96" r="4.8" fill="#C800C8"/>
<circle cx="1265.57" cy="2364.5" r="4.8" fill="#C800C8"/>
<circle cx="1271.62" cy="2364.5" r="4.8" fill="#C800C8"/>
<circle cx="1269.2" cy="2378.73" r="4.8" fill="#C800C8"/>
<circle cx="1297.95" cy="2242.83" r="4.8" fill="#C800C8"/>
<circle cx="1290.39" cy="2247.37" r="4.8" fill="#C800C8"/>
<circle cx="1294.32" cy="2263.11" r="4.8" fill="#C800C8"/>
<circle cx="1294.32" cy="2311.54" r="4.8" fill="#C800C8"/>
<circle cx="1297.95" cy="2322.13" r="4.8" fill="#C800C8"/>
<circle cx="1290.39" cy="2327.58" r="4.8" fill="#C800C8"/>
<circle cx="1314.9" cy="2315.47" r="4.8" fill="#C800C8"/>
<circle cx="1322.47" cy="2314.56" r="4.8" fill="#C800C8"/>
<circle cx="1318.54" cy="2330.3" r="4.8" fill="#C800C8"/>
<circle cx="1318.54" cy="2345.44" r="4.8" fill="#C800C8"/>
<circle cx="1318.54" cy="2363.9" r="4.8" fill="#C800C8"/>
<circle cx="1318.54" cy="2379.64" r="4.8" fill="#C800C8"/>
<circle cx="1343.58" cy="2386.6" r="4.8" fill="#C800C8"/>
<circle cx="1339.65" cy="2390.84" r="4.8" fill="#C800C8"/>
<circle cx="1346.61" cy="2394.77" r="4.8" fill="#C800C8"/>
<circle cx="1341.16" cy="2397.19" r="4.8" fill="#C800C8"/>
<circle cx="1345.7" cy="2397.8" r="4.8" fill="#C800C8"/>
<circle cx="1368.4" cy="2400.82" r="4.8" fill="#C800C8"/>
<circle cx="1364.77" cy="2406.27" r="4.8" fill="#C800C8"/>
<circle cx="1371.43" cy="2408.39" r="4.8" fill="#C800C8"/>
<circle cx="1368.4" cy="2409.9" r="4.8" fill="#C800C8"/>
</g>
<path d="M1269.2 2337.3V2236.8H1294.3V2239" fill="none" stroke="#000" stroke-width="2" stroke-linejoin="miter" stroke-linecap="butt"/>
<text x="1281.6" y="2230.4" font-size="15.5" text-anchor="middle">&lt;0.0001</text>
<path d="M1269.2 2213.2V2203.5H1343.6V2371.2" fill="none" stroke="#000" stroke-width="2" stroke-linejoin="miter" stroke-linecap="butt"/>
<text x="1306.4" y="2197.4" font-size="15.5" text-anchor="middle">0.0480</text>
<path d="M1269.2 2191V2179H1368.4V2381.2" fill="none" stroke="#000" stroke-width="2" stroke-linejoin="miter" stroke-linecap="butt"/>
<text x="1318.5" y="2173.2" font-size="15.5" text-anchor="middle">0.0015</text>
<path d="M1126.3 2450.6L1126.3 2447.3L1233.4 2426.5L1233.4 2450.6Z" fill="#000" stroke="none" stroke-width="0" stroke-linejoin="miter" stroke-linecap="butt"/>
<path d="M1143.61 2447.3L1230.3 2430.46L1230.3 2447.3Z" fill="#0000FF" stroke="none" stroke-width="0" stroke-linejoin="miter" stroke-linecap="butt"/>
<path d="M1268.6 2450.6L1268.6 2447.3L1376.5 2427.2L1376.5 2450.6Z" fill="#000" stroke="none" stroke-width="0" stroke-linejoin="miter" stroke-linecap="butt"/>
<path d="M1286.62 2447.3L1373.4 2431.13L1373.4 2447.3Z" fill="#C800C8" stroke="none" stroke-width="0" stroke-linejoin="miter" stroke-linecap="butt"/>
<text x="1189.9" y="2469.8" font-size="20" text-anchor="middle">BSA</text>
<text x="1336" y="2469.8" font-size="20" text-anchor="middle">Heparin</text>
<text x="1552.4" y="2100.3" font-size="22" text-anchor="middle">SINV/EEEV WT</text>
<text x="1552.4" y="2125.2" font-size="22" text-anchor="middle">N2a ΔB4galt7-LDLR</text>
<line x1="1417.7" y1="2189.6" x2="1417.7" y2="2421.7" stroke="#000" stroke-width="2.5" stroke-linecap="butt"/>
<line x1="1416.5" y1="2420.5" x2="1690.7" y2="2420.5" stroke="#000" stroke-width="2.5" stroke-linecap="butt"/>
<line x1="1482.8" y1="2420.5" x2="1482.8" y2="2429.6" stroke="#000" stroke-width="2.5" stroke-linecap="butt"/>
<line x1="1622.6" y1="2420.5" x2="1622.6" y2="2429.6" stroke="#000" stroke-width="2.5" stroke-linecap="butt"/>
<line x1="1407.7" y1="2420.5" x2="1417.7" y2="2420.5" stroke="#000" stroke-width="2.4" stroke-linecap="butt"/>
<text x="1405.3" y="2426.7" font-size="17.6" text-anchor="end">0</text>
<line x1="1407.7" y1="2363.12" x2="1417.7" y2="2363.12" stroke="#000" stroke-width="2.4" stroke-linecap="butt"/>
<text x="1405.3" y="2369.32" font-size="17.6" text-anchor="end">50</text>
<line x1="1407.7" y1="2305.75" x2="1417.7" y2="2305.75" stroke="#000" stroke-width="2.4" stroke-linecap="butt"/>
<text x="1405.3" y="2311.95" font-size="17.6" text-anchor="end">100</text>
<line x1="1407.7" y1="2248.38" x2="1417.7" y2="2248.38" stroke="#000" stroke-width="2.4" stroke-linecap="butt"/>
<text x="1405.3" y="2254.57" font-size="17.6" text-anchor="end">150</text>
<line x1="1407.7" y1="2191" x2="1417.7" y2="2191" stroke="#000" stroke-width="2.4" stroke-linecap="butt"/>
<text x="1405.3" y="2197.2" font-size="17.6" text-anchor="end">200</text>
<rect x="1426.7" y="2307.25" width="13.6" height="113.25" fill="#fff" stroke="#000" stroke-width="3"/>
<rect x="1451.5" y="2311.84" width="13.6" height="108.66" fill="#fff" stroke="#000" stroke-width="3"/>
<rect x="1476" y="2304.95" width="13.6" height="115.55" fill="#fff" stroke="#000" stroke-width="3"/>
<rect x="1500.8" y="2294.63" width="13.6" height="125.87" fill="#fff" stroke="#000" stroke-width="3"/>
<rect x="1525.6" y="2260.2" width="13.6" height="160.3" fill="#fff" stroke="#000" stroke-width="3"/>
<rect x="1566.5" y="2307.25" width="13.6" height="113.25" fill="#fff" stroke="#000" stroke-width="3"/>
<rect x="1591.3" y="2299.22" width="13.6" height="121.28" fill="#fff" stroke="#000" stroke-width="3"/>
<rect x="1615.8" y="2276.84" width="13.6" height="143.66" fill="#fff" stroke="#000" stroke-width="3"/>
<rect x="1641" y="2286.59" width="13.6" height="133.91" fill="#fff" stroke="#000" stroke-width="3"/>
<rect x="1665.8" y="2366.92" width="13.6" height="53.58" fill="#fff" stroke="#000" stroke-width="3"/>
<line x1="1458.3" y1="2302.46" x2="1458.3" y2="2317.59" stroke="#000" stroke-width="1.5" stroke-linecap="butt"/>
<line x1="1453.8" y1="2302.46" x2="1462.8" y2="2302.46" stroke="#000" stroke-width="1.5" stroke-linecap="butt"/>
<line x1="1453.8" y1="2317.59" x2="1462.8" y2="2317.59" stroke="#000" stroke-width="1.5" stroke-linecap="butt"/>
<line x1="1482.8" y1="2296.4" x2="1482.8" y2="2310.02" stroke="#000" stroke-width="1.5" stroke-linecap="butt"/>
<line x1="1478.3" y1="2296.4" x2="1487.3" y2="2296.4" stroke="#000" stroke-width="1.5" stroke-linecap="butt"/>
<line x1="1478.3" y1="2310.02" x2="1487.3" y2="2310.02" stroke="#000" stroke-width="1.5" stroke-linecap="butt"/>
<line x1="1507.6" y1="2283.39" x2="1507.6" y2="2302.46" stroke="#000" stroke-width="1.5" stroke-linecap="butt"/>
<line x1="1503.1" y1="2283.39" x2="1512.1" y2="2283.39" stroke="#000" stroke-width="1.5" stroke-linecap="butt"/>
<line x1="1503.1" y1="2302.46" x2="1512.1" y2="2302.46" stroke="#000" stroke-width="1.5" stroke-linecap="butt"/>
<line x1="1532.4" y1="2254.03" x2="1532.4" y2="2263.11" stroke="#000" stroke-width="1.5" stroke-linecap="butt"/>
<line x1="1527.9" y1="2254.03" x2="1536.9" y2="2254.03" stroke="#000" stroke-width="1.5" stroke-linecap="butt"/>
<line x1="1527.9" y1="2263.11" x2="1536.9" y2="2263.11" stroke="#000" stroke-width="1.5" stroke-linecap="butt"/>
<line x1="1598.1" y1="2291.86" x2="1598.1" y2="2302.46" stroke="#000" stroke-width="1.5" stroke-linecap="butt"/>
<line x1="1593.6" y1="2291.86" x2="1602.6" y2="2291.86" stroke="#000" stroke-width="1.5" stroke-linecap="butt"/>
<line x1="1593.6" y1="2302.46" x2="1602.6" y2="2302.46" stroke="#000" stroke-width="1.5" stroke-linecap="butt"/>
<line x1="1622.6" y1="2245.56" x2="1622.6" y2="2303.97" stroke="#000" stroke-width="1.5" stroke-linecap="butt"/>
<line x1="1618.1" y1="2245.56" x2="1627.1" y2="2245.56" stroke="#000" stroke-width="1.5" stroke-linecap="butt"/>
<line x1="1618.1" y1="2303.97" x2="1627.1" y2="2303.97" stroke="#000" stroke-width="1.5" stroke-linecap="butt"/>
<line x1="1647.8" y1="2275.22" x2="1647.8" y2="2294.89" stroke="#000" stroke-width="1.5" stroke-linecap="butt"/>
<line x1="1643.3" y1="2275.22" x2="1652.3" y2="2275.22" stroke="#000" stroke-width="1.5" stroke-linecap="butt"/>
<line x1="1643.3" y1="2294.89" x2="1652.3" y2="2294.89" stroke="#000" stroke-width="1.5" stroke-linecap="butt"/>
<line x1="1672.6" y1="2340.29" x2="1672.6" y2="2388.72" stroke="#000" stroke-width="1.5" stroke-linecap="butt"/>
<line x1="1668.1" y1="2340.29" x2="1677.1" y2="2340.29" stroke="#000" stroke-width="1.5" stroke-linecap="butt"/>
<line x1="1668.1" y1="2388.72" x2="1677.1" y2="2388.72" stroke="#000" stroke-width="1.5" stroke-linecap="butt"/>
<g clip-path="url(#clipG)">
<circle cx="1429.84" cy="2302.46" r="4.8" fill="#0000FF"/>
<circle cx="1437.41" cy="2303.06" r="4.8" fill="#0000FF"/>
<circle cx="1433.47" cy="2305.48" r="4.8" fill="#0000FF"/>
<circle cx="1429.84" cy="2312.45" r="4.8" fill="#0000FF"/>
<circle cx="1437.41" cy="2307" r="4.8" fill="#0000FF"/>
<circle cx="1461.62" cy="2299.43" r="4.8" fill="#0000FF"/>
<circle cx="1454.66" cy="2305.48" r="4.8" fill="#0000FF"/>
<circle cx="1461.62" cy="2311.54" r="4.8" fill="#0000FF"/>
<circle cx="1458.29" cy="2322.13" r="4.8" fill="#0000FF"/>
<circle cx="1486.44" cy="2291.86" r="4.8" fill="#0000FF"/>
<circle cx="1478.87" cy="2297.01" r="4.8" fill="#0000FF"/>
<circle cx="1486.44" cy="2306.39" r="4.8" fill="#0000FF"/>
<circle cx="1478.87" cy="2313.96" r="4.8" fill="#0000FF"/>
<circle cx="1511.26" cy="2277.64" r="4.8" fill="#0000FF"/>
<circle cx="1503.69" cy="2279.76" r="4.8" fill="#0000FF"/>
<circle cx="1503.69" cy="2305.48" r="4.8" fill="#0000FF"/>
<circle cx="1511.26" cy="2305.48" r="4.8" fill="#0000FF"/>
<circle cx="1531.84" cy="2249.49" r="4.8" fill="#0000FF"/>
<circle cx="1528.81" cy="2258.57" r="4.8" fill="#0000FF"/>
<circle cx="1535.77" cy="2259.18" r="4.8" fill="#0000FF"/>
<circle cx="1528.81" cy="2263.11" r="4.8" fill="#0000FF"/>
<circle cx="1569.67" cy="2302.46" r="4.8" fill="#C800C8"/>
<circle cx="1577.24" cy="2303.06" r="4.8" fill="#C800C8"/>
<circle cx="1573.3" cy="2305.48" r="4.8" fill="#C800C8"/>
<circle cx="1577.24" cy="2307.6" r="4.8" fill="#C800C8"/>
<circle cx="1569.67" cy="2313.05" r="4.8" fill="#C800C8"/>
<circle cx="1594.49" cy="2289.44" r="4.8" fill="#C800C8"/>
<circle cx="1602.06" cy="2289.44" r="4.8" fill="#C800C8"/>
<circle cx="1601.45" cy="2302.46" r="4.8" fill="#C800C8"/>
<circle cx="1594.49" cy="2305.48" r="4.8" fill="#C800C8"/>
<circle cx="1626.57" cy="2246.46" r="4.8" fill="#C800C8"/>
<circle cx="1619" cy="2253.12" r="4.8" fill="#C800C8"/>
<circle cx="1626.57" cy="2295.5" r="4.8" fill="#C800C8"/>
<circle cx="1619" cy="2302.46" r="4.8" fill="#C800C8"/>
<circle cx="1643.82" cy="2272.19" r="4.8" fill="#C800C8"/>
<circle cx="1651.39" cy="2271.59" r="4.8" fill="#C800C8"/>
<circle cx="1651.39" cy="2292.77" r="4.8" fill="#C800C8"/>
<circle cx="1643.82" cy="2299.43" r="4.8" fill="#C800C8"/>
<circle cx="1672.58" cy="2336.36" r="4.8" fill="#C800C8"/>
<circle cx="1672.58" cy="2354.52" r="4.8" fill="#C800C8"/>
<circle cx="1668.94" cy="2385.08" r="4.8" fill="#C800C8"/>
<circle cx="1676.21" cy="2385.08" r="4.8" fill="#C800C8"/>
</g>
<path d="M1573.3 2288.2V2220.7H1622.6V2232.8" fill="none" stroke="#000" stroke-width="2" stroke-linejoin="miter" stroke-linecap="butt"/>
<text x="1597.8" y="2214.7" font-size="15.5" text-anchor="middle">0.0349</text>
<path d="M1573.3 2200.2V2191H1672.6V2315.5" fill="none" stroke="#000" stroke-width="2" stroke-linejoin="miter" stroke-linecap="butt"/>
<text x="1622.6" y="2185" font-size="15.5" text-anchor="middle">&lt;0.0001</text>
<path d="M1430.4 2451.2L1430.4 2447.9L1537.8 2427.2L1537.8 2451.2Z" fill="#000" stroke="none" stroke-width="0" stroke-linejoin="miter" stroke-linecap="butt"/>
<path d="M1447.84 2447.9L1534.7 2431.16L1534.7 2447.9Z" fill="#0000FF" stroke="none" stroke-width="0" stroke-linejoin="miter" stroke-linecap="butt"/>
<path d="M1572.7 2451.2L1572.7 2447.9L1679.7 2427.5L1679.7 2451.2Z" fill="#000" stroke="none" stroke-width="0" stroke-linejoin="miter" stroke-linecap="butt"/>
<path d="M1590.32 2447.9L1676.6 2431.45L1676.6 2447.9Z" fill="#C800C8" stroke="none" stroke-width="0" stroke-linejoin="miter" stroke-linecap="butt"/>
<text x="1493.4" y="2470.4" font-size="20" text-anchor="middle">BSA</text>
<text x="1640.2" y="2470.4" font-size="20" text-anchor="middle">Heparin</text>
</svg>
</body></html>
